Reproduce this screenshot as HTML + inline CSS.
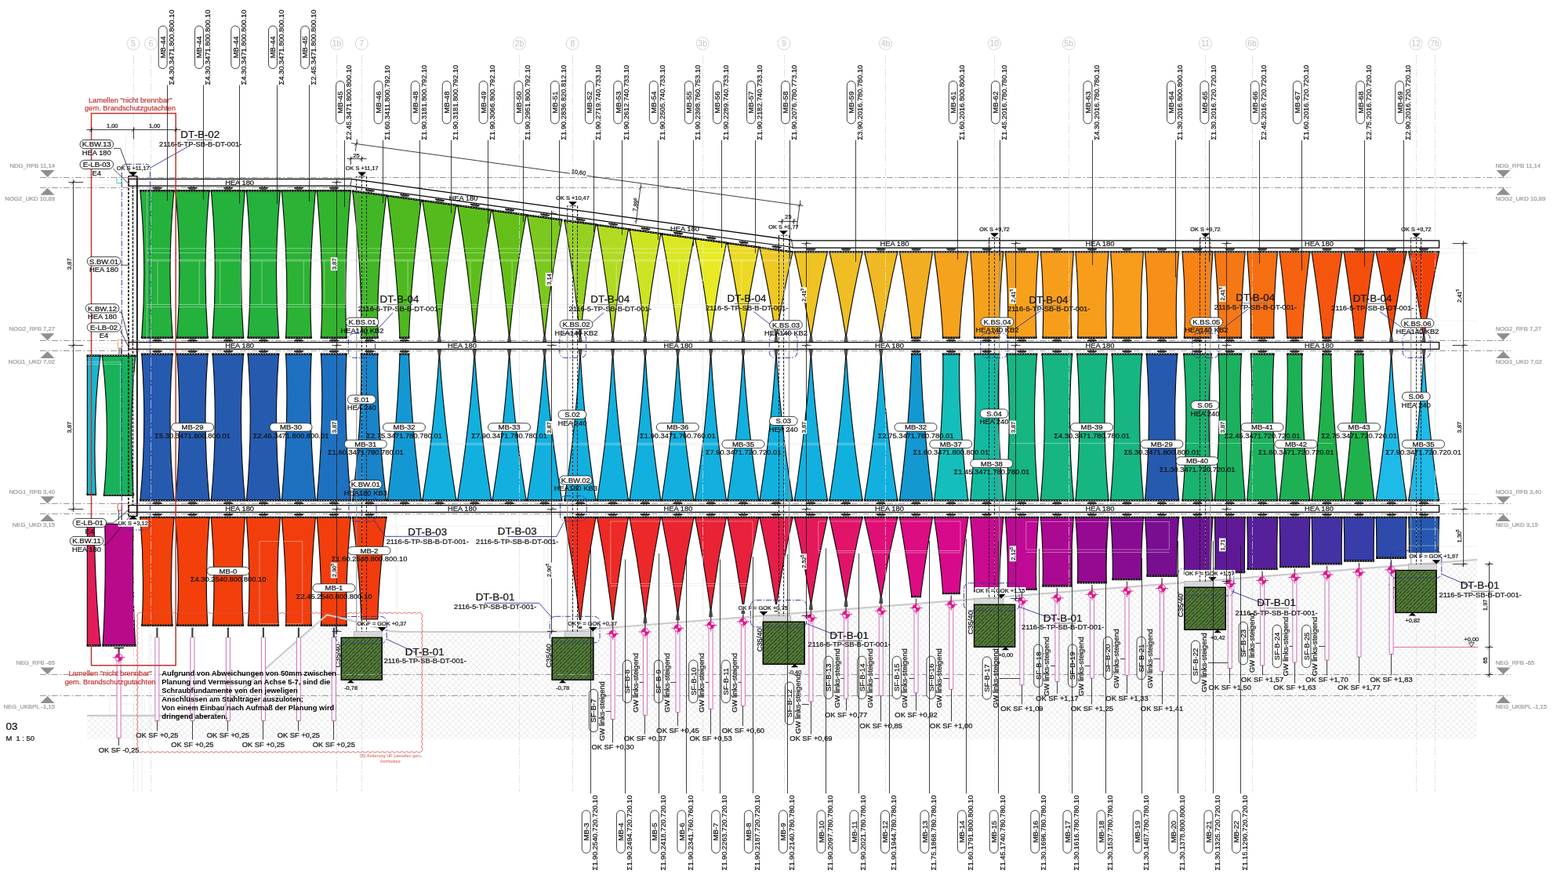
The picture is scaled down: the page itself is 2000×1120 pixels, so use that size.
<!DOCTYPE html><html lang="de"><head><meta charset="utf-8"><title>Ansicht 03 - Lamellen</title><style>
html,body{margin:0;padding:0;background:#fff}
svg{display:block}
text{font-family:"Liberation Sans",sans-serif;fill:#141414;stroke:#141414;stroke-width:.24px}
.t{font-size:9.35px}
.tp{font-size:9.55px}
.tsg{font-size:9.25px}
.ts{font-size:7.6px}
.tl{font-size:13.4px}
.tb{font-size:9.35px;font-weight:bold;fill:#000;stroke:none}
.tg{font-size:7.7px;fill:#979797;stroke:#979797;stroke-width:.2px}
.ta{font-size:10.5px;fill:#c4c4c4;stroke:none}
.tr{font-size:9.3px;fill:#c53030;stroke:#c53030;stroke-width:.2px}
.trs{font-size:5.5px;fill:#e05050;stroke:none}
.td{font-size:7.4px}
.k{stroke:#111;stroke-width:.8}
.k2{stroke:#000;stroke-width:1.3}
.kb{stroke:#000;stroke-width:1.25}
.kd{stroke:#111;stroke-width:.9;stroke-dasharray:3.2 1.8}
.ld{stroke:#1c1c1c;stroke-width:.85}
.pl{stroke:#111;stroke-width:.8}
.sl{stroke:#0a0a0a;stroke-width:1.15;stroke-linejoin:miter}
.cap{stroke:#000;stroke-width:2.2}
.capd{stroke:#fff;stroke-width:.7;stroke-dasharray:1.6 1.7}
.br{fill:#7d7d7d;stroke:#333;stroke-width:.5}
.tc{fill:#555;stroke:#111;stroke-width:.6}
.axw{stroke:#e8eef0;stroke-opacity:.75;stroke-width:.8;stroke-dasharray:11 2.5 2 2.5}
.ax{stroke:#d3dde1;stroke-width:.75;stroke-dasharray:11 2.5 2 2.5}
.axc{stroke:#cfcfcf;stroke-width:.9;fill:#fff}
.lv{stroke:#7d7d7d;stroke-width:.8;stroke-dasharray:7.8 2.8 1.8 2.6}
.lt{fill:#8f8f8f;stroke:none}
.rd{stroke:#c0352f;stroke-width:1.5}
.rc{stroke:#e24a4a;stroke-width:.8}
.bl{stroke:#33339a;stroke-width:.9}
.bd{stroke:#35359e;stroke-width:.95;stroke-dasharray:7 2 1.5 2}
.gt{stroke:#cbcbcb;stroke-width:2.2;stroke-linejoin:round}
.ar{stroke:#e3e3e3;stroke-width:.8}
.arw{stroke:#fff;stroke-opacity:.55;stroke-width:.7}
.pk{stroke:#c870bb;stroke-width:1;fill:#fff}
.mg{stroke:#e6148c;stroke-width:.9}
.mgf{fill:#e6148c;stroke:none}
.fd{fill:#527838;stroke:#000;stroke-width:1.1}
.fc{fill:#d9d9d9;stroke:#9a9a9a;stroke-width:.6}
.bk{fill:#000;stroke:none}
.wb{fill:#fff;stroke:none}
</style></head><body>
<svg width="2000" height="1120" viewBox="0 0 2000 1120" fill="none">
<defs><pattern id="gh" width="7.6" height="7.6" patternUnits="userSpaceOnUse"><path d="M0 0L7.6 7.6M7.6 0L0 7.6" stroke="#e6e6e6" stroke-width=".95" fill="none"/></pattern><pattern id="fh" width="9.6" height="9.6" patternUnits="userSpaceOnUse"><path d="M-1 10.6L10.6 -1M-1 1L1 -1" stroke="#000" stroke-width=".6" fill="none"/><path d="M-1 5.8L5.8 -1M3.8 10.6L10.6 3.8" stroke="#000" stroke-width=".6" stroke-dasharray="3 2" fill="none"/></pattern></defs>
<rect x="0" y="0" width="2000" height="1120" fill="#fff"/>
<path class="" d="M111 913L272 913L410 790L470 806.3L700 806.3L800 799L1200 767.56L1600 736.12L1884 713.8L1884 942.5L111 942.5Z" fill="url(#gh)" stroke="none"/>
<path class="ax" d="M170.5 70L170.5 1011"/>
<circle class="axc" cx="170" cy="55.5" r="8"/>
<text class="ta" x="170" y="59.2" text-anchor="middle">5</text>
<path class="ax" d="M192.5 70L192.5 1011"/>
<circle class="axc" cx="192.5" cy="55.5" r="8"/>
<text class="ta" x="192.5" y="59.2" text-anchor="middle">6</text>
<path class="ax" d="M429.5 70L429.5 1011"/>
<circle class="axc" cx="429.5" cy="55.5" r="8"/>
<text class="ta" x="429.5" y="59.2" text-anchor="middle">1b</text>
<path class="ax" d="M461.5 70L461.5 1011"/>
<circle class="axc" cx="461.25" cy="55.5" r="8"/>
<text class="ta" x="461.25" y="59.2" text-anchor="middle">7</text>
<path class="ax" d="M662.5 70L662.5 1011"/>
<circle class="axc" cx="662.5" cy="55.5" r="8"/>
<text class="ta" x="662.5" y="59.2" text-anchor="middle">2b</text>
<path class="ax" d="M730.5 70L730.5 1011"/>
<circle class="axc" cx="730.3" cy="55.5" r="8"/>
<text class="ta" x="730.3" y="59.2" text-anchor="middle">8</text>
<path class="ax" d="M896.5 70L896.5 1011"/>
<circle class="axc" cx="896.2" cy="55.5" r="8"/>
<text class="ta" x="896.2" y="59.2" text-anchor="middle">3b</text>
<path class="ax" d="M1000.5 70L1000.5 1011"/>
<circle class="axc" cx="1000" cy="55.5" r="8"/>
<text class="ta" x="1000" y="59.2" text-anchor="middle">9</text>
<path class="ax" d="M1129.5 70L1129.5 1011"/>
<circle class="axc" cx="1129.5" cy="55.5" r="8"/>
<text class="ta" x="1129.5" y="59.2" text-anchor="middle">4b</text>
<path class="ax" d="M1268.5 70L1268.5 1011"/>
<circle class="axc" cx="1268.3" cy="55.5" r="8"/>
<text class="ta" x="1268.3" y="59.2" text-anchor="middle">10</text>
<path class="ax" d="M1363.5 70L1363.5 1011"/>
<circle class="axc" cx="1363.2" cy="55.5" r="8"/>
<text class="ta" x="1363.2" y="59.2" text-anchor="middle">5b</text>
<path class="ax" d="M1537.5 70L1537.5 1011"/>
<circle class="axc" cx="1537.4" cy="55.5" r="8"/>
<text class="ta" x="1537.4" y="59.2" text-anchor="middle">11</text>
<path class="ax" d="M1597.5 70L1597.5 1011"/>
<circle class="axc" cx="1597" cy="55.5" r="8"/>
<text class="ta" x="1597" y="59.2" text-anchor="middle">6b</text>
<path class="ax" d="M1806.5 70L1806.5 1011"/>
<circle class="axc" cx="1806.2" cy="55.5" r="8"/>
<text class="ta" x="1806.2" y="59.2" text-anchor="middle">12</text>
<path class="ax" d="M1830.5 70L1830.5 1011"/>
<circle class="axc" cx="1830" cy="55.5" r="8"/>
<text class="ta" x="1830" y="59.2" text-anchor="middle">7b</text>
<path class="lv" d="M51 226.5L1927 226.5"/>
<path class="lt" d="M51.5 217.1L69.5 217.1L60.5 226Z"/>
<path class="lt" d="M1908.5 217.1L1926.5 217.1L1917.5 226Z"/>
<text class="tg" x="70" y="214.1" text-anchor="end">NDG_RFB 11,14</text>
<text class="tg" x="1907.5" y="214.1">NDG_RFB 11,14</text>
<path class="lv" d="M51 239.5L1927 239.5"/>
<path class="lt" d="M51.5 248.8L69.5 248.8L60.5 239.7Z"/>
<path class="lt" d="M1908.5 248.8L1926.5 248.8L1917.5 239.7Z"/>
<text class="tg" x="70" y="255.9" text-anchor="end">NOG2_UKD 10,89</text>
<text class="tg" x="1907.5" y="255.9">NOG2_UKD 10,89</text>
<path class="lv" d="M51 434.5L1927 434.5"/>
<path class="lt" d="M51.5 425.3L69.5 425.3L60.5 434.2Z"/>
<path class="lt" d="M1908.5 425.3L1926.5 425.3L1917.5 434.2Z"/>
<text class="tg" x="70" y="422.3" text-anchor="end">NOG2_RFB 7,27</text>
<text class="tg" x="1907.5" y="422.3">NOG2_RFB 7,27</text>
<path class="lv" d="M51 447.5L1927 447.5"/>
<path class="lt" d="M51.5 457L69.5 457L60.5 447.9Z"/>
<path class="lt" d="M1908.5 457L1926.5 457L1917.5 447.9Z"/>
<text class="tg" x="70" y="464.1" text-anchor="end">NOG1_UKD 7,02</text>
<text class="tg" x="1907.5" y="464.1">NOG1_UKD 7,02</text>
<path class="lv" d="M51 642.5L1927 642.5"/>
<path class="lt" d="M51.5 633.3L69.5 633.3L60.5 642.2Z"/>
<path class="lt" d="M1908.5 633.3L1926.5 633.3L1917.5 642.2Z"/>
<text class="tg" x="70" y="630.3" text-anchor="end">NOG1_RFB 3,40</text>
<text class="tg" x="1907.5" y="630.3">NOG1_RFB 3,40</text>
<path class="lv" d="M51 655.5L1927 655.5"/>
<path class="lt" d="M51.5 665L69.5 665L60.5 655.9Z"/>
<path class="lt" d="M1908.5 665L1926.5 665L1917.5 655.9Z"/>
<text class="tg" x="70" y="672.1" text-anchor="end">NEG_UKD 3,15</text>
<text class="tg" x="1907.5" y="672.1">NEG_UKD 3,15</text>
<path class="lv" d="M51 860.5L1927 860.5"/>
<path class="lt" d="M51.5 851.4L69.5 851.4L60.5 860.3Z"/>
<path class="lt" d="M1908.5 851.4L1926.5 851.4L1917.5 860.3Z"/>
<text class="tg" x="70" y="848.4" text-anchor="end">NEG_RFB -65</text>
<text class="tg" x="1907.5" y="848.4">NEG_RFB -65</text>
<path class="lv" d="M51 887.5L1927 887.5"/>
<path class="lt" d="M51.5 897L69.5 897L60.5 887.9Z"/>
<path class="lt" d="M1908.5 897L1926.5 897L1917.5 887.9Z"/>
<text class="tg" x="70" y="904.1" text-anchor="end">NEG_UKBPL -1,15</text>
<text class="tg" x="1907.5" y="904.1">NEG_UKBPL -1,15</text>
<path class="ar" d="M187 317L1885 317M187 322.6L1885 322.6M187 331.4L1010 331.4M187 333L1010 333M187 388.5L1010 388.5M187 391.6L1010 391.6M201 333L201 388.5M227.6 333L227.6 388.5M254.2 333L254.2 388.5M280.8 333L280.8 388.5M307.4 333L307.4 388.5M334 333L334 388.5M360.6 333L360.6 388.5M387.2 333L387.2 388.5M413.8 333L413.8 388.5M440.4 333L440.4 388.5M467 333L467 388.5M493.6 333L493.6 388.5M520.2 333L520.2 388.5M546.8 333L546.8 388.5M573.4 333L573.4 388.5M600 333L600 388.5M626.6 333L626.6 388.5M653.2 333L653.2 388.5M679.8 333L679.8 388.5M706.4 333L706.4 388.5M733 333L733 388.5M759.6 333L759.6 388.5M786.2 333L786.2 388.5M812.8 333L812.8 388.5M839.4 333L839.4 388.5M866 333L866 388.5M892.6 333L892.6 388.5M919.2 333L919.2 388.5M945.8 333L945.8 388.5M972.4 333L972.4 388.5M999 333L999 388.5M187.5 226L187.5 440M160.5 170L160.5 226M531 565.5L1130 565.5M531 567.5L1130 567.5M1290 565.5L1700 565.5M111 461.8L155 461.8M111 464.6L155 464.6M153.6 462L153.6 630M505 657.5L698.8 657.5M505 805.5L698.8 805.5M505 657.5L505 805.5M698.8 657.5L698.8 805.5M507.5 671L693.8 671M507.5 805.5L693.8 805.5M507.5 671L507.5 805.5M693.8 671L693.8 805.5M331 690.6L385.7 690.6M331 795.7L385.7 795.7M331 690.6L331 795.7M385.7 690.6L385.7 795.7M778.8 665L960 665M778.8 744.5L960 744.5M778.8 665L778.8 744.5M960 665L960 744.5M778.8 747.5L960 747.5M1043.8 665L1225 665M1043.8 702.5L1225 702.5M1043.8 665L1043.8 702.5M1225 665L1225 702.5M1043.8 705L1225 705M1308.8 665.5L1491.3 665.5M1308.8 701L1491.3 701M1308.8 665.5L1308.8 701M1491.3 665.5L1491.3 701M1308.8 704.5L1491.3 704.5M1796 675L1834 675M1796 696L1834 696M1796 675L1796 696M1834 675L1834 696M1799 330L1813 330M1799 394L1813 394M1799 330L1799 394M1813 330L1813 394M1835 409.5L1885 409.5M1835 440.8L1885 440.8M1835 630.5L1885 630.5M1835 638.5L1885 638.5M1835 697L1885 697M112 230L156 230M112 236L156 236M112 438.5L156 438.5M112 444L156 444M112 646.5L156 646.5M112 652L156 652M175.5 800L175.5 1010M181 800L181 1010M190 800L190 960M140 880L140 912M184 880L184 912M140 880L184 880M143 898L181 898"/>
<g id="slats">
<path class="sl" fill="#16b8cf" d="M111.3 454L128 454Q117.6 535 122.4 630.5L111.3 630.5Z"/>
<path class="sl" fill="#18b25a" d="M130.4 454L172.8 454Q163.6 540 170.4 631.5L132.6 631.5Q141 540 130.4 454Z"/>
<path class="cap" d="M110.8 453.5L128.4 453.5"/><path class="capd" d="M113.2 453.5L127 453.5"/>
<path class="k" d="M111 452.8L111 455.6M128.2 452.8L128.2 455.6"/>
<path class="cap" d="M110.8 631L122.8 631"/><path class="capd" d="M113.2 631L121.4 631"/>
<path class="k" d="M111 631.7L111 628.9M122.6 631.7L122.6 628.9"/>
<path class="cap" d="M129.8 453.5L173.2 453.5"/><path class="capd" d="M132.2 453.5L171.8 453.5"/>
<path class="k" d="M130 452.8L130 455.6M173 452.8L173 455.6"/>
<path class="cap" d="M132 632L171 632"/><path class="capd" d="M134.4 632L169.6 632"/>
<path class="k" d="M132.2 632.7L132.2 629.9M170.8 632.7L170.8 629.9"/>
<path class="sl" fill="#e6195f" d="M111.3 668.5L120.2 668.5Q121 750 128 823L111.3 823Z"/>
<path class="sl" fill="#b90a8c" d="M133.8 668.5L170.2 668.5Q168.5 750 172.6 823L131.2 823Q135.5 750 133.8 668.5Z"/>
<path class="cap" d="M110.8 823.7L128.4 823.7"/><path class="capd" d="M113.2 823.7L127 823.7"/>
<path class="k" d="M111 824.4L111 821.6M128.2 824.4L128.2 821.6"/>
<path class="cap" d="M130.6 823.7L173.2 823.7"/><path class="capd" d="M133 823.7L171.8 823.7"/>
<path class="k" d="M130.8 824.4L130.8 821.6M173 824.4L173 821.6"/>
<path class="sl" fill="#24b13c" d="M178.9 243.7L221.9 243.7Q213.17 337.05 220.01 430.4L180.79 430.4Q187.63 337.05 178.9 243.7Z"/>
<path class="cap" d="M178.3 243.2L222.5 243.2"/><path class="capd" d="M180.7 243.2L221.1 243.2"/>
<path class="k" d="M178.5 242.5L178.5 245.3M222.3 242.5L222.3 245.3"/>
<path class="br" d="M194.8 239.8L206 239.8L203.8 241.7L197 241.7Z"/>
<path class="k2" d="M194.4 239.5L206.4 239.5"/>
<path class="k" d="M198.8 239.5L198.8 237.5M202 239.5L202 237.5"/>
<path class="cap" d="M180.19 430.9L220.61 430.9"/><path class="capd" d="M182.59 430.9L219.21 430.9"/>
<path class="k" d="M180.39 431.6L180.39 428.8M220.41 431.6L220.41 428.8"/>
<path class="br" d="M194.8 434.3L206 434.3L203.8 432.4L197 432.4Z"/>
<path class="k2" d="M194.4 434.6L206.4 434.6"/>
<path class="k" d="M198.8 434.6L198.8 436.6M202 434.6L202 436.6"/>
<path class="sl" fill="#265aaf" d="M178.9 638L221.9 638Q213.22 545 220.01 452L180.79 452Q187.58 545 178.9 638Z"/>
<path class="cap" d="M178.3 638.5L222.5 638.5"/><path class="capd" d="M180.7 638.5L221.1 638.5"/>
<path class="k" d="M178.5 639.2L178.5 636.4M222.3 639.2L222.3 636.4"/>
<path class="br" d="M194.8 641.9L206 641.9L203.8 640L197 640Z"/>
<path class="k2" d="M194.4 642.2L206.4 642.2"/>
<path class="k" d="M198.8 642.2L198.8 644.2M202 642.2L202 644.2"/>
<path class="cap" d="M180.19 451.5L220.61 451.5"/><path class="capd" d="M182.59 451.5L219.21 451.5"/>
<path class="k" d="M180.39 450.8L180.39 453.6M220.41 450.8L220.41 453.6"/>
<path class="br" d="M194.8 448.1L206 448.1L203.8 450L197 450Z"/>
<path class="k2" d="M194.4 447.8L206.4 447.8"/>
<path class="k" d="M198.8 447.8L198.8 445.8M202 447.8L202 445.8"/>
<path class="sl" fill="#f3410a" d="M178.9 660.3L221.9 660.3Q216.08 728.8 219.75 797.3L181.05 797.3Q184.72 728.8 178.9 660.3Z"/>
<path class="cap" d="M178.3 659.8L222.5 659.8"/><path class="capd" d="M180.7 659.8L221.1 659.8"/>
<path class="k" d="M178.5 659.1L178.5 661.9M222.3 659.1L222.3 661.9"/>
<path class="br" d="M194.8 656.4L206 656.4L203.8 658.3L197 658.3Z"/>
<path class="k2" d="M194.4 656.1L206.4 656.1"/>
<path class="k" d="M198.8 656.1L198.8 654.1M202 656.1L202 654.1"/>
<path class="cap" d="M180.45 797.8L220.35 797.8"/><path class="capd" d="M182.85 797.8L218.95 797.8"/>
<path class="k" d="M180.65 798.5L180.65 795.7M220.15 798.5L220.15 795.7"/>
<path class="sl" fill="#24b13c" d="M223.9 243.7L266.9 243.7Q258.17 337.05 265.01 430.4L225.79 430.4Q232.63 337.05 223.9 243.7Z"/>
<path class="cap" d="M223.3 243.2L267.5 243.2"/><path class="capd" d="M225.7 243.2L266.1 243.2"/>
<path class="k" d="M223.5 242.5L223.5 245.3M267.3 242.5L267.3 245.3"/>
<path class="br" d="M239.8 239.8L251 239.8L248.8 241.7L242 241.7Z"/>
<path class="k2" d="M239.4 239.5L251.4 239.5"/>
<path class="k" d="M243.8 239.5L243.8 237.5M247 239.5L247 237.5"/>
<path class="cap" d="M225.19 430.9L265.61 430.9"/><path class="capd" d="M227.59 430.9L264.21 430.9"/>
<path class="k" d="M225.39 431.6L225.39 428.8M265.41 431.6L265.41 428.8"/>
<path class="br" d="M239.8 434.3L251 434.3L248.8 432.4L242 432.4Z"/>
<path class="k2" d="M239.4 434.6L251.4 434.6"/>
<path class="k" d="M243.8 434.6L243.8 436.6M247 434.6L247 436.6"/>
<path class="sl" fill="#265aaf" d="M223.9 638L266.9 638Q258.22 545 265.01 452L225.79 452Q232.58 545 223.9 638Z"/>
<path class="cap" d="M223.3 638.5L267.5 638.5"/><path class="capd" d="M225.7 638.5L266.1 638.5"/>
<path class="k" d="M223.5 639.2L223.5 636.4M267.3 639.2L267.3 636.4"/>
<path class="br" d="M239.8 641.9L251 641.9L248.8 640L242 640Z"/>
<path class="k2" d="M239.4 642.2L251.4 642.2"/>
<path class="k" d="M243.8 642.2L243.8 644.2M247 642.2L247 644.2"/>
<path class="cap" d="M225.19 451.5L265.61 451.5"/><path class="capd" d="M227.59 451.5L264.21 451.5"/>
<path class="k" d="M225.39 450.8L225.39 453.6M265.41 450.8L265.41 453.6"/>
<path class="br" d="M239.8 448.1L251 448.1L248.8 450L242 450Z"/>
<path class="k2" d="M239.4 447.8L251.4 447.8"/>
<path class="k" d="M243.8 447.8L243.8 445.8M247 447.8L247 445.8"/>
<path class="sl" fill="#f3400b" d="M223.9 660.3L266.9 660.3Q261.08 728.8 264.75 797.3L226.05 797.3Q229.72 728.8 223.9 660.3Z"/>
<path class="cap" d="M223.3 659.8L267.5 659.8"/><path class="capd" d="M225.7 659.8L266.1 659.8"/>
<path class="k" d="M223.5 659.1L223.5 661.9M267.3 659.1L267.3 661.9"/>
<path class="br" d="M239.8 656.4L251 656.4L248.8 658.3L242 658.3Z"/>
<path class="k2" d="M239.4 656.1L251.4 656.1"/>
<path class="k" d="M243.8 656.1L243.8 654.1M247 656.1L247 654.1"/>
<path class="cap" d="M225.45 797.8L265.35 797.8"/><path class="capd" d="M227.85 797.8L263.95 797.8"/>
<path class="k" d="M225.65 798.5L225.65 795.7M265.15 798.5L265.15 795.7"/>
<path class="sl" fill="#24b13c" d="M269.4 243.7L312.4 243.7Q303.67 337.05 310.51 430.4L271.29 430.4Q278.13 337.05 269.4 243.7Z"/>
<path class="cap" d="M268.8 243.2L313 243.2"/><path class="capd" d="M271.2 243.2L311.6 243.2"/>
<path class="k" d="M269 242.5L269 245.3M312.8 242.5L312.8 245.3"/>
<path class="br" d="M285.3 239.8L296.5 239.8L294.3 241.7L287.5 241.7Z"/>
<path class="k2" d="M284.9 239.5L296.9 239.5"/>
<path class="k" d="M289.3 239.5L289.3 237.5M292.5 239.5L292.5 237.5"/>
<path class="cap" d="M270.69 430.9L311.11 430.9"/><path class="capd" d="M273.09 430.9L309.71 430.9"/>
<path class="k" d="M270.89 431.6L270.89 428.8M310.91 431.6L310.91 428.8"/>
<path class="br" d="M285.3 434.3L296.5 434.3L294.3 432.4L287.5 432.4Z"/>
<path class="k2" d="M284.9 434.6L296.9 434.6"/>
<path class="k" d="M289.3 434.6L289.3 436.6M292.5 434.6L292.5 436.6"/>
<path class="sl" fill="#265aaf" d="M269.4 638L312.4 638Q303.72 545 310.51 452L271.29 452Q278.08 545 269.4 638Z"/>
<path class="cap" d="M268.8 638.5L313 638.5"/><path class="capd" d="M271.2 638.5L311.6 638.5"/>
<path class="k" d="M269 639.2L269 636.4M312.8 639.2L312.8 636.4"/>
<path class="br" d="M285.3 641.9L296.5 641.9L294.3 640L287.5 640Z"/>
<path class="k2" d="M284.9 642.2L296.9 642.2"/>
<path class="k" d="M289.3 642.2L289.3 644.2M292.5 642.2L292.5 644.2"/>
<path class="cap" d="M270.69 451.5L311.11 451.5"/><path class="capd" d="M273.09 451.5L309.71 451.5"/>
<path class="k" d="M270.89 450.8L270.89 453.6M310.91 450.8L310.91 453.6"/>
<path class="br" d="M285.3 448.1L296.5 448.1L294.3 450L287.5 450Z"/>
<path class="k2" d="M284.9 447.8L296.9 447.8"/>
<path class="k" d="M289.3 447.8L289.3 445.8M292.5 447.8L292.5 445.8"/>
<path class="sl" fill="#f33f0b" d="M269.4 660.3L312.4 660.3Q306.58 728.8 310.25 797.3L271.55 797.3Q275.22 728.8 269.4 660.3Z"/>
<path class="cap" d="M268.8 659.8L313 659.8"/><path class="capd" d="M271.2 659.8L311.6 659.8"/>
<path class="k" d="M269 659.1L269 661.9M312.8 659.1L312.8 661.9"/>
<path class="br" d="M285.3 656.4L296.5 656.4L294.3 658.3L287.5 658.3Z"/>
<path class="k2" d="M284.9 656.1L296.9 656.1"/>
<path class="k" d="M289.3 656.1L289.3 654.1M292.5 656.1L292.5 654.1"/>
<path class="cap" d="M270.95 797.8L310.85 797.8"/><path class="capd" d="M273.35 797.8L309.45 797.8"/>
<path class="k" d="M271.15 798.5L271.15 795.7M310.65 798.5L310.65 795.7"/>
<path class="sl" fill="#24b13c" d="M314.4 243.7L357.4 243.7Q348.67 337.05 355.51 430.4L316.29 430.4Q323.13 337.05 314.4 243.7Z"/>
<path class="cap" d="M313.8 243.2L358 243.2"/><path class="capd" d="M316.2 243.2L356.6 243.2"/>
<path class="k" d="M314 242.5L314 245.3M357.8 242.5L357.8 245.3"/>
<path class="br" d="M330.3 239.8L341.5 239.8L339.3 241.7L332.5 241.7Z"/>
<path class="k2" d="M329.9 239.5L341.9 239.5"/>
<path class="k" d="M334.3 239.5L334.3 237.5M337.5 239.5L337.5 237.5"/>
<path class="cap" d="M315.69 430.9L356.11 430.9"/><path class="capd" d="M318.09 430.9L354.71 430.9"/>
<path class="k" d="M315.89 431.6L315.89 428.8M355.91 431.6L355.91 428.8"/>
<path class="br" d="M330.3 434.3L341.5 434.3L339.3 432.4L332.5 432.4Z"/>
<path class="k2" d="M329.9 434.6L341.9 434.6"/>
<path class="k" d="M334.3 434.6L334.3 436.6M337.5 434.6L337.5 436.6"/>
<path class="sl" fill="#265aaf" d="M314.4 638L357.4 638Q348.72 545 355.51 452L316.29 452Q323.08 545 314.4 638Z"/>
<path class="cap" d="M313.8 638.5L358 638.5"/><path class="capd" d="M316.2 638.5L356.6 638.5"/>
<path class="k" d="M314 639.2L314 636.4M357.8 639.2L357.8 636.4"/>
<path class="br" d="M330.3 641.9L341.5 641.9L339.3 640L332.5 640Z"/>
<path class="k2" d="M329.9 642.2L341.9 642.2"/>
<path class="k" d="M334.3 642.2L334.3 644.2M337.5 642.2L337.5 644.2"/>
<path class="cap" d="M315.69 451.5L356.11 451.5"/><path class="capd" d="M318.09 451.5L354.71 451.5"/>
<path class="k" d="M315.89 450.8L315.89 453.6M355.91 450.8L355.91 453.6"/>
<path class="br" d="M330.3 448.1L341.5 448.1L339.3 450L332.5 450Z"/>
<path class="k2" d="M329.9 447.8L341.9 447.8"/>
<path class="k" d="M334.3 447.8L334.3 445.8M337.5 447.8L337.5 445.8"/>
<path class="sl" fill="#f23e0c" d="M314.4 660.3L357.4 660.3Q351.58 728.8 355.25 797.3L316.55 797.3Q320.22 728.8 314.4 660.3Z"/>
<path class="cap" d="M313.8 659.8L358 659.8"/><path class="capd" d="M316.2 659.8L356.6 659.8"/>
<path class="k" d="M314 659.1L314 661.9M357.8 659.1L357.8 661.9"/>
<path class="br" d="M330.3 656.4L341.5 656.4L339.3 658.3L332.5 658.3Z"/>
<path class="k2" d="M329.9 656.1L341.9 656.1"/>
<path class="k" d="M334.3 656.1L334.3 654.1M337.5 656.1L337.5 654.1"/>
<path class="cap" d="M315.95 797.8L355.85 797.8"/><path class="capd" d="M318.35 797.8L354.45 797.8"/>
<path class="k" d="M316.15 798.5L316.15 795.7M355.65 798.5L355.65 795.7"/>
<path class="sl" fill="#2cb235" d="M359.4 243.7L402.4 243.7Q392.98 348.25 397.13 430.4L364.67 430.4Q368.82 348.25 359.4 243.7Z"/>
<path class="cap" d="M358.8 243.2L403 243.2"/><path class="capd" d="M361.2 243.2L401.6 243.2"/>
<path class="k" d="M359 242.5L359 245.3M402.8 242.5L402.8 245.3"/>
<path class="br" d="M375.3 239.8L386.5 239.8L384.3 241.7L377.5 241.7Z"/>
<path class="k2" d="M374.9 239.5L386.9 239.5"/>
<path class="k" d="M379.3 239.5L379.3 237.5M382.5 239.5L382.5 237.5"/>
<path class="cap" d="M364.07 430.9L397.73 430.9"/><path class="capd" d="M366.47 430.9L396.33 430.9"/>
<path class="k" d="M364.27 431.6L364.27 428.8M397.53 431.6L397.53 428.8"/>
<path class="br" d="M375.3 434.3L386.5 434.3L384.3 432.4L377.5 432.4Z"/>
<path class="k2" d="M374.9 434.6L386.9 434.6"/>
<path class="k" d="M379.3 434.6L379.3 436.6M382.5 434.6L382.5 436.6"/>
<path class="sl" fill="#1e70c0" d="M359.4 638L402.4 638Q393.02 533.84 397.13 452L364.67 452Q368.78 533.84 359.4 638Z"/>
<path class="cap" d="M358.8 638.5L403 638.5"/><path class="capd" d="M361.2 638.5L401.6 638.5"/>
<path class="k" d="M359 639.2L359 636.4M402.8 639.2L402.8 636.4"/>
<path class="br" d="M375.3 641.9L386.5 641.9L384.3 640L377.5 640Z"/>
<path class="k2" d="M374.9 642.2L386.9 642.2"/>
<path class="k" d="M379.3 642.2L379.3 644.2M382.5 642.2L382.5 644.2"/>
<path class="cap" d="M364.07 451.5L397.73 451.5"/><path class="capd" d="M366.47 451.5L396.33 451.5"/>
<path class="k" d="M364.27 450.8L364.27 453.6M397.53 450.8L397.53 453.6"/>
<path class="br" d="M375.3 448.1L386.5 448.1L384.3 450L377.5 450Z"/>
<path class="k2" d="M374.9 447.8L386.9 447.8"/>
<path class="k" d="M379.3 447.8L379.3 445.8M382.5 447.8L382.5 445.8"/>
<path class="sl" fill="#f23e0d" d="M359.4 660.3L402.4 660.3Q395.63 737.02 397.13 797.3L364.67 797.3Q366.17 737.02 359.4 660.3Z"/>
<path class="cap" d="M358.8 659.8L403 659.8"/><path class="capd" d="M361.2 659.8L401.6 659.8"/>
<path class="k" d="M359 659.1L359 661.9M402.8 659.1L402.8 661.9"/>
<path class="br" d="M375.3 656.4L386.5 656.4L384.3 658.3L377.5 658.3Z"/>
<path class="k2" d="M374.9 656.1L386.9 656.1"/>
<path class="k" d="M379.3 656.1L379.3 654.1M382.5 656.1L382.5 654.1"/>
<path class="cap" d="M364.07 797.8L397.73 797.8"/><path class="capd" d="M366.47 797.8L396.33 797.8"/>
<path class="k" d="M364.27 798.5L364.27 795.7M397.53 798.5L397.53 795.7"/>
<path class="sl" fill="#34b42e" d="M404.3 243.7L447.3 243.7Q437.88 348.25 442.03 430.4L409.57 430.4Q413.72 348.25 404.3 243.7Z"/>
<path class="cap" d="M403.7 243.2L447.9 243.2"/><path class="capd" d="M406.1 243.2L446.5 243.2"/>
<path class="k" d="M403.9 242.5L403.9 245.3M447.7 242.5L447.7 245.3"/>
<path class="br" d="M420.2 239.8L431.4 239.8L429.2 241.7L422.4 241.7Z"/>
<path class="k2" d="M419.8 239.5L431.8 239.5"/>
<path class="k" d="M424.2 239.5L424.2 237.5M427.4 239.5L427.4 237.5"/>
<path class="cap" d="M408.97 430.9L442.63 430.9"/><path class="capd" d="M411.37 430.9L441.23 430.9"/>
<path class="k" d="M409.17 431.6L409.17 428.8M442.43 431.6L442.43 428.8"/>
<path class="br" d="M420.2 434.3L431.4 434.3L429.2 432.4L422.4 432.4Z"/>
<path class="k2" d="M419.8 434.6L431.8 434.6"/>
<path class="k" d="M424.2 434.6L424.2 436.6M427.4 434.6L427.4 436.6"/>
<path class="sl" fill="#1e70c0" d="M404.3 638L447.3 638Q437.92 533.84 442.03 452L409.57 452Q413.68 533.84 404.3 638Z"/>
<path class="cap" d="M403.7 638.5L447.9 638.5"/><path class="capd" d="M406.1 638.5L446.5 638.5"/>
<path class="k" d="M403.9 639.2L403.9 636.4M447.7 639.2L447.7 636.4"/>
<path class="br" d="M420.2 641.9L431.4 641.9L429.2 640L422.4 640Z"/>
<path class="k2" d="M419.8 642.2L431.8 642.2"/>
<path class="k" d="M424.2 642.2L424.2 644.2M427.4 642.2L427.4 644.2"/>
<path class="cap" d="M408.97 451.5L442.63 451.5"/><path class="capd" d="M411.37 451.5L441.23 451.5"/>
<path class="k" d="M409.17 450.8L409.17 453.6M442.43 450.8L442.43 453.6"/>
<path class="br" d="M420.2 448.1L431.4 448.1L429.2 450L422.4 450Z"/>
<path class="k2" d="M419.8 447.8L431.8 447.8"/>
<path class="k" d="M424.2 447.8L424.2 445.8M427.4 447.8L427.4 445.8"/>
<path class="sl" fill="#f23d0d" d="M404.3 660.3L447.3 660.3Q440.53 737.02 442.03 797.3L409.57 797.3Q411.07 737.02 404.3 660.3Z"/>
<path class="cap" d="M403.7 659.8L447.9 659.8"/><path class="capd" d="M406.1 659.8L446.5 659.8"/>
<path class="k" d="M403.9 659.1L403.9 661.9M447.7 659.1L447.7 661.9"/>
<path class="br" d="M420.2 656.4L431.4 656.4L429.2 658.3L422.4 658.3Z"/>
<path class="k2" d="M419.8 656.1L431.8 656.1"/>
<path class="k" d="M424.2 656.1L424.2 654.1M427.4 656.1L427.4 654.1"/>
<path class="cap" d="M408.97 797.8L442.63 797.8"/><path class="capd" d="M411.37 797.8L441.23 797.8"/>
<path class="k" d="M409.17 798.5L409.17 795.7M442.43 798.5L442.43 795.7"/>
<path class="sl" fill="#41b626" d="M449.75 243.8L492.75 249.79Q480.28 350.93 481.79 430.4L460.71 430.4Q462.22 348.3 449.75 243.8Z"/>
<path class="cap" d="M449.15 243.3L493.35 249.29"/><path class="capd" d="M451.55 243.3L491.95 249.29"/>
<path class="k" d="M449.35 242.6L449.35 245.4M493.15 248.59L493.15 251.39"/>
<g transform="rotate(7.92 471.25 246.79)">
<path class="br" d="M465.65 242.89L476.85 242.89L474.65 244.79L467.85 244.79Z"/>
<path class="k2" d="M465.25 242.59L477.25 242.59"/>
<path class="k" d="M469.65 242.59L469.65 240.59M472.85 242.59L472.85 240.59"/>
</g>
<path class="cap" d="M460.11 430.9L482.39 430.9"/><path class="capd" d="M462.51 430.9L480.99 430.9"/>
<path class="k" d="M460.31 431.6L460.31 428.8M482.19 431.6L482.19 428.8"/>
<path class="br" d="M465.65 434.3L476.85 434.3L474.65 432.4L467.85 432.4Z"/>
<path class="k2" d="M465.25 434.6L477.25 434.6"/>
<path class="k" d="M469.65 434.6L469.65 436.6M472.85 434.6L472.85 436.6"/>
<path class="sl" fill="#1984ca" d="M449.75 638L492.75 638Q480.13 533.84 481.79 452L460.71 452Q462.37 533.84 449.75 638Z"/>
<path class="cap" d="M449.15 638.5L493.35 638.5"/><path class="capd" d="M451.55 638.5L491.95 638.5"/>
<path class="k" d="M449.35 639.2L449.35 636.4M493.15 639.2L493.15 636.4"/>
<path class="br" d="M465.65 641.9L476.85 641.9L474.65 640L467.85 640Z"/>
<path class="k2" d="M465.25 642.2L477.25 642.2"/>
<path class="k" d="M469.65 642.2L469.65 644.2M472.85 642.2L472.85 644.2"/>
<path class="cap" d="M460.11 451.5L482.39 451.5"/><path class="capd" d="M462.51 451.5L480.99 451.5"/>
<path class="k" d="M460.31 450.8L460.31 453.6M482.19 450.8L482.19 453.6"/>
<path class="br" d="M465.65 448.1L476.85 448.1L474.65 450L467.85 450Z"/>
<path class="k2" d="M465.25 447.8L477.25 447.8"/>
<path class="k" d="M469.65 447.8L469.65 445.8M472.85 447.8L472.85 445.8"/>
<path class="sl" fill="#f23c0e" d="M449.75 660.3L492.75 660.3Q483.26 732.93 481.79 790L460.71 790Q459.24 732.93 449.75 660.3Z"/>
<path class="cap" d="M449.15 659.8L493.35 659.8"/><path class="capd" d="M451.55 659.8L491.95 659.8"/>
<path class="k" d="M449.35 659.1L449.35 661.9M493.15 659.1L493.15 661.9"/>
<path class="br" d="M465.65 656.4L476.85 656.4L474.65 658.3L467.85 658.3Z"/>
<path class="k2" d="M465.25 656.1L477.25 656.1"/>
<path class="k" d="M469.65 656.1L469.65 654.1M472.85 656.1L472.85 654.1"/>
<path class="sl" fill="#4eb91e" d="M494.25 249.99L537.25 255.98Q524.25 353.65 521.55 430.4L509.94 430.4Q507.25 351.02 494.25 249.99Z"/>
<path class="cap" d="M493.65 249.49L537.85 255.48"/><path class="capd" d="M496.05 249.49L536.45 255.48"/>
<path class="k" d="M493.85 248.79L493.85 251.59M537.65 254.78L537.65 257.58"/>
<g transform="rotate(7.92 515.75 252.98)">
<path class="br" d="M510.15 249.08L521.35 249.08L519.15 250.98L512.35 250.98Z"/>
<path class="k2" d="M509.75 248.78L521.75 248.78"/>
<path class="k" d="M514.15 248.78L514.15 246.78M517.35 248.78L517.35 246.78"/>
</g>
<path class="cap" d="M509.34 430.9L522.15 430.9"/><path class="capd" d="M511.74 430.9L520.75 430.9"/>
<path class="k" d="M509.54 431.6L509.54 428.8M521.95 431.6L521.95 428.8"/>
<path class="br" d="M510.15 434.3L521.35 434.3L519.15 432.4L512.35 432.4Z"/>
<path class="k2" d="M509.75 434.6L521.75 434.6"/>
<path class="k" d="M514.15 434.6L514.15 436.6M517.35 434.6L517.35 436.6"/>
<path class="sl" fill="#1498d4" d="M494.25 638L537.25 638Q523.85 533.84 521.55 452L509.94 452Q507.65 533.84 494.25 638Z"/>
<path class="cap" d="M493.65 638.5L537.85 638.5"/><path class="capd" d="M496.05 638.5L536.45 638.5"/>
<path class="k" d="M493.85 639.2L493.85 636.4M537.65 639.2L537.65 636.4"/>
<path class="br" d="M510.15 641.9L521.35 641.9L519.15 640L512.35 640Z"/>
<path class="k2" d="M509.75 642.2L521.75 642.2"/>
<path class="k" d="M514.15 642.2L514.15 644.2M517.35 642.2L517.35 644.2"/>
<path class="cap" d="M509.34 451.5L522.15 451.5"/><path class="capd" d="M511.74 451.5L520.75 451.5"/>
<path class="k" d="M509.54 450.8L509.54 453.6M521.95 450.8L521.95 453.6"/>
<path class="br" d="M510.15 448.1L521.35 448.1L519.15 450L512.35 450Z"/>
<path class="k2" d="M509.75 447.8L521.75 447.8"/>
<path class="k" d="M514.15 447.8L514.15 445.8M517.35 447.8L517.35 445.8"/>
<path class="sl" fill="#55bb1c" d="M538.9 256.21L581.9 262.19Q567.33 345.54 560.7 428.9L560.1 428.9Q553.47 342.55 538.9 256.21Z"/>
<path class="cap" d="M538.3 255.71L582.5 261.69"/><path class="capd" d="M540.7 255.71L581.1 261.69"/>
<path class="k" d="M538.5 255.01L538.5 257.81M582.3 260.99L582.3 263.79"/>
<g transform="rotate(7.92 560.4 259.2)">
<path class="br" d="M554.8 255.3L566 255.3L563.8 257.2L557 257.2Z"/>
<path class="k2" d="M554.4 255L566.4 255"/>
<path class="k" d="M558.8 255L558.8 253M562 255L562 253"/>
</g>
<path class="tc" d="M558.3 436.6L562.5 436.6L561.5 428.9L559.3 428.9Z"/>
<path class="sl" fill="#12b0de" d="M538.9 638L581.9 638Q566.79 545.75 560.7 453.5L560.1 453.5Q554.01 545.75 538.9 638Z"/>
<path class="cap" d="M538.3 638.5L582.5 638.5"/><path class="capd" d="M540.7 638.5L581.1 638.5"/>
<path class="k" d="M538.5 639.2L538.5 636.4M582.3 639.2L582.3 636.4"/>
<path class="br" d="M554.8 641.9L566 641.9L563.8 640L557 640Z"/>
<path class="k2" d="M554.4 642.2L566.4 642.2"/>
<path class="k" d="M558.8 642.2L558.8 644.2M562 642.2L562 644.2"/>
<path class="tc" d="M558.3 445.8L562.5 445.8L561.5 453.5L559.3 453.5Z"/>
<path class="sl" fill="#5dbe1b" d="M583.75 262.44L626.75 268.43Q612.4 348.66 605.55 428.9L604.95 428.9Q598.1 345.67 583.75 262.44Z"/>
<path class="cap" d="M583.15 261.94L627.35 267.93"/><path class="capd" d="M585.55 261.94L625.95 267.93"/>
<path class="k" d="M583.35 261.24L583.35 264.04M627.15 267.23L627.15 270.03"/>
<g transform="rotate(7.92 605.25 265.43)">
<path class="br" d="M599.65 261.53L610.85 261.53L608.65 263.43L601.85 263.43Z"/>
<path class="k2" d="M599.25 261.23L611.25 261.23"/>
<path class="k" d="M603.65 261.23L603.65 259.23M606.85 261.23L606.85 259.23"/>
</g>
<path class="tc" d="M603.15 436.6L607.35 436.6L606.35 428.9L604.15 428.9Z"/>
<path class="sl" fill="#12b0de" d="M583.75 638L626.75 638Q611.64 545.75 605.55 453.5L604.95 453.5Q598.86 545.75 583.75 638Z"/>
<path class="cap" d="M583.15 638.5L627.35 638.5"/><path class="capd" d="M585.55 638.5L625.95 638.5"/>
<path class="k" d="M583.35 639.2L583.35 636.4M627.15 639.2L627.15 636.4"/>
<path class="br" d="M599.65 641.9L610.85 641.9L608.65 640L601.85 640Z"/>
<path class="k2" d="M599.25 642.2L611.25 642.2"/>
<path class="k" d="M603.65 642.2L603.65 644.2M606.85 642.2L606.85 644.2"/>
<path class="tc" d="M603.15 445.8L607.35 445.8L606.35 453.5L604.15 453.5Z"/>
<path class="sl" fill="#64c019" d="M628.1 268.61L671.1 274.59Q656.96 351.75 649.9 428.9L649.3 428.9Q642.24 348.76 628.1 268.61Z"/>
<path class="cap" d="M627.5 268.11L671.7 274.09"/><path class="capd" d="M629.9 268.11L670.3 274.09"/>
<path class="k" d="M627.7 267.41L627.7 270.21M671.5 273.39L671.5 276.19"/>
<g transform="rotate(7.92 649.6 271.6)">
<path class="br" d="M644 267.7L655.2 267.7L653 269.6L646.2 269.6Z"/>
<path class="k2" d="M643.6 267.4L655.6 267.4"/>
<path class="k" d="M648 267.4L648 265.4M651.2 267.4L651.2 265.4"/>
</g>
<path class="tc" d="M647.5 436.6L651.7 436.6L650.7 428.9L648.5 428.9Z"/>
<path class="sl" fill="#12b0de" d="M628.1 638L671.1 638Q655.99 545.75 649.9 453.5L649.3 453.5Q643.21 545.75 628.1 638Z"/>
<path class="cap" d="M627.5 638.5L671.7 638.5"/><path class="capd" d="M629.9 638.5L670.3 638.5"/>
<path class="k" d="M627.7 639.2L627.7 636.4M671.5 639.2L671.5 636.4"/>
<path class="br" d="M644 641.9L655.2 641.9L653 640L646.2 640Z"/>
<path class="k2" d="M643.6 642.2L655.6 642.2"/>
<path class="k" d="M648 642.2L648 644.2M651.2 642.2L651.2 644.2"/>
<path class="tc" d="M647.5 445.8L651.7 445.8L650.7 453.5L648.5 453.5Z"/>
<path class="sl" fill="#7dc81e" d="M672.56 274.8L716.64 280.93Q702.44 354.91 694.9 428.9L694.3 428.9Q686.76 351.85 672.56 274.8Z"/>
<path class="cap" d="M671.96 274.3L717.24 280.43"/><path class="capd" d="M674.36 274.3L715.84 280.43"/>
<path class="k" d="M672.16 273.6L672.16 276.4M717.04 279.73L717.04 282.53"/>
<g transform="rotate(7.92 694.6 277.86)">
<path class="br" d="M689 273.96L700.2 273.96L698 275.86L691.2 275.86Z"/>
<path class="k2" d="M688.6 273.66L700.6 273.66"/>
<path class="k" d="M693 273.66L693 271.66M696.2 273.66L696.2 271.66"/>
</g>
<path class="tc" d="M692.5 436.6L696.7 436.6L695.7 428.9L693.5 428.9Z"/>
<path class="sl" fill="#12b0de" d="M672.56 638L716.64 638Q701.26 545.75 694.9 453.5L694.3 453.5Q687.94 545.75 672.56 638Z"/>
<path class="cap" d="M671.96 638.5L717.24 638.5"/><path class="capd" d="M674.36 638.5L715.84 638.5"/>
<path class="k" d="M672.16 639.2L672.16 636.4M717.04 639.2L717.04 636.4"/>
<path class="br" d="M689 641.9L700.2 641.9L698 640L691.2 640Z"/>
<path class="k2" d="M688.6 642.2L700.6 642.2"/>
<path class="k" d="M693 642.2L693 644.2M696.2 642.2L696.2 644.2"/>
<path class="tc" d="M692.5 445.8L696.7 445.8L695.7 453.5L693.5 453.5Z"/>
<path class="sl" fill="#96d023" d="M720.11 281.41L759.89 286.94Q746.98 357.92 740.3 428.9L739.7 428.9Q733.02 355.16 720.11 281.41Z"/>
<path class="cap" d="M719.51 280.91L760.49 286.44"/><path class="capd" d="M721.91 280.91L759.09 286.44"/>
<path class="k" d="M719.71 280.21L719.71 283.01M760.29 285.74L760.29 288.54"/>
<g transform="rotate(7.92 740 284.18)">
<path class="br" d="M734.4 280.28L745.6 280.28L743.4 282.18L736.6 282.18Z"/>
<path class="k2" d="M734 279.98L746 279.98"/>
<path class="k" d="M738.4 279.98L738.4 277.98M741.6 279.98L741.6 277.98"/>
</g>
<path class="tc" d="M737.9 436.6L742.1 436.6L741.1 428.9L738.9 428.9Z"/>
<path class="sl" fill="#12b0de" d="M720.11 638L759.89 638Q745.58 545.75 740.3 453.5L739.7 453.5Q734.42 545.75 720.11 638Z"/>
<path class="cap" d="M719.51 638.5L760.49 638.5"/><path class="capd" d="M721.91 638.5L759.09 638.5"/>
<path class="k" d="M719.71 639.2L719.71 636.4M760.29 639.2L760.29 636.4"/>
<path class="br" d="M734.4 641.9L745.6 641.9L743.4 640L736.6 640Z"/>
<path class="k2" d="M734 642.2L746 642.2"/>
<path class="k" d="M738.4 642.2L738.4 644.2M741.6 642.2L741.6 644.2"/>
<path class="tc" d="M737.9 445.8L742.1 445.8L741.1 453.5L738.9 453.5Z"/>
<path class="sl" fill="#ee2d20" d="M720.11 660.3L759.89 660.3Q747.33 727.06 740.3 793.82L739.7 793.82Q732.67 727.06 720.11 660.3Z"/>
<path class="cap" d="M719.51 659.8L760.49 659.8"/><path class="capd" d="M721.91 659.8L759.09 659.8"/>
<path class="k" d="M719.71 659.1L719.71 661.9M760.29 659.1L760.29 661.9"/>
<path class="br" d="M734.4 656.4L745.6 656.4L743.4 658.3L736.6 658.3Z"/>
<path class="k2" d="M734 656.1L746 656.1"/>
<path class="k" d="M738.4 656.1L738.4 654.1M741.6 656.1L741.6 654.1"/>
<path class="tc" d="M737.9 801.52L742.1 801.52L741.1 793.82L738.9 793.82Z"/>
<path class="sl" fill="#b2da23" d="M761.71 287.2L801.49 292.73Q788.76 360.82 781.9 428.9L781.3 428.9Q774.44 358.05 761.71 287.2Z"/>
<path class="cap" d="M761.11 286.7L802.09 292.23"/><path class="capd" d="M763.51 286.7L800.69 292.23"/>
<path class="k" d="M761.31 286L761.31 288.8M801.89 291.53L801.89 294.33"/>
<g transform="rotate(7.92 781.6 289.96)">
<path class="br" d="M776 286.06L787.2 286.06L785 287.96L778.2 287.96Z"/>
<path class="k2" d="M775.6 285.76L787.6 285.76"/>
<path class="k" d="M780 285.76L780 283.76M783.2 285.76L783.2 283.76"/>
</g>
<path class="tc" d="M779.5 436.6L783.7 436.6L782.7 428.9L780.5 428.9Z"/>
<path class="sl" fill="#12b0de" d="M761.71 638L801.49 638Q787.18 545.75 781.9 453.5L781.3 453.5Q776.02 545.75 761.71 638Z"/>
<path class="cap" d="M761.11 638.5L802.09 638.5"/><path class="capd" d="M763.51 638.5L800.69 638.5"/>
<path class="k" d="M761.31 639.2L761.31 636.4M801.89 639.2L801.89 636.4"/>
<path class="br" d="M776 641.9L787.2 641.9L785 640L778.2 640Z"/>
<path class="k2" d="M775.6 642.2L787.6 642.2"/>
<path class="k" d="M780 642.2L780 644.2M783.2 642.2L783.2 644.2"/>
<path class="tc" d="M779.5 445.8L783.7 445.8L782.7 453.5L780.5 453.5Z"/>
<path class="sl" fill="#ed2a26" d="M761.71 660.3L801.49 660.3Q789.01 725.83 781.9 791.35L781.3 791.35Q774.19 725.83 761.71 660.3Z"/>
<path class="cap" d="M761.11 659.8L802.09 659.8"/><path class="capd" d="M763.51 659.8L800.69 659.8"/>
<path class="k" d="M761.31 659.1L761.31 661.9M801.89 659.1L801.89 661.9"/>
<path class="br" d="M776 656.4L787.2 656.4L785 658.3L778.2 658.3Z"/>
<path class="k2" d="M775.6 656.1L787.6 656.1"/>
<path class="k" d="M780 656.1L780 654.1M783.2 656.1L783.2 654.1"/>
<path class="tc" d="M779.5 799.05L783.7 799.05L782.7 791.35L780.5 791.35Z"/>
<path class="sl" fill="#cde423" d="M803.01 292.94L842.79 298.48Q830.24 363.69 823.2 428.9L822.6 428.9Q815.56 360.92 803.01 292.94Z"/>
<path class="cap" d="M802.41 292.44L843.39 297.98"/><path class="capd" d="M804.81 292.44L841.99 297.98"/>
<path class="k" d="M802.61 291.74L802.61 294.54M843.19 297.28L843.19 300.08"/>
<g transform="rotate(7.92 822.9 295.71)">
<path class="br" d="M817.3 291.81L828.5 291.81L826.3 293.71L819.5 293.71Z"/>
<path class="k2" d="M816.9 291.51L828.9 291.51"/>
<path class="k" d="M821.3 291.51L821.3 289.51M824.5 291.51L824.5 289.51"/>
</g>
<path class="tc" d="M820.8 436.6L825 436.6L824 428.9L821.8 428.9Z"/>
<path class="sl" fill="#12b0de" d="M803.01 638L842.79 638Q828.48 545.75 823.2 453.5L822.6 453.5Q817.32 545.75 803.01 638Z"/>
<path class="cap" d="M802.41 638.5L843.39 638.5"/><path class="capd" d="M804.81 638.5L841.99 638.5"/>
<path class="k" d="M802.61 639.2L802.61 636.4M843.19 639.2L843.19 636.4"/>
<path class="br" d="M817.3 641.9L828.5 641.9L826.3 640L819.5 640Z"/>
<path class="k2" d="M816.9 642.2L828.9 642.2"/>
<path class="k" d="M821.3 642.2L821.3 644.2M824.5 642.2L824.5 644.2"/>
<path class="tc" d="M820.8 445.8L825 445.8L824 453.5L821.8 453.5Z"/>
<path class="sl" fill="#ec282b" d="M803.01 660.3L842.79 660.3Q830.43 723.78 823.2 787.27L822.6 787.27Q815.37 723.78 803.01 660.3Z"/>
<path class="cap" d="M802.41 659.8L843.39 659.8"/><path class="capd" d="M804.81 659.8L841.99 659.8"/>
<path class="k" d="M802.61 659.1L802.61 661.9M843.19 659.1L843.19 661.9"/>
<path class="br" d="M817.3 656.4L828.5 656.4L826.3 658.3L819.5 658.3Z"/>
<path class="k2" d="M816.9 656.1L828.9 656.1"/>
<path class="k" d="M821.3 656.1L821.3 654.1M824.5 656.1L824.5 654.1"/>
<path class="tc" d="M820.8 794.97L825 794.97L824 787.27L821.8 787.27Z"/>
<path class="sl" fill="#dae723" d="M844.08 298.65L884.92 304.34Q872.29 366.62 864.8 428.9L864.2 428.9Q856.71 363.78 844.08 298.65Z"/>
<path class="cap" d="M843.48 298.15L885.52 303.84"/><path class="capd" d="M845.88 298.15L884.12 303.84"/>
<path class="k" d="M843.68 297.45L843.68 300.25M885.32 303.14L885.32 305.94"/>
<g transform="rotate(7.92 864.5 301.5)">
<path class="br" d="M858.9 297.6L870.1 297.6L867.9 299.5L861.1 299.5Z"/>
<path class="k2" d="M858.5 297.3L870.5 297.3"/>
<path class="k" d="M862.9 297.3L862.9 295.3M866.1 297.3L866.1 295.3"/>
</g>
<path class="tc" d="M862.4 436.6L866.6 436.6L865.6 428.9L863.4 428.9Z"/>
<path class="sl" fill="#12b0de" d="M844.08 638L884.92 638Q870.35 545.75 864.8 453.5L864.2 453.5Q858.65 545.75 844.08 638Z"/>
<path class="cap" d="M843.48 638.5L885.52 638.5"/><path class="capd" d="M845.88 638.5L884.12 638.5"/>
<path class="k" d="M843.68 639.2L843.68 636.4M885.32 639.2L885.32 636.4"/>
<path class="br" d="M858.9 641.9L870.1 641.9L867.9 640L861.1 640Z"/>
<path class="k2" d="M858.5 642.2L870.5 642.2"/>
<path class="k" d="M862.9 642.2L862.9 644.2M866.1 642.2L866.1 644.2"/>
<path class="tc" d="M862.4 445.8L866.6 445.8L865.6 453.5L863.4 453.5Z"/>
<path class="sl" fill="#ea2531" d="M844.08 660.3L884.92 660.3Q872.42 721.71 864.8 783.13L864.2 783.13Q856.58 721.71 844.08 660.3Z"/>
<path class="cap" d="M843.48 659.8L885.52 659.8"/><path class="capd" d="M845.88 659.8L884.12 659.8"/>
<path class="k" d="M843.68 659.1L843.68 661.9M885.32 659.1L885.32 661.9"/>
<path class="br" d="M858.9 656.4L870.1 656.4L867.9 658.3L861.1 658.3Z"/>
<path class="k2" d="M858.5 656.1L870.5 656.1"/>
<path class="k" d="M862.9 656.1L862.9 654.1M866.1 656.1L866.1 654.1"/>
<path class="tc" d="M862.4 790.83L866.6 790.83L865.6 783.13L863.4 783.13Z"/>
<path class="sl" fill="#e8ea23" d="M886.71 304.59L926.49 310.12Q914.29 369.51 906.9 428.9L906.3 428.9Q898.91 366.74 886.71 304.59Z"/>
<path class="cap" d="M886.11 304.09L927.09 309.62"/><path class="capd" d="M888.51 304.09L925.69 309.62"/>
<path class="k" d="M886.31 303.39L886.31 306.19M926.89 308.92L926.89 311.72"/>
<g transform="rotate(7.92 906.6 307.35)">
<path class="br" d="M901 303.45L912.2 303.45L910 305.35L903.2 305.35Z"/>
<path class="k2" d="M900.6 303.15L912.6 303.15"/>
<path class="k" d="M905 303.15L905 301.15M908.2 303.15L908.2 301.15"/>
</g>
<path class="tc" d="M904.5 436.6L908.7 436.6L907.7 428.9L905.5 428.9Z"/>
<path class="sl" fill="#12b0de" d="M886.71 638L926.49 638Q912.18 545.75 906.9 453.5L906.3 453.5Q901.02 545.75 886.71 638Z"/>
<path class="cap" d="M886.11 638.5L927.09 638.5"/><path class="capd" d="M888.51 638.5L925.69 638.5"/>
<path class="k" d="M886.31 639.2L886.31 636.4M926.89 639.2L926.89 636.4"/>
<path class="br" d="M901 641.9L912.2 641.9L910 640L903.2 640Z"/>
<path class="k2" d="M900.6 642.2L912.6 642.2"/>
<path class="k" d="M905 642.2L905 644.2M908.2 642.2L908.2 644.2"/>
<path class="tc" d="M904.5 445.8L908.7 445.8L907.7 453.5L905.5 453.5Z"/>
<path class="sl" fill="#e92336" d="M886.71 660.3L926.49 660.3Q914.38 719.62 906.9 778.94L906.3 778.94Q898.82 719.62 886.71 660.3Z"/>
<path class="cap" d="M886.11 659.8L927.09 659.8"/><path class="capd" d="M888.51 659.8L925.69 659.8"/>
<path class="k" d="M886.31 659.1L886.31 661.9M926.89 659.1L926.89 661.9"/>
<path class="br" d="M901 656.4L912.2 656.4L910 658.3L903.2 658.3Z"/>
<path class="k2" d="M900.6 656.1L912.6 656.1"/>
<path class="k" d="M905 656.1L905 654.1M908.2 656.1L908.2 654.1"/>
<path class="tc" d="M904.5 786.64L908.7 786.64L907.7 778.94L905.5 778.94Z"/>
<path class="sl" fill="#ebd923" d="M928.01 310.33L967.79 315.86Q955.76 372.38 948.2 428.9L947.6 428.9Q940.04 369.62 928.01 310.33Z"/>
<path class="cap" d="M927.41 309.83L968.39 315.36"/><path class="capd" d="M929.81 309.83L966.99 315.36"/>
<path class="k" d="M927.61 309.13L927.61 311.93M968.19 314.66L968.19 317.46"/>
<g transform="rotate(7.92 947.9 313.1)">
<path class="br" d="M942.3 309.2L953.5 309.2L951.3 311.1L944.5 311.1Z"/>
<path class="k2" d="M941.9 308.9L953.9 308.9"/>
<path class="k" d="M946.3 308.9L946.3 306.9M949.5 308.9L949.5 306.9"/>
</g>
<path class="tc" d="M945.8 436.6L950 436.6L949 428.9L946.8 428.9Z"/>
<path class="sl" fill="#12b0de" d="M928.01 638L967.79 638Q953.48 545.75 948.2 453.5L947.6 453.5Q942.32 545.75 928.01 638Z"/>
<path class="cap" d="M927.41 638.5L968.39 638.5"/><path class="capd" d="M929.81 638.5L966.99 638.5"/>
<path class="k" d="M927.61 639.2L927.61 636.4M968.19 639.2L968.19 636.4"/>
<path class="br" d="M942.3 641.9L953.5 641.9L951.3 640L944.5 640Z"/>
<path class="k2" d="M941.9 642.2L953.9 642.2"/>
<path class="k" d="M946.3 642.2L946.3 644.2M949.5 642.2L949.5 644.2"/>
<path class="tc" d="M945.8 445.8L950 445.8L949 453.5L946.8 453.5Z"/>
<path class="sl" fill="#e8203c" d="M928.01 660.3L967.79 660.3Q955.79 717.58 948.2 774.85L947.6 774.85Q940.01 717.58 928.01 660.3Z"/>
<path class="cap" d="M927.41 659.8L968.39 659.8"/><path class="capd" d="M929.81 659.8L966.99 659.8"/>
<path class="k" d="M927.61 659.1L927.61 661.9M968.19 659.1L968.19 661.9"/>
<path class="br" d="M942.3 656.4L953.5 656.4L951.3 658.3L944.5 658.3Z"/>
<path class="k2" d="M941.9 656.1L953.9 656.1"/>
<path class="k" d="M946.3 656.1L946.3 654.1M949.5 656.1L949.5 654.1"/>
<path class="tc" d="M945.8 782.55L950 782.55L949 774.85L946.8 774.85Z"/>
<path class="sl" fill="#eec823" d="M969.04 316.04L1010.96 321.8Q998.56 375.35 990.3 428.9L989.7 428.9Q981.44 372.47 969.04 316.04Z"/>
<path class="cap" d="M968.44 315.54L1011.56 321.3"/><path class="capd" d="M970.84 315.54L1010.16 321.3"/>
<path class="k" d="M968.64 314.84L968.64 317.64M1011.36 320.6L1011.36 323.4"/>
<g transform="rotate(7.83 990 318.92)">
<path class="br" d="M984.4 315.02L995.6 315.02L993.4 316.92L986.6 316.92Z"/>
<path class="k2" d="M984 314.72L996 314.72"/>
<path class="k" d="M988.4 314.72L988.4 312.72M991.6 314.72L991.6 312.72"/>
</g>
<path class="tc" d="M987.9 436.6L992.1 436.6L991.1 428.9L988.9 428.9Z"/>
<path class="sl" fill="#12b0de" d="M969.04 638L1010.96 638Q996.12 545.75 990.3 453.5L989.7 453.5Q983.88 545.75 969.04 638Z"/>
<path class="cap" d="M968.44 638.5L1011.56 638.5"/><path class="capd" d="M970.84 638.5L1010.16 638.5"/>
<path class="k" d="M968.64 639.2L968.64 636.4M1011.36 639.2L1011.36 636.4"/>
<path class="br" d="M984.4 641.9L995.6 641.9L993.4 640L986.6 640Z"/>
<path class="k2" d="M984 642.2L996 642.2"/>
<path class="k" d="M988.4 642.2L988.4 644.2M991.6 642.2L991.6 644.2"/>
<path class="tc" d="M987.9 445.8L992.1 445.8L991.1 453.5L988.9 453.5Z"/>
<path class="sl" fill="#e61c4b" d="M969.04 660.3L1010.96 660.3Q998.5 716.31 990.3 772.32L989.7 772.32Q981.5 716.31 969.04 660.3Z"/>
<path class="cap" d="M968.44 659.8L1011.56 659.8"/><path class="capd" d="M970.84 659.8L1010.16 659.8"/>
<path class="k" d="M968.64 659.1L968.64 661.9M1011.36 659.1L1011.36 661.9"/>
<path class="br" d="M984.4 656.4L995.6 656.4L993.4 658.3L986.6 658.3Z"/>
<path class="k2" d="M984 656.1L996 656.1"/>
<path class="k" d="M988.4 656.1L988.4 654.1M991.6 656.1L991.6 654.1"/>
<path class="tc" d="M987.9 780.02L992.1 780.02L991.1 772.32L988.9 772.32Z"/>
<path class="sl" fill="#efc323" d="M1013.44 321.8L1055.36 321.8Q1043.04 375.35 1034.7 428.9L1034.1 428.9Q1025.76 375.35 1013.44 321.8Z"/>
<path class="cap" d="M1012.84 321.3L1055.96 321.3"/><path class="capd" d="M1015.24 321.3L1054.56 321.3"/>
<path class="k" d="M1013.04 320.6L1013.04 323.4M1055.76 320.6L1055.76 323.4"/>
<path class="br" d="M1028.8 317.9L1040 317.9L1037.8 319.8L1031 319.8Z"/>
<path class="k2" d="M1028.4 317.6L1040.4 317.6"/>
<path class="k" d="M1032.8 317.6L1032.8 315.6M1036 317.6L1036 315.6"/>
<path class="tc" d="M1032.3 436.6L1036.5 436.6L1035.5 428.9L1033.3 428.9Z"/>
<path class="sl" fill="#12b0de" d="M1013.44 638L1055.36 638Q1040.52 545.75 1034.7 453.5L1034.1 453.5Q1028.28 545.75 1013.44 638Z"/>
<path class="cap" d="M1012.84 638.5L1055.96 638.5"/><path class="capd" d="M1015.24 638.5L1054.56 638.5"/>
<path class="k" d="M1013.04 639.2L1013.04 636.4M1055.76 639.2L1055.76 636.4"/>
<path class="br" d="M1028.8 641.9L1040 641.9L1037.8 640L1031 640Z"/>
<path class="k2" d="M1028.4 642.2L1040.4 642.2"/>
<path class="k" d="M1032.8 642.2L1032.8 644.2M1036 642.2L1036 644.2"/>
<path class="tc" d="M1032.3 445.8L1036.5 445.8L1035.5 453.5L1033.3 453.5Z"/>
<path class="sl" fill="#e4195a" d="M1013.44 660.3L1055.36 660.3Q1042.97 715.16 1034.7 770.01L1034.1 770.01Q1025.83 715.16 1013.44 660.3Z"/>
<path class="cap" d="M1012.84 659.8L1055.96 659.8"/><path class="capd" d="M1015.24 659.8L1054.56 659.8"/>
<path class="k" d="M1013.04 659.1L1013.04 661.9M1055.76 659.1L1055.76 661.9"/>
<path class="br" d="M1028.8 656.4L1040 656.4L1037.8 658.3L1031 658.3Z"/>
<path class="k2" d="M1028.4 656.1L1040.4 656.1"/>
<path class="k" d="M1032.8 656.1L1032.8 654.1M1036 656.1L1036 654.1"/>
<path class="tc" d="M1032.3 777.71L1036.5 777.71L1035.5 770.01L1033.3 770.01Z"/>
<path class="sl" fill="#efbe23" d="M1058.14 321.8L1100.06 321.8Q1087.74 375.35 1079.4 428.9L1078.8 428.9Q1070.46 375.35 1058.14 321.8Z"/>
<path class="cap" d="M1057.54 321.3L1100.66 321.3"/><path class="capd" d="M1059.94 321.3L1099.26 321.3"/>
<path class="k" d="M1057.74 320.6L1057.74 323.4M1100.46 320.6L1100.46 323.4"/>
<path class="br" d="M1073.5 317.9L1084.7 317.9L1082.5 319.8L1075.7 319.8Z"/>
<path class="k2" d="M1073.1 317.6L1085.1 317.6"/>
<path class="k" d="M1077.5 317.6L1077.5 315.6M1080.7 317.6L1080.7 315.6"/>
<path class="tc" d="M1077 436.6L1081.2 436.6L1080.2 428.9L1078 428.9Z"/>
<path class="sl" fill="#12b0de" d="M1058.14 638L1100.06 638Q1085.22 545.75 1079.4 453.5L1078.8 453.5Q1072.98 545.75 1058.14 638Z"/>
<path class="cap" d="M1057.54 638.5L1100.66 638.5"/><path class="capd" d="M1059.94 638.5L1099.26 638.5"/>
<path class="k" d="M1057.74 639.2L1057.74 636.4M1100.46 639.2L1100.46 636.4"/>
<path class="br" d="M1073.5 641.9L1084.7 641.9L1082.5 640L1075.7 640Z"/>
<path class="k2" d="M1073.1 642.2L1085.1 642.2"/>
<path class="k" d="M1077.5 642.2L1077.5 644.2M1080.7 642.2L1080.7 644.2"/>
<path class="tc" d="M1077 445.8L1081.2 445.8L1080.2 453.5L1078 453.5Z"/>
<path class="sl" fill="#e21469" d="M1058.14 660.3L1100.06 660.3Q1087.78 713.11 1079.4 765.93L1078.8 765.93Q1070.42 713.11 1058.14 660.3Z"/>
<path class="cap" d="M1057.54 659.8L1100.66 659.8"/><path class="capd" d="M1059.94 659.8L1099.26 659.8"/>
<path class="k" d="M1057.74 659.1L1057.74 661.9M1100.46 659.1L1100.46 661.9"/>
<path class="br" d="M1073.5 656.4L1084.7 656.4L1082.5 658.3L1075.7 658.3Z"/>
<path class="k2" d="M1073.1 656.1L1085.1 656.1"/>
<path class="k" d="M1077.5 656.1L1077.5 654.1M1080.7 656.1L1080.7 654.1"/>
<path class="tc" d="M1077 773.63L1081.2 773.63L1080.2 765.93L1078 765.93Z"/>
<path class="sl" fill="#f0b923" d="M1102.79 321.8L1144.71 321.8Q1132.39 375.35 1124.05 428.9L1123.45 428.9Q1115.11 375.35 1102.79 321.8Z"/>
<path class="cap" d="M1102.19 321.3L1145.31 321.3"/><path class="capd" d="M1104.59 321.3L1143.91 321.3"/>
<path class="k" d="M1102.39 320.6L1102.39 323.4M1145.11 320.6L1145.11 323.4"/>
<path class="br" d="M1118.15 317.9L1129.35 317.9L1127.15 319.8L1120.35 319.8Z"/>
<path class="k2" d="M1117.75 317.6L1129.75 317.6"/>
<path class="k" d="M1122.15 317.6L1122.15 315.6M1125.35 317.6L1125.35 315.6"/>
<path class="tc" d="M1121.65 436.6L1125.85 436.6L1124.85 428.9L1122.65 428.9Z"/>
<path class="sl" fill="#12b0de" d="M1102.79 638L1144.71 638Q1129.87 545.75 1124.05 453.5L1123.45 453.5Q1117.63 545.75 1102.79 638Z"/>
<path class="cap" d="M1102.19 638.5L1145.31 638.5"/><path class="capd" d="M1104.59 638.5L1143.91 638.5"/>
<path class="k" d="M1102.39 639.2L1102.39 636.4M1145.11 639.2L1145.11 636.4"/>
<path class="br" d="M1118.15 641.9L1129.35 641.9L1127.15 640L1120.35 640Z"/>
<path class="k2" d="M1117.75 642.2L1129.75 642.2"/>
<path class="k" d="M1122.15 642.2L1122.15 644.2M1125.35 642.2L1125.35 644.2"/>
<path class="tc" d="M1121.65 445.8L1125.85 445.8L1124.85 453.5L1122.65 453.5Z"/>
<path class="sl" fill="#e00f78" d="M1102.79 660.3L1144.71 660.3Q1132.54 711.04 1124.05 761.79L1123.45 761.79Q1114.96 711.04 1102.79 660.3Z"/>
<path class="cap" d="M1102.19 659.8L1145.31 659.8"/><path class="capd" d="M1104.59 659.8L1143.91 659.8"/>
<path class="k" d="M1102.39 659.1L1102.39 661.9M1145.11 659.1L1145.11 661.9"/>
<path class="br" d="M1118.15 656.4L1129.35 656.4L1127.15 658.3L1120.35 658.3Z"/>
<path class="k2" d="M1117.75 656.1L1129.75 656.1"/>
<path class="k" d="M1122.15 656.1L1122.15 654.1M1125.35 656.1L1125.35 654.1"/>
<path class="tc" d="M1121.65 769.49L1125.85 769.49L1124.85 761.79L1122.65 761.79Z"/>
<path class="sl" fill="#f2ae20" d="M1147.54 321.8L1189.46 321.8Q1179.46 382.62 1174.16 430.4L1162.84 430.4Q1157.54 382.62 1147.54 321.8Z"/>
<path class="cap" d="M1146.94 321.3L1190.06 321.3"/><path class="capd" d="M1149.34 321.3L1188.66 321.3"/>
<path class="k" d="M1147.14 320.6L1147.14 323.4M1189.86 320.6L1189.86 323.4"/>
<path class="br" d="M1162.9 317.9L1174.1 317.9L1171.9 319.8L1165.1 319.8Z"/>
<path class="k2" d="M1162.5 317.6L1174.5 317.6"/>
<path class="k" d="M1166.9 317.6L1166.9 315.6M1170.1 317.6L1170.1 315.6"/>
<path class="cap" d="M1162.24 430.9L1174.76 430.9"/><path class="capd" d="M1164.64 430.9L1173.36 430.9"/>
<path class="k" d="M1162.44 431.6L1162.44 428.8M1174.56 431.6L1174.56 428.8"/>
<path class="br" d="M1162.9 434.3L1174.1 434.3L1171.9 432.4L1165.1 432.4Z"/>
<path class="k2" d="M1162.5 434.6L1174.5 434.6"/>
<path class="k" d="M1166.9 434.6L1166.9 436.6M1170.1 434.6L1170.1 436.6"/>
<path class="sl" fill="#1498d0" d="M1147.54 638L1189.46 638Q1176.26 533.84 1174.16 452L1162.84 452Q1160.74 533.84 1147.54 638Z"/>
<path class="cap" d="M1146.94 638.5L1190.06 638.5"/><path class="capd" d="M1149.34 638.5L1188.66 638.5"/>
<path class="k" d="M1147.14 639.2L1147.14 636.4M1189.86 639.2L1189.86 636.4"/>
<path class="br" d="M1162.9 641.9L1174.1 641.9L1171.9 640L1165.1 640Z"/>
<path class="k2" d="M1162.5 642.2L1174.5 642.2"/>
<path class="k" d="M1166.9 642.2L1166.9 644.2M1170.1 642.2L1170.1 644.2"/>
<path class="cap" d="M1162.24 451.5L1174.76 451.5"/><path class="capd" d="M1164.64 451.5L1173.36 451.5"/>
<path class="k" d="M1162.44 450.8L1162.44 453.6M1174.56 450.8L1174.56 453.6"/>
<path class="br" d="M1162.9 448.1L1174.1 448.1L1171.9 450L1165.1 450Z"/>
<path class="k2" d="M1162.5 447.8L1174.5 447.8"/>
<path class="k" d="M1166.9 447.8L1166.9 445.8M1170.1 447.8L1170.1 445.8"/>
<path class="sl" fill="#dc0c82" d="M1147.54 660.3L1189.46 660.3Q1179.74 716.53 1174.16 760.7L1162.84 760.7Q1157.26 716.53 1147.54 660.3Z"/>
<path class="cap" d="M1146.94 659.8L1190.06 659.8"/><path class="capd" d="M1149.34 659.8L1188.66 659.8"/>
<path class="k" d="M1147.14 659.1L1147.14 661.9M1189.86 659.1L1189.86 661.9"/>
<path class="br" d="M1162.9 656.4L1174.1 656.4L1171.9 658.3L1165.1 658.3Z"/>
<path class="k2" d="M1162.5 656.1L1174.5 656.1"/>
<path class="k" d="M1166.9 656.1L1166.9 654.1M1170.1 656.1L1170.1 654.1"/>
<path class="cap" d="M1162.24 761.2L1174.76 761.2"/><path class="capd" d="M1164.64 761.2L1173.36 761.2"/>
<path class="k" d="M1162.44 761.9L1162.44 759.1M1174.56 761.9L1174.56 759.1"/>
<path class="sl" fill="#f5a21c" d="M1191.75 321.8L1234.75 321.8Q1226.25 382.62 1223.79 430.4L1202.71 430.4Q1200.25 382.62 1191.75 321.8Z"/>
<path class="cap" d="M1191.15 321.3L1235.35 321.3"/><path class="capd" d="M1193.55 321.3L1233.95 321.3"/>
<path class="k" d="M1191.35 320.6L1191.35 323.4M1235.15 320.6L1235.15 323.4"/>
<path class="br" d="M1207.65 317.9L1218.85 317.9L1216.65 319.8L1209.85 319.8Z"/>
<path class="k2" d="M1207.25 317.6L1219.25 317.6"/>
<path class="k" d="M1211.65 317.6L1211.65 315.6M1214.85 317.6L1214.85 315.6"/>
<path class="cap" d="M1202.12 430.9L1224.38 430.9"/><path class="capd" d="M1204.52 430.9L1222.98 430.9"/>
<path class="k" d="M1202.32 431.6L1202.32 428.8M1224.18 431.6L1224.18 428.8"/>
<path class="br" d="M1207.65 434.3L1218.85 434.3L1216.65 432.4L1209.85 432.4Z"/>
<path class="k2" d="M1207.25 434.6L1219.25 434.6"/>
<path class="k" d="M1211.65 434.6L1211.65 436.6M1214.85 434.6L1214.85 436.6"/>
<path class="sl" fill="#14beba" d="M1191.75 638L1234.75 638Q1222.13 533.84 1223.79 452L1202.71 452Q1204.37 533.84 1191.75 638Z"/>
<path class="cap" d="M1191.15 638.5L1235.35 638.5"/><path class="capd" d="M1193.55 638.5L1233.95 638.5"/>
<path class="k" d="M1191.35 639.2L1191.35 636.4M1235.15 639.2L1235.15 636.4"/>
<path class="br" d="M1207.65 641.9L1218.85 641.9L1216.65 640L1209.85 640Z"/>
<path class="k2" d="M1207.25 642.2L1219.25 642.2"/>
<path class="k" d="M1211.65 642.2L1211.65 644.2M1214.85 642.2L1214.85 644.2"/>
<path class="cap" d="M1202.12 451.5L1224.38 451.5"/><path class="capd" d="M1204.52 451.5L1222.98 451.5"/>
<path class="k" d="M1202.32 450.8L1202.32 453.6M1224.18 450.8L1224.18 453.6"/>
<path class="br" d="M1207.65 448.1L1218.85 448.1L1216.65 450L1209.85 450Z"/>
<path class="k2" d="M1207.25 447.8L1219.25 447.8"/>
<path class="k" d="M1211.65 447.8L1211.65 445.8M1214.85 447.8L1214.85 445.8"/>
<path class="sl" fill="#d70a8c" d="M1191.75 660.3L1234.75 660.3Q1226.78 714.21 1223.79 756.57L1202.71 756.57Q1199.72 714.21 1191.75 660.3Z"/>
<path class="cap" d="M1191.15 659.8L1235.35 659.8"/><path class="capd" d="M1193.55 659.8L1233.95 659.8"/>
<path class="k" d="M1191.35 659.1L1191.35 661.9M1235.15 659.1L1235.15 661.9"/>
<path class="br" d="M1207.65 656.4L1218.85 656.4L1216.65 658.3L1209.85 658.3Z"/>
<path class="k2" d="M1207.25 656.1L1219.25 656.1"/>
<path class="k" d="M1211.65 656.1L1211.65 654.1M1214.85 656.1L1214.85 654.1"/>
<path class="cap" d="M1202.12 757.07L1224.38 757.07"/><path class="capd" d="M1204.52 757.07L1222.98 757.07"/>
<path class="k" d="M1202.32 757.77L1202.32 754.97M1224.18 757.77L1224.18 754.97"/>
<path class="sl" fill="#f5a11c" d="M1237.79 321.8L1279.71 321.8Q1274.29 382.62 1274.58 430.4L1242.92 430.4Q1243.21 382.62 1237.79 321.8Z"/>
<path class="cap" d="M1237.19 321.3L1280.31 321.3"/><path class="capd" d="M1239.59 321.3L1278.91 321.3"/>
<path class="k" d="M1237.39 320.6L1237.39 323.4M1280.11 320.6L1280.11 323.4"/>
<path class="br" d="M1253.15 317.9L1264.35 317.9L1262.15 319.8L1255.35 319.8Z"/>
<path class="k2" d="M1252.75 317.6L1264.75 317.6"/>
<path class="k" d="M1257.15 317.6L1257.15 315.6M1260.35 317.6L1260.35 315.6"/>
<path class="cap" d="M1242.32 430.9L1275.18 430.9"/><path class="capd" d="M1244.72 430.9L1273.78 430.9"/>
<path class="k" d="M1242.52 431.6L1242.52 428.8M1274.98 431.6L1274.98 428.8"/>
<path class="br" d="M1253.15 434.3L1264.35 434.3L1262.15 432.4L1255.35 432.4Z"/>
<path class="k2" d="M1252.75 434.6L1264.75 434.6"/>
<path class="k" d="M1257.15 434.6L1257.15 436.6M1260.35 434.6L1260.35 436.6"/>
<path class="sl" fill="#14baa0" d="M1237.79 638L1279.71 638Q1270.4 533.84 1274.58 452L1242.92 452Q1247.1 533.84 1237.79 638Z"/>
<path class="cap" d="M1237.19 638.5L1280.31 638.5"/><path class="capd" d="M1239.59 638.5L1278.91 638.5"/>
<path class="k" d="M1237.39 639.2L1237.39 636.4M1280.11 639.2L1280.11 636.4"/>
<path class="br" d="M1253.15 641.9L1264.35 641.9L1262.15 640L1255.35 640Z"/>
<path class="k2" d="M1252.75 642.2L1264.75 642.2"/>
<path class="k" d="M1257.15 642.2L1257.15 644.2M1260.35 642.2L1260.35 644.2"/>
<path class="cap" d="M1242.32 451.5L1275.18 451.5"/><path class="capd" d="M1244.72 451.5L1273.78 451.5"/>
<path class="k" d="M1242.52 450.8L1242.52 453.6M1274.98 450.8L1274.98 453.6"/>
<path class="br" d="M1253.15 448.1L1264.35 448.1L1262.15 450L1255.35 450Z"/>
<path class="k2" d="M1252.75 447.8L1264.75 447.8"/>
<path class="k" d="M1257.15 447.8L1257.15 445.8M1260.35 447.8L1260.35 445.8"/>
<path class="sl" fill="#ca0a90" d="M1237.79 660.3L1279.71 660.3Q1274.9 712.67 1274.58 753.82L1242.92 753.82Q1242.6 712.67 1237.79 660.3Z"/>
<path class="cap" d="M1237.19 659.8L1280.31 659.8"/><path class="capd" d="M1239.59 659.8L1278.91 659.8"/>
<path class="k" d="M1237.39 659.1L1237.39 661.9M1280.11 659.1L1280.11 661.9"/>
<path class="br" d="M1253.15 656.4L1264.35 656.4L1262.15 658.3L1255.35 658.3Z"/>
<path class="k2" d="M1252.75 656.1L1264.75 656.1"/>
<path class="k" d="M1257.15 656.1L1257.15 654.1M1260.35 656.1L1260.35 654.1"/>
<path class="cap" d="M1242.32 754.32L1275.18 754.32"/><path class="capd" d="M1244.72 754.32L1273.78 754.32"/>
<path class="k" d="M1242.52 755.02L1242.52 752.22M1274.98 755.02L1274.98 752.22"/>
<path class="sl" fill="#f6a01c" d="M1282.44 321.8L1324.36 321.8Q1319.75 376.1 1321.68 430.4L1285.12 430.4Q1287.05 376.1 1282.44 321.8Z"/>
<path class="cap" d="M1281.84 321.3L1324.96 321.3"/><path class="capd" d="M1284.24 321.3L1323.56 321.3"/>
<path class="k" d="M1282.04 320.6L1282.04 323.4M1324.76 320.6L1324.76 323.4"/>
<path class="br" d="M1297.8 317.9L1309 317.9L1306.8 319.8L1300 319.8Z"/>
<path class="k2" d="M1297.4 317.6L1309.4 317.6"/>
<path class="k" d="M1301.8 317.6L1301.8 315.6M1305 317.6L1305 315.6"/>
<path class="cap" d="M1284.52 430.9L1322.28 430.9"/><path class="capd" d="M1286.92 430.9L1320.88 430.9"/>
<path class="k" d="M1284.72 431.6L1284.72 428.8M1322.08 431.6L1322.08 428.8"/>
<path class="br" d="M1297.8 434.3L1309 434.3L1306.8 432.4L1300 432.4Z"/>
<path class="k2" d="M1297.4 434.6L1309.4 434.6"/>
<path class="k" d="M1301.8 434.6L1301.8 436.6M1305 434.6L1305 436.6"/>
<path class="sl" fill="#16b582" d="M1282.44 638L1324.36 638Q1315.71 545 1322.52 452L1284.28 452Q1291.09 545 1282.44 638Z"/>
<path class="cap" d="M1281.84 638.5L1324.96 638.5"/><path class="capd" d="M1284.24 638.5L1323.56 638.5"/>
<path class="k" d="M1282.04 639.2L1282.04 636.4M1324.76 639.2L1324.76 636.4"/>
<path class="br" d="M1297.8 641.9L1309 641.9L1306.8 640L1300 640Z"/>
<path class="k2" d="M1297.4 642.2L1309.4 642.2"/>
<path class="k" d="M1301.8 642.2L1301.8 644.2M1305 642.2L1305 644.2"/>
<path class="cap" d="M1283.68 451.5L1323.12 451.5"/><path class="capd" d="M1286.08 451.5L1321.72 451.5"/>
<path class="k" d="M1283.88 450.8L1283.88 453.6M1322.92 450.8L1322.92 453.6"/>
<path class="br" d="M1297.8 448.1L1309 448.1L1306.8 450L1300 450Z"/>
<path class="k2" d="M1297.4 447.8L1309.4 447.8"/>
<path class="k" d="M1301.8 447.8L1301.8 445.8M1305 447.8L1305 445.8"/>
<path class="sl" fill="#be0a94" d="M1282.44 660.3L1324.36 660.3Q1320.55 705.88 1321.68 751.46L1285.12 751.46Q1286.25 705.88 1282.44 660.3Z"/>
<path class="cap" d="M1281.84 659.8L1324.96 659.8"/><path class="capd" d="M1284.24 659.8L1323.56 659.8"/>
<path class="k" d="M1282.04 659.1L1282.04 661.9M1324.76 659.1L1324.76 661.9"/>
<path class="br" d="M1297.8 656.4L1309 656.4L1306.8 658.3L1300 658.3Z"/>
<path class="k2" d="M1297.4 656.1L1309.4 656.1"/>
<path class="k" d="M1301.8 656.1L1301.8 654.1M1305 656.1L1305 654.1"/>
<path class="cap" d="M1284.52 751.96L1322.28 751.96"/><path class="capd" d="M1286.92 751.96L1320.88 751.96"/>
<path class="k" d="M1284.72 752.66L1284.72 749.86M1322.08 752.66L1322.08 749.86"/>
<path class="sl" fill="#f69e1b" d="M1327.44 321.8L1369.36 321.8Q1364.75 376.1 1366.68 430.4L1330.12 430.4Q1332.05 376.1 1327.44 321.8Z"/>
<path class="cap" d="M1326.84 321.3L1369.96 321.3"/><path class="capd" d="M1329.24 321.3L1368.56 321.3"/>
<path class="k" d="M1327.04 320.6L1327.04 323.4M1369.76 320.6L1369.76 323.4"/>
<path class="br" d="M1342.8 317.9L1354 317.9L1351.8 319.8L1345 319.8Z"/>
<path class="k2" d="M1342.4 317.6L1354.4 317.6"/>
<path class="k" d="M1346.8 317.6L1346.8 315.6M1350 317.6L1350 315.6"/>
<path class="cap" d="M1329.52 430.9L1367.28 430.9"/><path class="capd" d="M1331.92 430.9L1365.88 430.9"/>
<path class="k" d="M1329.72 431.6L1329.72 428.8M1367.08 431.6L1367.08 428.8"/>
<path class="br" d="M1342.8 434.3L1354 434.3L1351.8 432.4L1345 432.4Z"/>
<path class="k2" d="M1342.4 434.6L1354.4 434.6"/>
<path class="k" d="M1346.8 434.6L1346.8 436.6M1350 434.6L1350 436.6"/>
<path class="sl" fill="#16b582" d="M1327.44 638L1369.36 638Q1360.71 545 1367.52 452L1329.28 452Q1336.09 545 1327.44 638Z"/>
<path class="cap" d="M1326.84 638.5L1369.96 638.5"/><path class="capd" d="M1329.24 638.5L1368.56 638.5"/>
<path class="k" d="M1327.04 639.2L1327.04 636.4M1369.76 639.2L1369.76 636.4"/>
<path class="br" d="M1342.8 641.9L1354 641.9L1351.8 640L1345 640Z"/>
<path class="k2" d="M1342.4 642.2L1354.4 642.2"/>
<path class="k" d="M1346.8 642.2L1346.8 644.2M1350 642.2L1350 644.2"/>
<path class="cap" d="M1328.68 451.5L1368.12 451.5"/><path class="capd" d="M1331.08 451.5L1366.72 451.5"/>
<path class="k" d="M1328.88 450.8L1328.88 453.6M1367.92 450.8L1367.92 453.6"/>
<path class="br" d="M1342.8 448.1L1354 448.1L1351.8 450L1345 450Z"/>
<path class="k2" d="M1342.4 447.8L1354.4 447.8"/>
<path class="k" d="M1346.8 447.8L1346.8 445.8M1350 447.8L1350 445.8"/>
<path class="sl" fill="#aa0a92" d="M1327.44 660.3L1369.36 660.3Q1365.73 703.73 1366.68 747.16L1330.12 747.16Q1331.07 703.73 1327.44 660.3Z"/>
<path class="cap" d="M1326.84 659.8L1369.96 659.8"/><path class="capd" d="M1329.24 659.8L1368.56 659.8"/>
<path class="k" d="M1327.04 659.1L1327.04 661.9M1369.76 659.1L1369.76 661.9"/>
<path class="br" d="M1342.8 656.4L1354 656.4L1351.8 658.3L1345 658.3Z"/>
<path class="k2" d="M1342.4 656.1L1354.4 656.1"/>
<path class="k" d="M1346.8 656.1L1346.8 654.1M1350 656.1L1350 654.1"/>
<path class="cap" d="M1329.52 747.66L1367.28 747.66"/><path class="capd" d="M1331.92 747.66L1365.88 747.66"/>
<path class="k" d="M1329.72 748.36L1329.72 745.56M1367.08 748.36L1367.08 745.56"/>
<path class="sl" fill="#f79d1b" d="M1371.94 321.8L1413.86 321.8Q1409.25 376.1 1411.18 430.4L1374.62 430.4Q1376.55 376.1 1371.94 321.8Z"/>
<path class="cap" d="M1371.34 321.3L1414.46 321.3"/><path class="capd" d="M1373.74 321.3L1413.06 321.3"/>
<path class="k" d="M1371.54 320.6L1371.54 323.4M1414.26 320.6L1414.26 323.4"/>
<path class="br" d="M1387.3 317.9L1398.5 317.9L1396.3 319.8L1389.5 319.8Z"/>
<path class="k2" d="M1386.9 317.6L1398.9 317.6"/>
<path class="k" d="M1391.3 317.6L1391.3 315.6M1394.5 317.6L1394.5 315.6"/>
<path class="cap" d="M1374.02 430.9L1411.78 430.9"/><path class="capd" d="M1376.42 430.9L1410.38 430.9"/>
<path class="k" d="M1374.22 431.6L1374.22 428.8M1411.58 431.6L1411.58 428.8"/>
<path class="br" d="M1387.3 434.3L1398.5 434.3L1396.3 432.4L1389.5 432.4Z"/>
<path class="k2" d="M1386.9 434.6L1398.9 434.6"/>
<path class="k" d="M1391.3 434.6L1391.3 436.6M1394.5 434.6L1394.5 436.6"/>
<path class="sl" fill="#16b582" d="M1371.94 638L1413.86 638Q1405.21 545 1412.02 452L1373.78 452Q1380.59 545 1371.94 638Z"/>
<path class="cap" d="M1371.34 638.5L1414.46 638.5"/><path class="capd" d="M1373.74 638.5L1413.06 638.5"/>
<path class="k" d="M1371.54 639.2L1371.54 636.4M1414.26 639.2L1414.26 636.4"/>
<path class="br" d="M1387.3 641.9L1398.5 641.9L1396.3 640L1389.5 640Z"/>
<path class="k2" d="M1386.9 642.2L1398.9 642.2"/>
<path class="k" d="M1391.3 642.2L1391.3 644.2M1394.5 642.2L1394.5 644.2"/>
<path class="cap" d="M1373.18 451.5L1412.62 451.5"/><path class="capd" d="M1375.58 451.5L1411.22 451.5"/>
<path class="k" d="M1373.38 450.8L1373.38 453.6M1412.42 450.8L1412.42 453.6"/>
<path class="br" d="M1387.3 448.1L1398.5 448.1L1396.3 450L1389.5 450Z"/>
<path class="k2" d="M1386.9 447.8L1398.9 447.8"/>
<path class="k" d="M1391.3 447.8L1391.3 445.8M1394.5 447.8L1394.5 445.8"/>
<path class="sl" fill="#960a91" d="M1371.94 660.3L1413.86 660.3Q1410.41 701.61 1411.18 742.91L1374.62 742.91Q1375.39 701.61 1371.94 660.3Z"/>
<path class="cap" d="M1371.34 659.8L1414.46 659.8"/><path class="capd" d="M1373.74 659.8L1413.06 659.8"/>
<path class="k" d="M1371.54 659.1L1371.54 661.9M1414.26 659.1L1414.26 661.9"/>
<path class="br" d="M1387.3 656.4L1398.5 656.4L1396.3 658.3L1389.5 658.3Z"/>
<path class="k2" d="M1386.9 656.1L1398.9 656.1"/>
<path class="k" d="M1391.3 656.1L1391.3 654.1M1394.5 656.1L1394.5 654.1"/>
<path class="cap" d="M1374.02 743.41L1411.78 743.41"/><path class="capd" d="M1376.42 743.41L1410.38 743.41"/>
<path class="k" d="M1374.22 744.11L1374.22 741.31M1411.58 744.11L1411.58 741.31"/>
<path class="sl" fill="#f79c1b" d="M1416.54 321.8L1458.46 321.8Q1453.85 376.1 1455.78 430.4L1419.22 430.4Q1421.15 376.1 1416.54 321.8Z"/>
<path class="cap" d="M1415.94 321.3L1459.06 321.3"/><path class="capd" d="M1418.34 321.3L1457.66 321.3"/>
<path class="k" d="M1416.14 320.6L1416.14 323.4M1458.86 320.6L1458.86 323.4"/>
<path class="br" d="M1431.9 317.9L1443.1 317.9L1440.9 319.8L1434.1 319.8Z"/>
<path class="k2" d="M1431.5 317.6L1443.5 317.6"/>
<path class="k" d="M1435.9 317.6L1435.9 315.6M1439.1 317.6L1439.1 315.6"/>
<path class="cap" d="M1418.62 430.9L1456.38 430.9"/><path class="capd" d="M1421.02 430.9L1454.98 430.9"/>
<path class="k" d="M1418.82 431.6L1418.82 428.8M1456.18 431.6L1456.18 428.8"/>
<path class="br" d="M1431.9 434.3L1443.1 434.3L1440.9 432.4L1434.1 432.4Z"/>
<path class="k2" d="M1431.5 434.6L1443.5 434.6"/>
<path class="k" d="M1435.9 434.6L1435.9 436.6M1439.1 434.6L1439.1 436.6"/>
<path class="sl" fill="#16b582" d="M1416.54 638L1458.46 638Q1449.81 545 1456.62 452L1418.38 452Q1425.19 545 1416.54 638Z"/>
<path class="cap" d="M1415.94 638.5L1459.06 638.5"/><path class="capd" d="M1418.34 638.5L1457.66 638.5"/>
<path class="k" d="M1416.14 639.2L1416.14 636.4M1458.86 639.2L1458.86 636.4"/>
<path class="br" d="M1431.9 641.9L1443.1 641.9L1440.9 640L1434.1 640Z"/>
<path class="k2" d="M1431.5 642.2L1443.5 642.2"/>
<path class="k" d="M1435.9 642.2L1435.9 644.2M1439.1 642.2L1439.1 644.2"/>
<path class="cap" d="M1417.78 451.5L1457.22 451.5"/><path class="capd" d="M1420.18 451.5L1455.82 451.5"/>
<path class="k" d="M1417.98 450.8L1417.98 453.6M1457.02 450.8L1457.02 453.6"/>
<path class="br" d="M1431.9 448.1L1443.1 448.1L1440.9 450L1434.1 450Z"/>
<path class="k2" d="M1431.5 447.8L1443.5 447.8"/>
<path class="k" d="M1435.9 447.8L1435.9 445.8M1439.1 447.8L1439.1 445.8"/>
<path class="sl" fill="#870c91" d="M1416.54 660.3L1458.46 660.3Q1455.18 699.46 1455.78 738.61L1419.22 738.61Q1419.82 699.46 1416.54 660.3Z"/>
<path class="cap" d="M1415.94 659.8L1459.06 659.8"/><path class="capd" d="M1418.34 659.8L1457.66 659.8"/>
<path class="k" d="M1416.14 659.1L1416.14 661.9M1458.86 659.1L1458.86 661.9"/>
<path class="br" d="M1431.9 656.4L1443.1 656.4L1440.9 658.3L1434.1 658.3Z"/>
<path class="k2" d="M1431.5 656.1L1443.5 656.1"/>
<path class="k" d="M1435.9 656.1L1435.9 654.1M1439.1 656.1L1439.1 654.1"/>
<path class="cap" d="M1418.62 739.11L1456.38 739.11"/><path class="capd" d="M1421.02 739.11L1454.98 739.11"/>
<path class="k" d="M1418.82 739.81L1418.82 737.01M1456.18 739.81L1456.18 737.01"/>
<path class="sl" fill="#f78f18" d="M1460.5 321.8L1503.5 321.8Q1498.85 376.1 1500.75 430.4L1463.25 430.4Q1465.15 376.1 1460.5 321.8Z"/>
<path class="cap" d="M1459.9 321.3L1504.1 321.3"/><path class="capd" d="M1462.3 321.3L1502.7 321.3"/>
<path class="k" d="M1460.1 320.6L1460.1 323.4M1503.9 320.6L1503.9 323.4"/>
<path class="br" d="M1476.4 317.9L1487.6 317.9L1485.4 319.8L1478.6 319.8Z"/>
<path class="k2" d="M1476 317.6L1488 317.6"/>
<path class="k" d="M1480.4 317.6L1480.4 315.6M1483.6 317.6L1483.6 315.6"/>
<path class="cap" d="M1462.65 430.9L1501.35 430.9"/><path class="capd" d="M1465.05 430.9L1499.95 430.9"/>
<path class="k" d="M1462.85 431.6L1462.85 428.8M1501.15 431.6L1501.15 428.8"/>
<path class="br" d="M1476.4 434.3L1487.6 434.3L1485.4 432.4L1478.6 432.4Z"/>
<path class="k2" d="M1476 434.6L1488 434.6"/>
<path class="k" d="M1480.4 434.6L1480.4 436.6M1483.6 434.6L1483.6 436.6"/>
<path class="sl" fill="#265aaf" d="M1460.5 638L1503.5 638Q1494.82 545 1501.61 452L1462.39 452Q1469.18 545 1460.5 638Z"/>
<path class="cap" d="M1459.9 638.5L1504.1 638.5"/><path class="capd" d="M1462.3 638.5L1502.7 638.5"/>
<path class="k" d="M1460.1 639.2L1460.1 636.4M1503.9 639.2L1503.9 636.4"/>
<path class="br" d="M1476.4 641.9L1487.6 641.9L1485.4 640L1478.6 640Z"/>
<path class="k2" d="M1476 642.2L1488 642.2"/>
<path class="k" d="M1480.4 642.2L1480.4 644.2M1483.6 642.2L1483.6 644.2"/>
<path class="cap" d="M1461.79 451.5L1502.21 451.5"/><path class="capd" d="M1464.19 451.5L1500.81 451.5"/>
<path class="k" d="M1461.99 450.8L1461.99 453.6M1502.01 450.8L1502.01 453.6"/>
<path class="br" d="M1476.4 448.1L1487.6 448.1L1485.4 450L1478.6 450Z"/>
<path class="k2" d="M1476 447.8L1488 447.8"/>
<path class="k" d="M1480.4 447.8L1480.4 445.8M1483.6 447.8L1483.6 445.8"/>
<path class="sl" fill="#780f91" d="M1460.5 660.3L1503.5 660.3Q1500.35 697.33 1500.75 734.37L1463.25 734.37Q1463.65 697.33 1460.5 660.3Z"/>
<path class="cap" d="M1459.9 659.8L1504.1 659.8"/><path class="capd" d="M1462.3 659.8L1502.7 659.8"/>
<path class="k" d="M1460.1 659.1L1460.1 661.9M1503.9 659.1L1503.9 661.9"/>
<path class="br" d="M1476.4 656.4L1487.6 656.4L1485.4 658.3L1478.6 658.3Z"/>
<path class="k2" d="M1476 656.1L1488 656.1"/>
<path class="k" d="M1480.4 656.1L1480.4 654.1M1483.6 656.1L1483.6 654.1"/>
<path class="cap" d="M1462.65 734.87L1501.35 734.87"/><path class="capd" d="M1465.05 734.87L1499.95 734.87"/>
<path class="k" d="M1462.85 735.57L1462.85 732.77M1501.15 735.57L1501.15 732.77"/>
<path class="sl" fill="#f78216" d="M1508.15 321.8L1546.85 321.8Q1542.34 376.1 1544.37 430.4L1510.63 430.4Q1512.66 376.1 1508.15 321.8Z"/>
<path class="cap" d="M1507.55 321.3L1547.45 321.3"/><path class="capd" d="M1509.95 321.3L1546.05 321.3"/>
<path class="k" d="M1507.75 320.6L1507.75 323.4M1547.25 320.6L1547.25 323.4"/>
<path class="br" d="M1521.9 317.9L1533.1 317.9L1530.9 319.8L1524.1 319.8Z"/>
<path class="k2" d="M1521.5 317.6L1533.5 317.6"/>
<path class="k" d="M1525.9 317.6L1525.9 315.6M1529.1 317.6L1529.1 315.6"/>
<path class="cap" d="M1510.03 430.9L1544.97 430.9"/><path class="capd" d="M1512.43 430.9L1543.57 430.9"/>
<path class="k" d="M1510.23 431.6L1510.23 428.8M1544.77 431.6L1544.77 428.8"/>
<path class="br" d="M1521.9 434.3L1533.1 434.3L1530.9 432.4L1524.1 432.4Z"/>
<path class="k2" d="M1521.5 434.6L1533.5 434.6"/>
<path class="k" d="M1525.9 434.6L1525.9 436.6M1529.1 434.6L1529.1 436.6"/>
<path class="sl" fill="#19b26e" d="M1508.15 638L1546.85 638Q1538.27 545 1545.15 452L1509.85 452Q1516.73 545 1508.15 638Z"/>
<path class="cap" d="M1507.55 638.5L1547.45 638.5"/><path class="capd" d="M1509.95 638.5L1546.05 638.5"/>
<path class="k" d="M1507.75 639.2L1507.75 636.4M1547.25 639.2L1547.25 636.4"/>
<path class="br" d="M1521.9 641.9L1533.1 641.9L1530.9 640L1524.1 640Z"/>
<path class="k2" d="M1521.5 642.2L1533.5 642.2"/>
<path class="k" d="M1525.9 642.2L1525.9 644.2M1529.1 642.2L1529.1 644.2"/>
<path class="cap" d="M1509.25 451.5L1545.75 451.5"/><path class="capd" d="M1511.65 451.5L1544.35 451.5"/>
<path class="k" d="M1509.45 450.8L1509.45 453.6M1545.55 450.8L1545.55 453.6"/>
<path class="br" d="M1521.9 448.1L1533.1 448.1L1530.9 450L1524.1 450Z"/>
<path class="k2" d="M1521.5 447.8L1533.5 447.8"/>
<path class="k" d="M1525.9 447.8L1525.9 445.8M1529.1 447.8L1529.1 445.8"/>
<path class="sl" fill="#6c1494" d="M1508.15 660.3L1546.85 660.3Q1543.95 695.91 1544.37 731.52L1510.63 731.52Q1511.05 695.91 1508.15 660.3Z"/>
<path class="cap" d="M1507.55 659.8L1547.45 659.8"/><path class="capd" d="M1509.95 659.8L1546.05 659.8"/>
<path class="k" d="M1507.75 659.1L1507.75 661.9M1547.25 659.1L1547.25 661.9"/>
<path class="br" d="M1521.9 656.4L1533.1 656.4L1530.9 658.3L1524.1 658.3Z"/>
<path class="k2" d="M1521.5 656.1L1533.5 656.1"/>
<path class="k" d="M1525.9 656.1L1525.9 654.1M1529.1 656.1L1529.1 654.1"/>
<path class="cap" d="M1510.03 732.02L1544.97 732.02"/><path class="capd" d="M1512.43 732.02L1543.57 732.02"/>
<path class="k" d="M1510.23 732.72L1510.23 729.92M1544.77 732.72L1544.77 729.92"/>
<path class="sl" fill="#f67814" d="M1549.4 321.8L1588.1 321.8Q1582.88 382.62 1583.36 430.4L1554.14 430.4Q1554.62 382.62 1549.4 321.8Z"/>
<path class="cap" d="M1548.8 321.3L1588.7 321.3"/><path class="capd" d="M1551.2 321.3L1587.3 321.3"/>
<path class="k" d="M1549 320.6L1549 323.4M1588.5 320.6L1588.5 323.4"/>
<path class="br" d="M1563.15 317.9L1574.35 317.9L1572.15 319.8L1565.35 319.8Z"/>
<path class="k2" d="M1562.75 317.6L1574.75 317.6"/>
<path class="k" d="M1567.15 317.6L1567.15 315.6M1570.35 317.6L1570.35 315.6"/>
<path class="cap" d="M1553.54 430.9L1583.96 430.9"/><path class="capd" d="M1555.94 430.9L1582.56 430.9"/>
<path class="k" d="M1553.74 431.6L1553.74 428.8M1583.76 431.6L1583.76 428.8"/>
<path class="br" d="M1563.15 434.3L1574.35 434.3L1572.15 432.4L1565.35 432.4Z"/>
<path class="k2" d="M1562.75 434.6L1574.75 434.6"/>
<path class="k" d="M1567.15 434.6L1567.15 436.6M1570.35 434.6L1570.35 436.6"/>
<path class="sl" fill="#1cb15f" d="M1549.4 638L1588.1 638Q1578.99 533.84 1583.36 452L1554.14 452Q1558.51 533.84 1549.4 638Z"/>
<path class="cap" d="M1548.8 638.5L1588.7 638.5"/><path class="capd" d="M1551.2 638.5L1587.3 638.5"/>
<path class="k" d="M1549 639.2L1549 636.4M1588.5 639.2L1588.5 636.4"/>
<path class="br" d="M1563.15 641.9L1574.35 641.9L1572.15 640L1565.35 640Z"/>
<path class="k2" d="M1562.75 642.2L1574.75 642.2"/>
<path class="k" d="M1567.15 642.2L1567.15 644.2M1570.35 642.2L1570.35 644.2"/>
<path class="cap" d="M1553.54 451.5L1583.96 451.5"/><path class="capd" d="M1555.94 451.5L1582.56 451.5"/>
<path class="k" d="M1553.74 450.8L1553.74 453.6M1583.76 450.8L1583.76 453.6"/>
<path class="br" d="M1563.15 448.1L1574.35 448.1L1572.15 450L1565.35 450Z"/>
<path class="k2" d="M1562.75 447.8L1574.75 447.8"/>
<path class="k" d="M1567.15 447.8L1567.15 445.8M1570.35 447.8L1570.35 445.8"/>
<path class="sl" fill="#5f1996" d="M1549.4 660.3L1588.1 660.3Q1587.15 694.97 1587.42 729.64L1550.08 729.64Q1550.35 694.97 1549.4 660.3Z"/>
<path class="cap" d="M1548.8 659.8L1588.7 659.8"/><path class="capd" d="M1551.2 659.8L1587.3 659.8"/>
<path class="k" d="M1549 659.1L1549 661.9M1588.5 659.1L1588.5 661.9"/>
<path class="br" d="M1563.15 656.4L1574.35 656.4L1572.15 658.3L1565.35 658.3Z"/>
<path class="k2" d="M1562.75 656.1L1574.75 656.1"/>
<path class="k" d="M1567.15 656.1L1567.15 654.1M1570.35 656.1L1570.35 654.1"/>
<path class="cap" d="M1549.48 730.14L1588.02 730.14"/><path class="capd" d="M1551.88 730.14L1586.62 730.14"/>
<path class="k" d="M1549.68 730.84L1549.68 728.04M1587.82 730.84L1587.82 728.04"/>
<path class="sl" fill="#f66e12" d="M1590.75 321.8L1629.45 321.8Q1624.23 382.62 1624.71 430.4L1595.49 430.4Q1595.97 382.62 1590.75 321.8Z"/>
<path class="cap" d="M1590.15 321.3L1630.05 321.3"/><path class="capd" d="M1592.55 321.3L1628.65 321.3"/>
<path class="k" d="M1590.35 320.6L1590.35 323.4M1629.85 320.6L1629.85 323.4"/>
<path class="br" d="M1604.5 317.9L1615.7 317.9L1613.5 319.8L1606.7 319.8Z"/>
<path class="k2" d="M1604.1 317.6L1616.1 317.6"/>
<path class="k" d="M1608.5 317.6L1608.5 315.6M1611.7 317.6L1611.7 315.6"/>
<path class="cap" d="M1594.89 430.9L1625.31 430.9"/><path class="capd" d="M1597.29 430.9L1623.91 430.9"/>
<path class="k" d="M1595.09 431.6L1595.09 428.8M1625.11 431.6L1625.11 428.8"/>
<path class="br" d="M1604.5 434.3L1615.7 434.3L1613.5 432.4L1606.7 432.4Z"/>
<path class="k2" d="M1604.1 434.6L1616.1 434.6"/>
<path class="k" d="M1608.5 434.6L1608.5 436.6M1611.7 434.6L1611.7 436.6"/>
<path class="sl" fill="#1cb15f" d="M1590.75 638L1629.45 638Q1620.34 533.84 1624.71 452L1595.49 452Q1599.86 533.84 1590.75 638Z"/>
<path class="cap" d="M1590.15 638.5L1630.05 638.5"/><path class="capd" d="M1592.55 638.5L1628.65 638.5"/>
<path class="k" d="M1590.35 639.2L1590.35 636.4M1629.85 639.2L1629.85 636.4"/>
<path class="br" d="M1604.5 641.9L1615.7 641.9L1613.5 640L1606.7 640Z"/>
<path class="k2" d="M1604.1 642.2L1616.1 642.2"/>
<path class="k" d="M1608.5 642.2L1608.5 644.2M1611.7 642.2L1611.7 644.2"/>
<path class="cap" d="M1594.89 451.5L1625.31 451.5"/><path class="capd" d="M1597.29 451.5L1623.91 451.5"/>
<path class="k" d="M1595.09 450.8L1595.09 453.6M1625.11 450.8L1625.11 453.6"/>
<path class="br" d="M1604.5 448.1L1615.7 448.1L1613.5 450L1606.7 450Z"/>
<path class="k2" d="M1604.1 447.8L1616.1 447.8"/>
<path class="k" d="M1608.5 447.8L1608.5 445.8M1611.7 447.8L1611.7 445.8"/>
<path class="sl" fill="#56209a" d="M1590.75 660.3L1629.45 660.3Q1628.56 692.9 1628.77 725.5L1591.43 725.5Q1591.64 692.9 1590.75 660.3Z"/>
<path class="cap" d="M1590.15 659.8L1630.05 659.8"/><path class="capd" d="M1592.55 659.8L1628.65 659.8"/>
<path class="k" d="M1590.35 659.1L1590.35 661.9M1629.85 659.1L1629.85 661.9"/>
<path class="br" d="M1604.5 656.4L1615.7 656.4L1613.5 658.3L1606.7 658.3Z"/>
<path class="k2" d="M1604.1 656.1L1616.1 656.1"/>
<path class="k" d="M1608.5 656.1L1608.5 654.1M1611.7 656.1L1611.7 654.1"/>
<path class="cap" d="M1590.83 726L1629.37 726"/><path class="capd" d="M1593.23 726L1627.97 726"/>
<path class="k" d="M1591.03 726.7L1591.03 723.9M1629.17 726.7L1629.17 723.9"/>
<path class="sl" fill="#f66210" d="M1632.05 321.8L1670.75 321.8Q1662.8 382.62 1660.88 430.4L1641.92 430.4Q1640 382.62 1632.05 321.8Z"/>
<path class="cap" d="M1631.45 321.3L1671.35 321.3"/><path class="capd" d="M1633.85 321.3L1669.95 321.3"/>
<path class="k" d="M1631.65 320.6L1631.65 323.4M1671.15 320.6L1671.15 323.4"/>
<path class="br" d="M1645.8 317.9L1657 317.9L1654.8 319.8L1648 319.8Z"/>
<path class="k2" d="M1645.4 317.6L1657.4 317.6"/>
<path class="k" d="M1649.8 317.6L1649.8 315.6M1653 317.6L1653 315.6"/>
<path class="cap" d="M1641.32 430.9L1661.48 430.9"/><path class="capd" d="M1643.72 430.9L1660.08 430.9"/>
<path class="k" d="M1641.52 431.6L1641.52 428.8M1661.28 431.6L1661.28 428.8"/>
<path class="br" d="M1645.8 434.3L1657 434.3L1654.8 432.4L1648 432.4Z"/>
<path class="k2" d="M1645.4 434.6L1657.4 434.6"/>
<path class="k" d="M1649.8 434.6L1649.8 436.6M1653 434.6L1653 436.6"/>
<path class="sl" fill="#1eb055" d="M1632.05 638L1670.75 638Q1658.68 533.84 1660.88 452L1641.92 452Q1644.12 533.84 1632.05 638Z"/>
<path class="cap" d="M1631.45 638.5L1671.35 638.5"/><path class="capd" d="M1633.85 638.5L1669.95 638.5"/>
<path class="k" d="M1631.65 639.2L1631.65 636.4M1671.15 639.2L1671.15 636.4"/>
<path class="br" d="M1645.8 641.9L1657 641.9L1654.8 640L1648 640Z"/>
<path class="k2" d="M1645.4 642.2L1657.4 642.2"/>
<path class="k" d="M1649.8 642.2L1649.8 644.2M1653 642.2L1653 644.2"/>
<path class="cap" d="M1641.32 451.5L1661.48 451.5"/><path class="capd" d="M1643.72 451.5L1660.08 451.5"/>
<path class="k" d="M1641.52 450.8L1641.52 453.6M1661.28 450.8L1661.28 453.6"/>
<path class="br" d="M1645.8 448.1L1657 448.1L1654.8 450L1648 450Z"/>
<path class="k2" d="M1645.4 447.8L1657.4 447.8"/>
<path class="k" d="M1649.8 447.8L1649.8 445.8M1653 447.8L1653 445.8"/>
<path class="sl" fill="#4e269e" d="M1632.05 660.3L1670.75 660.3Q1669.89 691.47 1670.07 722.65L1632.73 722.65Q1632.91 691.47 1632.05 660.3Z"/>
<path class="cap" d="M1631.45 659.8L1671.35 659.8"/><path class="capd" d="M1633.85 659.8L1669.95 659.8"/>
<path class="k" d="M1631.65 659.1L1631.65 661.9M1671.15 659.1L1671.15 661.9"/>
<path class="br" d="M1645.8 656.4L1657 656.4L1654.8 658.3L1648 658.3Z"/>
<path class="k2" d="M1645.4 656.1L1657.4 656.1"/>
<path class="k" d="M1649.8 656.1L1649.8 654.1M1653 656.1L1653 654.1"/>
<path class="cap" d="M1632.13 723.15L1670.67 723.15"/><path class="capd" d="M1634.53 723.15L1669.27 723.15"/>
<path class="k" d="M1632.33 723.85L1632.33 721.05M1670.47 723.85L1670.47 721.05"/>
<path class="sl" fill="#f5550d" d="M1673.15 321.8L1711.85 321.8Q1702.44 382.62 1697.72 430.4L1687.28 430.4Q1682.56 382.62 1673.15 321.8Z"/>
<path class="cap" d="M1672.55 321.3L1712.45 321.3"/><path class="capd" d="M1674.95 321.3L1711.05 321.3"/>
<path class="k" d="M1672.75 320.6L1672.75 323.4M1712.25 320.6L1712.25 323.4"/>
<path class="br" d="M1686.9 317.9L1698.1 317.9L1695.9 319.8L1689.1 319.8Z"/>
<path class="k2" d="M1686.5 317.6L1698.5 317.6"/>
<path class="k" d="M1690.9 317.6L1690.9 315.6M1694.1 317.6L1694.1 315.6"/>
<path class="cap" d="M1686.68 430.9L1698.32 430.9"/><path class="capd" d="M1689.08 430.9L1696.92 430.9"/>
<path class="k" d="M1686.88 431.6L1686.88 428.8M1698.12 431.6L1698.12 428.8"/>
<path class="br" d="M1686.9 434.3L1698.1 434.3L1695.9 432.4L1689.1 432.4Z"/>
<path class="k2" d="M1686.5 434.6L1698.5 434.6"/>
<path class="k" d="M1690.9 434.6L1690.9 436.6M1694.1 434.6L1694.1 436.6"/>
<path class="sl" fill="#20b04c" d="M1673.15 638L1711.85 638Q1699.24 533.84 1697.72 452L1687.28 452Q1685.76 533.84 1673.15 638Z"/>
<path class="cap" d="M1672.55 638.5L1712.45 638.5"/><path class="capd" d="M1674.95 638.5L1711.05 638.5"/>
<path class="k" d="M1672.75 639.2L1672.75 636.4M1712.25 639.2L1712.25 636.4"/>
<path class="br" d="M1686.9 641.9L1698.1 641.9L1695.9 640L1689.1 640Z"/>
<path class="k2" d="M1686.5 642.2L1698.5 642.2"/>
<path class="k" d="M1690.9 642.2L1690.9 644.2M1694.1 642.2L1694.1 644.2"/>
<path class="cap" d="M1686.68 451.5L1698.32 451.5"/><path class="capd" d="M1689.08 451.5L1696.92 451.5"/>
<path class="k" d="M1686.88 450.8L1686.88 453.6M1698.12 450.8L1698.12 453.6"/>
<path class="br" d="M1686.9 448.1L1698.1 448.1L1695.9 450L1689.1 450Z"/>
<path class="k2" d="M1686.5 447.8L1698.5 447.8"/>
<path class="k" d="M1690.9 447.8L1690.9 445.8M1694.1 447.8L1694.1 445.8"/>
<path class="sl" fill="#4232a4" d="M1673.15 660.3L1711.85 660.3Q1711.04 689.59 1711.17 718.89L1673.83 718.89Q1673.96 689.59 1673.15 660.3Z"/>
<path class="cap" d="M1672.55 659.8L1712.45 659.8"/><path class="capd" d="M1674.95 659.8L1711.05 659.8"/>
<path class="k" d="M1672.75 659.1L1672.75 661.9M1712.25 659.1L1712.25 661.9"/>
<path class="br" d="M1686.9 656.4L1698.1 656.4L1695.9 658.3L1689.1 658.3Z"/>
<path class="k2" d="M1686.5 656.1L1698.5 656.1"/>
<path class="k" d="M1690.9 656.1L1690.9 654.1M1694.1 656.1L1694.1 654.1"/>
<path class="cap" d="M1673.23 719.39L1711.77 719.39"/><path class="capd" d="M1675.63 719.39L1710.37 719.39"/>
<path class="k" d="M1673.43 720.09L1673.43 717.29M1711.57 720.09L1711.57 717.29"/>
<path class="sl" fill="#f44e0c" d="M1714.15 321.8L1752.85 321.8Q1743.44 382.62 1738.72 430.4L1728.28 430.4Q1723.56 382.62 1714.15 321.8Z"/>
<path class="cap" d="M1713.55 321.3L1753.45 321.3"/><path class="capd" d="M1715.95 321.3L1752.05 321.3"/>
<path class="k" d="M1713.75 320.6L1713.75 323.4M1753.25 320.6L1753.25 323.4"/>
<path class="br" d="M1727.9 317.9L1739.1 317.9L1736.9 319.8L1730.1 319.8Z"/>
<path class="k2" d="M1727.5 317.6L1739.5 317.6"/>
<path class="k" d="M1731.9 317.6L1731.9 315.6M1735.1 317.6L1735.1 315.6"/>
<path class="cap" d="M1727.68 430.9L1739.32 430.9"/><path class="capd" d="M1730.08 430.9L1737.92 430.9"/>
<path class="k" d="M1727.88 431.6L1727.88 428.8M1739.12 431.6L1739.12 428.8"/>
<path class="br" d="M1727.9 434.3L1739.1 434.3L1736.9 432.4L1730.1 432.4Z"/>
<path class="k2" d="M1727.5 434.6L1739.5 434.6"/>
<path class="k" d="M1731.9 434.6L1731.9 436.6M1735.1 434.6L1735.1 436.6"/>
<path class="sl" fill="#20b04c" d="M1714.15 638L1752.85 638Q1740.24 533.84 1738.72 452L1728.28 452Q1726.76 533.84 1714.15 638Z"/>
<path class="cap" d="M1713.55 638.5L1753.45 638.5"/><path class="capd" d="M1715.95 638.5L1752.05 638.5"/>
<path class="k" d="M1713.75 639.2L1713.75 636.4M1753.25 639.2L1753.25 636.4"/>
<path class="br" d="M1727.9 641.9L1739.1 641.9L1736.9 640L1730.1 640Z"/>
<path class="k2" d="M1727.5 642.2L1739.5 642.2"/>
<path class="k" d="M1731.9 642.2L1731.9 644.2M1735.1 642.2L1735.1 644.2"/>
<path class="cap" d="M1727.68 451.5L1739.32 451.5"/><path class="capd" d="M1730.08 451.5L1737.92 451.5"/>
<path class="k" d="M1727.88 450.8L1727.88 453.6M1739.12 450.8L1739.12 453.6"/>
<path class="br" d="M1727.9 448.1L1739.1 448.1L1736.9 450L1730.1 450Z"/>
<path class="k2" d="M1727.5 447.8L1739.5 447.8"/>
<path class="k" d="M1731.9 447.8L1731.9 445.8M1735.1 447.8L1735.1 445.8"/>
<path class="sl" fill="#373eaa" d="M1714.15 660.3L1752.85 660.3Q1752.09 687.71 1752.17 715.12L1714.83 715.12Q1714.91 687.71 1714.15 660.3Z"/>
<path class="cap" d="M1713.55 659.8L1753.45 659.8"/><path class="capd" d="M1715.95 659.8L1752.05 659.8"/>
<path class="k" d="M1713.75 659.1L1713.75 661.9M1753.25 659.1L1753.25 661.9"/>
<path class="br" d="M1727.9 656.4L1739.1 656.4L1736.9 658.3L1730.1 658.3Z"/>
<path class="k2" d="M1727.5 656.1L1739.5 656.1"/>
<path class="k" d="M1731.9 656.1L1731.9 654.1M1735.1 656.1L1735.1 654.1"/>
<path class="cap" d="M1714.23 715.62L1752.77 715.62"/><path class="capd" d="M1716.63 715.62L1751.37 715.62"/>
<path class="k" d="M1714.43 716.33L1714.43 713.52M1752.57 716.33L1752.57 713.52"/>
<path class="sl" fill="#f4480b" d="M1755.25 321.8L1793.95 321.8Q1782.43 375.35 1774.9 428.9L1774.3 428.9Q1766.77 375.35 1755.25 321.8Z"/>
<path class="cap" d="M1754.65 321.3L1794.55 321.3"/><path class="capd" d="M1757.05 321.3L1793.15 321.3"/>
<path class="k" d="M1754.85 320.6L1754.85 323.4M1794.35 320.6L1794.35 323.4"/>
<path class="br" d="M1769 317.9L1780.2 317.9L1778 319.8L1771.2 319.8Z"/>
<path class="k2" d="M1768.6 317.6L1780.6 317.6"/>
<path class="k" d="M1773 317.6L1773 315.6M1776.2 317.6L1776.2 315.6"/>
<path class="tc" d="M1772.5 436.6L1776.7 436.6L1775.7 428.9L1773.5 428.9Z"/>
<path class="sl" fill="#1ebae8" d="M1755.25 638L1793.95 638Q1779.91 545.75 1774.9 453.5L1774.3 453.5Q1769.29 545.75 1755.25 638Z"/>
<path class="cap" d="M1754.65 638.5L1794.55 638.5"/><path class="capd" d="M1757.05 638.5L1793.15 638.5"/>
<path class="k" d="M1754.85 639.2L1754.85 636.4M1794.35 639.2L1794.35 636.4"/>
<path class="br" d="M1769 641.9L1780.2 641.9L1778 640L1771.2 640Z"/>
<path class="k2" d="M1768.6 642.2L1780.6 642.2"/>
<path class="k" d="M1773 642.2L1773 644.2M1776.2 642.2L1776.2 644.2"/>
<path class="tc" d="M1772.5 445.8L1776.7 445.8L1775.7 453.5L1773.5 453.5Z"/>
<path class="sl" fill="#2e4bac" d="M1755.25 660.3L1793.95 660.3Q1793.24 685.83 1793.27 711.36L1755.93 711.36Q1755.96 685.83 1755.25 660.3Z"/>
<path class="cap" d="M1754.65 659.8L1794.55 659.8"/><path class="capd" d="M1757.05 659.8L1793.15 659.8"/>
<path class="k" d="M1754.85 659.1L1754.85 661.9M1794.35 659.1L1794.35 661.9"/>
<path class="br" d="M1769 656.4L1780.2 656.4L1778 658.3L1771.2 658.3Z"/>
<path class="k2" d="M1768.6 656.1L1780.6 656.1"/>
<path class="k" d="M1773 656.1L1773 654.1M1776.2 656.1L1776.2 654.1"/>
<path class="cap" d="M1755.33 711.86L1793.87 711.86"/><path class="capd" d="M1757.73 711.86L1792.47 711.86"/>
<path class="k" d="M1755.53 712.56L1755.53 709.76M1793.67 712.56L1793.67 709.76"/>
<path class="sl" fill="#f3410a" d="M1796.75 321.8L1835.45 321.8Q1823.93 375.35 1816.4 428.9L1815.8 428.9Q1808.27 375.35 1796.75 321.8Z"/>
<path class="cap" d="M1796.15 321.3L1836.05 321.3"/><path class="capd" d="M1798.55 321.3L1834.65 321.3"/>
<path class="k" d="M1796.35 320.6L1796.35 323.4M1835.85 320.6L1835.85 323.4"/>
<path class="br" d="M1810.5 317.9L1821.7 317.9L1819.5 319.8L1812.7 319.8Z"/>
<path class="k2" d="M1810.1 317.6L1822.1 317.6"/>
<path class="k" d="M1814.5 317.6L1814.5 315.6M1817.7 317.6L1817.7 315.6"/>
<path class="tc" d="M1814 436.6L1818.2 436.6L1817.2 428.9L1815 428.9Z"/>
<path class="sl" fill="#1ebae8" d="M1796.75 638L1835.45 638Q1821.41 545.75 1816.4 453.5L1815.8 453.5Q1810.79 545.75 1796.75 638Z"/>
<path class="cap" d="M1796.15 638.5L1836.05 638.5"/><path class="capd" d="M1798.55 638.5L1834.65 638.5"/>
<path class="k" d="M1796.35 639.2L1796.35 636.4M1835.85 639.2L1835.85 636.4"/>
<path class="br" d="M1810.5 641.9L1821.7 641.9L1819.5 640L1812.7 640Z"/>
<path class="k2" d="M1810.1 642.2L1822.1 642.2"/>
<path class="k" d="M1814.5 642.2L1814.5 644.2M1817.7 642.2L1817.7 644.2"/>
<path class="tc" d="M1814 445.8L1818.2 445.8L1817.2 453.5L1815 453.5Z"/>
<path class="sl" fill="#2658af" d="M1796.75 660.3L1835.45 660.3Q1834.78 683.95 1834.77 707.6L1797.43 707.6Q1797.42 683.95 1796.75 660.3Z"/>
<path class="cap" d="M1796.15 659.8L1836.05 659.8"/><path class="capd" d="M1798.55 659.8L1834.65 659.8"/>
<path class="k" d="M1796.35 659.1L1796.35 661.9M1835.85 659.1L1835.85 661.9"/>
<path class="br" d="M1810.5 656.4L1821.7 656.4L1819.5 658.3L1812.7 658.3Z"/>
<path class="k2" d="M1810.1 656.1L1822.1 656.1"/>
<path class="k" d="M1814.5 656.1L1814.5 654.1M1817.7 656.1L1817.7 654.1"/>
<path class="cap" d="M1796.83 708.1L1835.37 708.1"/><path class="capd" d="M1799.23 708.1L1833.97 708.1"/>
<path class="k" d="M1797.03 708.8L1797.03 706M1835.17 708.8L1835.17 706"/>
</g>
<path class="arw" d="M187 317L1885 317M187 322.6L1885 322.6M187 331.4L1010 331.4M187 333L1010 333M187 388.5L1010 388.5M187 391.6L1010 391.6M201 333L201 388.5M227.6 333L227.6 388.5M254.2 333L254.2 388.5M280.8 333L280.8 388.5M307.4 333L307.4 388.5M334 333L334 388.5M360.6 333L360.6 388.5M387.2 333L387.2 388.5M413.8 333L413.8 388.5M440.4 333L440.4 388.5M467 333L467 388.5M493.6 333L493.6 388.5M520.2 333L520.2 388.5M546.8 333L546.8 388.5M573.4 333L573.4 388.5M600 333L600 388.5M626.6 333L626.6 388.5M653.2 333L653.2 388.5M679.8 333L679.8 388.5M706.4 333L706.4 388.5M733 333L733 388.5M759.6 333L759.6 388.5M786.2 333L786.2 388.5M812.8 333L812.8 388.5M839.4 333L839.4 388.5M866 333L866 388.5M892.6 333L892.6 388.5M919.2 333L919.2 388.5M945.8 333L945.8 388.5M972.4 333L972.4 388.5M999 333L999 388.5M187.5 226L187.5 440M160.5 170L160.5 226M531 565.5L1130 565.5M531 567.5L1130 567.5M1290 565.5L1700 565.5M111 461.8L155 461.8M111 464.6L155 464.6M153.6 462L153.6 630M505 657.5L698.8 657.5M505 805.5L698.8 805.5M505 657.5L505 805.5M698.8 657.5L698.8 805.5M507.5 671L693.8 671M507.5 805.5L693.8 805.5M507.5 671L507.5 805.5M693.8 671L693.8 805.5M331 690.6L385.7 690.6M331 795.7L385.7 795.7M331 690.6L331 795.7M385.7 690.6L385.7 795.7M778.8 665L960 665M778.8 744.5L960 744.5M778.8 665L778.8 744.5M960 665L960 744.5M778.8 747.5L960 747.5M1043.8 665L1225 665M1043.8 702.5L1225 702.5M1043.8 665L1043.8 702.5M1225 665L1225 702.5M1043.8 705L1225 705M1308.8 665.5L1491.3 665.5M1308.8 701L1491.3 701M1308.8 665.5L1308.8 701M1491.3 665.5L1491.3 701M1308.8 704.5L1491.3 704.5M1796 675L1834 675M1796 696L1834 696M1796 675L1796 696M1834 675L1834 696M1799 330L1813 330M1799 394L1813 394M1799 330L1799 394M1813 330L1813 394M1835 409.5L1885 409.5M1835 440.8L1885 440.8M1835 630.5L1885 630.5M1835 638.5L1885 638.5M1835 697L1885 697M112 230L156 230M112 236L156 236M112 438.5L156 438.5M112 444L156 444M112 646.5L156 646.5M112 652L156 652M175.5 800L175.5 1010M181 800L181 1010M190 800L190 960M140 880L140 912M184 880L184 912M140 880L184 880M143 898L181 898"/>
<path class="axw" d="M170.5 240L170.5 800"/>
<path class="axw" d="M192.5 240L192.5 800"/>
<path class="axw" d="M429.5 240L429.5 800"/>
<path class="axw" d="M461.5 240L461.5 800"/>
<path class="axw" d="M662.5 240L662.5 800"/>
<path class="axw" d="M730.5 240L730.5 800"/>
<path class="axw" d="M896.5 240L896.5 800"/>
<path class="axw" d="M1000.5 240L1000.5 800"/>
<path class="axw" d="M1129.5 240L1129.5 800"/>
<path class="axw" d="M1268.5 240L1268.5 800"/>
<path class="axw" d="M1363.5 240L1363.5 800"/>
<path class="axw" d="M1537.5 240L1537.5 800"/>
<path class="axw" d="M1597.5 240L1597.5 800"/>
<path class="axw" d="M1806.5 240L1806.5 800"/>
<path class="axw" d="M1830.5 240L1830.5 800"/>
<g id="beams">
<path class="kb" d="M164 228.4L448.5 228.4L1009.5 306.15L1009.5 306.8L1835.6 306.8L1835.6 316L1011.5 316L1009.5 315.25L447 237.2L164 237.2Z" fill="#fff"/>
<path class="k" d="M448.5 228.4L447 237.2"/>
<path class="k" d="M1009.5 306.8L1011.5 316"/>
<rect class="kb" x="164" y="436.6" width="1671.6" height="8.8" fill="#fff"/>
<rect class="kb" x="164" y="644.6" width="1671.6" height="8.8" fill="#fff"/>
<text class="t" x="305.6" y="235.8" text-anchor="middle">HEA 180</text>
<text class="t" x="591" y="256" text-anchor="middle">HEA 180</text>
<text class="t" x="873.5" y="295" text-anchor="middle">HEA 180</text>
<text class="t" x="1141" y="314.2" text-anchor="middle">HEA 180</text>
<text class="t" x="1403" y="314.2" text-anchor="middle">HEA 180</text>
<text class="t" x="1682.5" y="314.2" text-anchor="middle">HEA 180</text>
<text class="t" x="305.6" y="443.9" text-anchor="middle">HEA 180</text>
<text class="t" x="589.5" y="443.9" text-anchor="middle">HEA 180</text>
<text class="t" x="865" y="443.9" text-anchor="middle">HEA 180</text>
<text class="t" x="1134.5" y="443.9" text-anchor="middle">HEA 180</text>
<text class="t" x="1403" y="443.9" text-anchor="middle">HEA 180</text>
<text class="t" x="1682.5" y="443.9" text-anchor="middle">HEA 180</text>
<text class="t" x="305.6" y="652" text-anchor="middle">HEA 180</text>
<text class="t" x="589.5" y="652" text-anchor="middle">HEA 180</text>
<text class="t" x="865" y="652" text-anchor="middle">HEA 180</text>
<text class="t" x="1134.5" y="652" text-anchor="middle">HEA 180</text>
<text class="t" x="1403" y="652" text-anchor="middle">HEA 180</text>
<text class="t" x="1682.5" y="652" text-anchor="middle">HEA 180</text>
</g>
<g id="terrain">
<path class="gt" d="M272 912.5L333 858L404 795.5L417 784.3L441 789.6L478 800L497 805L510 805.8L700 806.2L740 804L800 799L1000 783.28L1300 759.7L1600 736.12L1884 713.8"/>
<path class="gt" d="M111 912.8L272 912.8"/>
</g>
<g id="found">
<rect class="fc" x="451.4" y="805.4" width="35.8" height="8"/>
<rect class="fd" x="435.3" y="813.4" width="51.9" height="54"/>
<path d="M435.3 815.4L437.3 813.4M435.3 824.7L446.6 813.4M435.3 834L455.9 813.4M435.3 843.3L465.2 813.4M435.3 852.6L474.5 813.4M435.3 861.9L483.8 813.4M439.1 867.4L487.2 819.3M448.4 867.4L487.2 828.6M457.7 867.4L487.2 837.9M467 867.4L487.2 847.2M476.3 867.4L487.2 856.5M485.6 867.4L487.2 865.8" stroke="#0b1706" stroke-width=".75"/>
<path d="M435.3 820.05L441.95 813.4M435.3 829.35L451.25 813.4M435.3 838.65L460.55 813.4M435.3 847.95L469.85 813.4M435.3 857.25L479.15 813.4M435.3 866.55L487.2 814.65M443.75 867.4L487.2 823.95M453.05 867.4L487.2 833.25M462.35 867.4L487.2 842.55M471.65 867.4L487.2 851.85M480.95 867.4L487.2 861.15" stroke="#0b1706" stroke-width=".75" stroke-dasharray="4.2 2.6"/>
<rect x="435.3" y="813.4" width="51.9" height="54" stroke="#000" stroke-width="1.2"/>
<path class="lv" d="M435.3 860.5L487.2 860.5" stroke-dashoffset="9.3" style="stroke:#b9c4b0"/>
<text class="t" text-anchor="middle" transform="translate(433.7 836.4) rotate(-90)">C35/40</text>
<path class="k" d="M431.8 835.5L435.3 835.5"/>
<path class="bk" d="M442.7 871.3L451.9 871.3L447.3 867.2Z"/>
<text class="td" x="447.6" y="879.6" text-anchor="middle">-0,78</text>
<rect class="wb" x="454.6" y="791.1" width="64.93" height="8"/>
<text class="td" x="455.6" y="797.6">OK F = GOK +0,37</text>
<path class="bk" d="M481.9 800.1L492.7 800.1L487.3 805.4Z"/>
<rect class="fc" x="720.6" y="805.4" width="36.2" height="8"/>
<rect class="fd" x="704.2" y="813.4" width="52.6" height="54"/>
<path d="M704.2 815.4L706.2 813.4M704.2 824.7L715.5 813.4M704.2 834L724.8 813.4M704.2 843.3L734.1 813.4M704.2 852.6L743.4 813.4M704.2 861.9L752.7 813.4M708 867.4L756.8 818.6M717.3 867.4L756.8 827.9M726.6 867.4L756.8 837.2M735.9 867.4L756.8 846.5M745.2 867.4L756.8 855.8M754.5 867.4L756.8 865.1" stroke="#0b1706" stroke-width=".75"/>
<path d="M704.2 820.05L710.85 813.4M704.2 829.35L720.15 813.4M704.2 838.65L729.45 813.4M704.2 847.95L738.75 813.4M704.2 857.25L748.05 813.4M704.2 866.55L756.8 813.95M712.65 867.4L756.8 823.25M721.95 867.4L756.8 832.55M731.25 867.4L756.8 841.85M740.55 867.4L756.8 851.15M749.85 867.4L756.8 860.45" stroke="#0b1706" stroke-width=".75" stroke-dasharray="4.2 2.6"/>
<rect x="704.2" y="813.4" width="52.6" height="54" stroke="#000" stroke-width="1.2"/>
<path class="lv" d="M704.2 860.5L756.8 860.5" stroke-dashoffset="8.2" style="stroke:#b9c4b0"/>
<text class="t" text-anchor="middle" transform="translate(702.6 836.4) rotate(-90)">C35/40</text>
<path class="k" d="M700.7 835.5L704.2 835.5"/>
<path class="bk" d="M712.9 871.3L722.1 871.3L717.5 867.2Z"/>
<text class="td" x="717.8" y="879.6" text-anchor="middle">-0,78</text>
<rect class="wb" x="723.2" y="791.1" width="64.93" height="8"/>
<text class="td" x="724.2" y="797.6">OK F = GOK +0,37</text>
<path class="bk" d="M750.9 800.1L761.7 800.1L756.3 805.4Z"/>
<rect class="fc" x="973.3" y="785.3" width="35.5" height="8"/>
<rect class="fd" x="973.3" y="793.3" width="52.9" height="54"/>
<path d="M973.3 795.3L975.3 793.3M973.3 804.6L984.6 793.3M973.3 813.9L993.9 793.3M973.3 823.2L1003.2 793.3M973.3 832.5L1012.5 793.3M973.3 841.8L1021.8 793.3M977.1 847.3L1026.2 798.2M986.4 847.3L1026.2 807.5M995.7 847.3L1026.2 816.8M1005 847.3L1026.2 826.1M1014.3 847.3L1026.2 835.4M1023.6 847.3L1026.2 844.7" stroke="#0b1706" stroke-width=".75"/>
<path d="M973.3 799.95L979.95 793.3M973.3 809.25L989.25 793.3M973.3 818.55L998.55 793.3M973.3 827.85L1007.85 793.3M973.3 837.15L1017.15 793.3M973.3 846.45L1026.2 793.55M981.75 847.3L1026.2 802.85M991.05 847.3L1026.2 812.15M1000.35 847.3L1026.2 821.45M1009.65 847.3L1026.2 830.75M1018.95 847.3L1026.2 840.05" stroke="#0b1706" stroke-width=".75" stroke-dasharray="4.2 2.6"/>
<rect x="973.3" y="793.3" width="52.9" height="54" stroke="#000" stroke-width="1.2"/>
<text class="t" text-anchor="middle" transform="translate(971.7 816.3) rotate(-90)">C35/40</text>
<path class="k" d="M969.8 815.5L973.3 815.5"/>
<path class="bk" d="M1009 851.2L1018.2 851.2L1013.6 847.1Z"/>
<text class="td" x="1013.9" y="859.5" text-anchor="middle">-0,40</text>
<rect class="wb" x="940.8" y="771" width="64.93" height="8"/>
<text class="td" x="941.8" y="777.5">OK F = GOK +0,75</text>
<path class="bk" d="M968.6 780L979.4 780L974 785.3Z"/>
<rect class="fc" x="1242.5" y="763.3" width="37.5" height="8"/>
<rect class="fd" x="1242.5" y="771.3" width="52.1" height="54"/>
<path d="M1242.5 773.3L1244.5 771.3M1242.5 782.6L1253.8 771.3M1242.5 791.9L1263.1 771.3M1242.5 801.2L1272.4 771.3M1242.5 810.5L1281.7 771.3M1242.5 819.8L1291 771.3M1246.3 825.3L1294.6 777M1255.6 825.3L1294.6 786.3M1264.9 825.3L1294.6 795.6M1274.2 825.3L1294.6 804.9M1283.5 825.3L1294.6 814.2M1292.8 825.3L1294.6 823.5" stroke="#0b1706" stroke-width=".75"/>
<path d="M1242.5 777.95L1249.15 771.3M1242.5 787.25L1258.45 771.3M1242.5 796.55L1267.75 771.3M1242.5 805.85L1277.05 771.3M1242.5 815.15L1286.35 771.3M1242.5 824.45L1294.6 772.35M1250.95 825.3L1294.6 781.65M1260.25 825.3L1294.6 790.95M1269.55 825.3L1294.6 800.25M1278.85 825.3L1294.6 809.55M1288.15 825.3L1294.6 818.85" stroke="#0b1706" stroke-width=".75" stroke-dasharray="4.2 2.6"/>
<rect x="1242.5" y="771.3" width="52.1" height="54" stroke="#000" stroke-width="1.2"/>
<text class="t" text-anchor="middle" transform="translate(1240.9 794.3) rotate(-90)">C35/40</text>
<path class="k" d="M1239 793.5L1242.5 793.5"/>
<path class="bk" d="M1277.9 829.2L1287.1 829.2L1282.5 825.1Z"/>
<text class="td" x="1282.8" y="837.5" text-anchor="middle">+0,00</text>
<rect class="wb" x="1243.5" y="749" width="64.93" height="8"/>
<text class="td" x="1244.5" y="755.5">OK F = GOK +1,15</text>
<path class="bk" d="M1271.6 758L1282.4 758L1277 763.3Z"/>
<rect class="fc" x="1510.8" y="741.3" width="36.7" height="8"/>
<rect class="fd" x="1510.8" y="749.3" width="52.5" height="54"/>
<path d="M1510.8 751.3L1512.8 749.3M1510.8 760.6L1522.1 749.3M1510.8 769.9L1531.4 749.3M1510.8 779.2L1540.7 749.3M1510.8 788.5L1550 749.3M1510.8 797.8L1559.3 749.3M1514.6 803.3L1563.3 754.6M1523.9 803.3L1563.3 763.9M1533.2 803.3L1563.3 773.2M1542.5 803.3L1563.3 782.5M1551.8 803.3L1563.3 791.8M1561.1 803.3L1563.3 801.1" stroke="#0b1706" stroke-width=".75"/>
<path d="M1510.8 755.95L1517.45 749.3M1510.8 765.25L1526.75 749.3M1510.8 774.55L1536.05 749.3M1510.8 783.85L1545.35 749.3M1510.8 793.15L1554.65 749.3M1510.8 802.45L1563.3 749.95M1519.25 803.3L1563.3 759.25M1528.55 803.3L1563.3 768.55M1537.85 803.3L1563.3 777.85M1547.15 803.3L1563.3 787.15M1556.45 803.3L1563.3 796.45" stroke="#0b1706" stroke-width=".75" stroke-dasharray="4.2 2.6"/>
<rect x="1510.8" y="749.3" width="52.5" height="54" stroke="#000" stroke-width="1.2"/>
<text class="t" text-anchor="middle" transform="translate(1509.2 772.3) rotate(-90)">C35/40</text>
<path class="k" d="M1507.3 771.5L1510.8 771.5"/>
<path class="bk" d="M1548.4 807.2L1557.6 807.2L1553 803.1Z"/>
<text class="td" x="1553.3" y="815.5" text-anchor="middle">+0,42</text>
<rect class="wb" x="1510.5" y="727" width="64.93" height="8"/>
<text class="td" x="1511.5" y="733.5">OK F = GOK +1,57</text>
<path class="bk" d="M1541.1 736L1551.9 736L1546.5 741.3Z"/>
<rect class="fc" x="1796.5" y="719.5" width="35.8" height="8"/>
<rect class="fd" x="1780" y="727.5" width="52" height="54"/>
<path d="M1780 729.5L1782 727.5M1780 738.8L1791.3 727.5M1780 748.1L1800.6 727.5M1780 757.4L1809.9 727.5M1780 766.7L1819.2 727.5M1780 776L1828.5 727.5M1783.8 781.5L1832 733.3M1793.1 781.5L1832 742.6M1802.4 781.5L1832 751.9M1811.7 781.5L1832 761.2M1821 781.5L1832 770.5M1830.3 781.5L1832 779.8" stroke="#0b1706" stroke-width=".75"/>
<path d="M1780 734.15L1786.65 727.5M1780 743.45L1795.95 727.5M1780 752.75L1805.25 727.5M1780 762.05L1814.55 727.5M1780 771.35L1823.85 727.5M1780 780.65L1832 728.65M1788.45 781.5L1832 737.95M1797.75 781.5L1832 747.25M1807.05 781.5L1832 756.55M1816.35 781.5L1832 765.85M1825.65 781.5L1832 775.15" stroke="#0b1706" stroke-width=".75" stroke-dasharray="4.2 2.6"/>
<rect x="1780" y="727.5" width="52" height="54" stroke="#000" stroke-width="1.2"/>
<text class="t" text-anchor="middle" transform="translate(1778.4 750.5) rotate(-90)">C35/40</text>
<path class="k" d="M1776.5 749.5L1780 749.5"/>
<path class="bk" d="M1796.9 785.4L1806.1 785.4L1801.5 781.3Z"/>
<text class="td" x="1801.8" y="793.7" text-anchor="middle">+0,82</text>
<rect class="wb" x="1796.2" y="705.2" width="64.93" height="8"/>
<text class="td" x="1797.2" y="711.7">OK F = GOK +1,97</text>
<path class="bk" d="M1826.6 714.2L1837.4 714.2L1832 719.5Z"/>
</g>
<g id="rods">
<path class="pk" d="M149.1 842L149.1 941.3L154.1 941.3L154.1 842"/>
<path class="ld" d="M151.5 941.3L151.5 951.2"/>
<text class="t" x="151.6" y="960.1" text-anchor="middle">OK SF -0,25</text>
<path d="M151.6 826.5L151.6 839.7" stroke="#444" stroke-width="2.2"/>
<path class="mgf" d="M147 838.7A4.6 4.6 0 0 1 151.6 834.1L151.6 838.7ZM156.2 838.7A4.6 4.6 0 0 1 151.6 843.3L151.6 838.7Z"/>
<circle class="mg" cx="151.6" cy="838.7" r="4.6"/>
<path class="mg" d="M143.6 838.7L159.6 838.7M151.6 830.7L151.6 846.7"/>
<path class="k2" d="M145.5 826.5L158 826.5"/>
<path class="pk" d="M197.9 812.5L197.9 919.5L202.9 919.5L202.9 812.5"/>
<path class="ld" d="M200.5 919.5L200.5 932.5"/>
<text class="t" x="200.4" y="941.4" text-anchor="middle">OK SF +0,25</text>
<path d="M200.4 800.5L200.4 813.5" stroke="#444" stroke-width="2.2"/>
<path class="pk" d="M242.9 812.5L242.9 919.5L247.9 919.5L247.9 812.5"/>
<path class="ld" d="M245.5 919.5L245.5 943.6"/>
<text class="t" x="245.4" y="952.5" text-anchor="middle">OK SF +0,25</text>
<path d="M245.4 800.5L245.4 813.5" stroke="#444" stroke-width="2.2"/>
<path class="pk" d="M288.4 812.5L288.4 919.5L293.4 919.5L293.4 812.5"/>
<path class="ld" d="M290.5 919.5L290.5 932.5"/>
<text class="t" x="290.9" y="941.4" text-anchor="middle">OK SF +0,25</text>
<path d="M290.9 800.5L290.9 813.5" stroke="#444" stroke-width="2.2"/>
<path class="pk" d="M333.4 812.5L333.4 919.5L338.4 919.5L338.4 812.5"/>
<path class="ld" d="M335.5 919.5L335.5 943.6"/>
<text class="t" x="335.9" y="952.5" text-anchor="middle">OK SF +0,25</text>
<path d="M335.9 800.5L335.9 813.5" stroke="#444" stroke-width="2.2"/>
<path class="pk" d="M378.4 812.5L378.4 919.5L383.4 919.5L383.4 812.5"/>
<path class="ld" d="M380.5 919.5L380.5 932.5"/>
<text class="t" x="380.9" y="941.4" text-anchor="middle">OK SF +0,25</text>
<path d="M380.9 800.5L380.9 813.5" stroke="#444" stroke-width="2.2"/>
<path class="pk" d="M423.3 812.5L423.3 919.5L428.3 919.5L428.3 812.5"/>
<path class="ld" d="M425.5 919.5L425.5 943.6"/>
<text class="t" x="425.8" y="952.5" text-anchor="middle">OK SF +0,25</text>
<path d="M425.8 800.5L425.8 813.5" stroke="#444" stroke-width="2.2"/>
<path class="pk" d="M779.1 811.5L779.1 917.5L784.1 917.5L784.1 811.5"/>
<path class="ld" d="M781.5 917.5L781.5 947.5"/>
<text class="t" x="781.6" y="956.4" text-anchor="middle">OK SF +0,30</text>
<path d="M781.6 793.35L781.6 809.5" stroke="#444" stroke-width="1.3"/>
<path class="mgf" d="M777 808.5A4.6 4.6 0 0 1 781.6 803.9L781.6 808.5ZM786.2 808.5A4.6 4.6 0 0 1 781.6 813.1L781.6 808.5Z"/>
<circle class="mg" cx="781.6" cy="808.5" r="4.6"/>
<path class="mg" d="M773.6 808.5L789.6 808.5M781.6 800.5L781.6 816.5"/>
<path class="pk" d="M820.4 809L820.4 912.5L825.4 912.5L825.4 809"/>
<path class="ld" d="M822.5 912.5L822.5 936.5"/>
<text class="t" x="822.9" y="945.4" text-anchor="middle">OK SF +0,37</text>
<path d="M822.9 789.27L822.9 807" stroke="#444" stroke-width="1.3"/>
<path class="mgf" d="M818.3 806A4.6 4.6 0 0 1 822.9 801.4L822.9 806ZM827.5 806A4.6 4.6 0 0 1 822.9 810.6L822.9 806Z"/>
<circle class="mg" cx="822.9" cy="806" r="4.6"/>
<path class="mg" d="M814.9 806L830.9 806M822.9 798L822.9 814"/>
<path class="pk" d="M862 804.3L862 908.8L867 908.8L867 804.3"/>
<path class="ld" d="M864.5 908.8L864.5 926"/>
<text class="t" x="864.5" y="934.9" text-anchor="middle">OK SF +0,45</text>
<path d="M864.5 785.13L864.5 802.3" stroke="#444" stroke-width="1.3"/>
<path class="mgf" d="M859.9 801.3A4.6 4.6 0 0 1 864.5 796.7L864.5 801.3ZM869.1 801.3A4.6 4.6 0 0 1 864.5 805.9L864.5 801.3Z"/>
<circle class="mg" cx="864.5" cy="801.3" r="4.6"/>
<path class="mg" d="M856.5 801.3L872.5 801.3M864.5 793.3L864.5 809.3"/>
<path class="pk" d="M904.1 800.5L904.1 904.5L909.1 904.5L909.1 800.5"/>
<path class="ld" d="M906.5 904.5L906.5 936.5"/>
<text class="t" x="906.6" y="945.4" text-anchor="middle">OK SF +0,53</text>
<path d="M906.6 780.94L906.6 798.5" stroke="#444" stroke-width="1.3"/>
<path class="mgf" d="M902 797.5A4.6 4.6 0 0 1 906.6 792.9L906.6 797.5ZM911.2 797.5A4.6 4.6 0 0 1 906.6 802.1L906.6 797.5Z"/>
<circle class="mg" cx="906.6" cy="797.5" r="4.6"/>
<path class="mg" d="M898.6 797.5L914.6 797.5M906.6 789.5L906.6 805.5"/>
<path class="pk" d="M945.4 796L945.4 900.5L950.4 900.5L950.4 796"/>
<path class="ld" d="M947.5 900.5L947.5 926"/>
<text class="t" x="947.9" y="934.9" text-anchor="middle">OK SF +0,60</text>
<path d="M947.9 776.85L947.9 794" stroke="#444" stroke-width="1.3"/>
<path class="mgf" d="M943.3 793A4.6 4.6 0 0 1 947.9 788.4L947.9 793ZM952.5 793A4.6 4.6 0 0 1 947.9 797.6L947.9 793Z"/>
<circle class="mg" cx="947.9" cy="793" r="4.6"/>
<path class="mg" d="M939.9 793L955.9 793M947.9 785L947.9 801"/>
<path class="pk" d="M1031.9 791L1031.9 895L1036.9 895L1036.9 791"/>
<path class="ld" d="M1034.5 895L1034.5 936.5"/>
<text class="t" x="1034.4" y="945.4" text-anchor="middle">OK SF +0,69</text>
<path d="M1034.4 772.01L1034.4 789" stroke="#444" stroke-width="1.3"/>
<path class="mgf" d="M1029.8 788A4.6 4.6 0 0 1 1034.4 783.4L1034.4 788ZM1039 788A4.6 4.6 0 0 1 1034.4 792.6L1034.4 788Z"/>
<circle class="mg" cx="1034.4" cy="788" r="4.6"/>
<path class="mg" d="M1026.4 788L1042.4 788M1034.4 780L1034.4 796"/>
<path class="pk" d="M1076.6 786.8L1076.6 891.3L1081.6 891.3L1081.6 786.8"/>
<path class="ld" d="M1079.5 891.3L1079.5 906.5"/>
<text class="t" x="1079.1" y="915.4" text-anchor="middle">OK SF +0,77</text>
<path d="M1079.1 767.93L1079.1 784.8" stroke="#444" stroke-width="1.3"/>
<path class="mgf" d="M1074.5 783.8A4.6 4.6 0 0 1 1079.1 779.2L1079.1 783.8ZM1083.7 783.8A4.6 4.6 0 0 1 1079.1 788.4L1079.1 783.8Z"/>
<circle class="mg" cx="1079.1" cy="783.8" r="4.6"/>
<path class="mg" d="M1071.1 783.8L1087.1 783.8M1079.1 775.8L1079.1 791.8"/>
<path class="pk" d="M1121.25 782.3L1121.25 887.5L1126.25 887.5L1126.25 782.3"/>
<path class="ld" d="M1123.5 887.5L1123.5 920.3"/>
<text class="t" x="1123.75" y="929.2" text-anchor="middle">OK SF +0,85</text>
<path d="M1123.75 763.79L1123.75 780.3" stroke="#444" stroke-width="1.3"/>
<path class="mgf" d="M1119.15 779.3A4.6 4.6 0 0 1 1123.75 774.7L1123.75 779.3ZM1128.35 779.3A4.6 4.6 0 0 1 1123.75 783.9L1123.75 779.3Z"/>
<circle class="mg" cx="1123.75" cy="779.3" r="4.6"/>
<path class="mg" d="M1115.75 779.3L1131.75 779.3M1123.75 771.3L1123.75 787.3"/>
<path class="pk" d="M1166 778.5L1166 883.8L1171 883.8L1171 778.5"/>
<path class="ld" d="M1168.5 883.8L1168.5 906.5"/>
<text class="t" x="1168.5" y="915.4" text-anchor="middle">OK SF +0,92</text>
<path d="M1168.5 763.7L1168.5 776.5" stroke="#444" stroke-width="1.3"/>
<path class="mgf" d="M1163.9 775.5A4.6 4.6 0 0 1 1168.5 770.9L1168.5 775.5ZM1173.1 775.5A4.6 4.6 0 0 1 1168.5 780.1L1168.5 775.5Z"/>
<circle class="mg" cx="1168.5" cy="775.5" r="4.6"/>
<path class="mg" d="M1160.5 775.5L1176.5 775.5M1168.5 767.5L1168.5 783.5"/>
<path class="pk" d="M1210.75 774.2L1210.75 879.3L1215.75 879.3L1215.75 774.2"/>
<path class="ld" d="M1213.5 879.3L1213.5 920.3"/>
<text class="t" x="1213.25" y="929.2" text-anchor="middle">OK SF +1,00</text>
<path d="M1213.25 759.57L1213.25 772.2" stroke="#444" stroke-width="1.3"/>
<path class="mgf" d="M1208.65 771.2A4.6 4.6 0 0 1 1213.25 766.6L1213.25 771.2ZM1217.85 771.2A4.6 4.6 0 0 1 1213.25 775.8L1213.25 771.2Z"/>
<circle class="mg" cx="1213.25" cy="771.2" r="4.6"/>
<path class="mg" d="M1205.25 771.2L1221.25 771.2M1213.25 763.2L1213.25 779.2"/>
<path class="pk" d="M1300.9 769.5L1300.9 873.8L1305.9 873.8L1305.9 769.5"/>
<path class="ld" d="M1303.5 873.8L1303.5 898.3"/>
<text class="t" x="1303.4" y="907.2" text-anchor="middle">OK SF +1,09</text>
<path d="M1303.4 754.46L1303.4 767.5" stroke="#444" stroke-width="1.3"/>
<path class="mgf" d="M1298.8 766.5A4.6 4.6 0 0 1 1303.4 761.9L1303.4 766.5ZM1308 766.5A4.6 4.6 0 0 1 1303.4 771.1L1303.4 766.5Z"/>
<circle class="mg" cx="1303.4" cy="766.5" r="4.6"/>
<path class="mg" d="M1295.4 766.5L1311.4 766.5M1303.4 758.5L1303.4 774.5"/>
<path class="pk" d="M1345.9 765.8L1345.9 869.5L1350.9 869.5L1350.9 765.8"/>
<path class="ld" d="M1348.5 869.5L1348.5 884.8"/>
<text class="t" x="1348.4" y="893.7" text-anchor="middle">OK SF +1,17</text>
<path d="M1348.4 750.16L1348.4 763.8" stroke="#444" stroke-width="1.3"/>
<path class="mgf" d="M1343.8 762.8A4.6 4.6 0 0 1 1348.4 758.2L1348.4 762.8ZM1353 762.8A4.6 4.6 0 0 1 1348.4 767.4L1348.4 762.8Z"/>
<circle class="mg" cx="1348.4" cy="762.8" r="4.6"/>
<path class="mg" d="M1340.4 762.8L1356.4 762.8M1348.4 754.8L1348.4 770.8"/>
<path class="pk" d="M1390.4 761.3L1390.4 865L1395.4 865L1395.4 761.3"/>
<path class="ld" d="M1392.5 865L1392.5 898.3"/>
<text class="t" x="1392.9" y="907.2" text-anchor="middle">OK SF +1,25</text>
<path d="M1392.9 745.91L1392.9 759.3" stroke="#444" stroke-width="1.3"/>
<path class="mgf" d="M1388.3 758.3A4.6 4.6 0 0 1 1392.9 753.7L1392.9 758.3ZM1397.5 758.3A4.6 4.6 0 0 1 1392.9 762.9L1392.9 758.3Z"/>
<circle class="mg" cx="1392.9" cy="758.3" r="4.6"/>
<path class="mg" d="M1384.9 758.3L1400.9 758.3M1392.9 750.3L1392.9 766.3"/>
<path class="pk" d="M1435 757L1435 861.3L1440 861.3L1440 757"/>
<path class="ld" d="M1437.5 861.3L1437.5 884.8"/>
<text class="t" x="1437.5" y="893.7" text-anchor="middle">OK SF +1,33</text>
<path d="M1437.5 741.61L1437.5 755" stroke="#444" stroke-width="1.3"/>
<path class="mgf" d="M1432.9 754A4.6 4.6 0 0 1 1437.5 749.4L1437.5 754ZM1442.1 754A4.6 4.6 0 0 1 1437.5 758.6L1437.5 754Z"/>
<circle class="mg" cx="1437.5" cy="754" r="4.6"/>
<path class="mg" d="M1429.5 754L1445.5 754M1437.5 746L1437.5 762"/>
<path class="pk" d="M1479.5 753.5L1479.5 856.3L1484.5 856.3L1484.5 753.5"/>
<path class="ld" d="M1482.5 856.3L1482.5 898.3"/>
<text class="t" x="1482" y="907.2" text-anchor="middle">OK SF +1,41</text>
<path d="M1482 737.37L1482 751.5" stroke="#444" stroke-width="1.3"/>
<path class="mgf" d="M1477.4 750.5A4.6 4.6 0 0 1 1482 745.9L1482 750.5ZM1486.6 750.5A4.6 4.6 0 0 1 1482 755.1L1482 750.5Z"/>
<circle class="mg" cx="1482" cy="750.5" r="4.6"/>
<path class="mg" d="M1474 750.5L1490 750.5M1482 742.5L1482 758.5"/>
<path class="pk" d="M1566.25 747.5L1566.25 852.5L1571.25 852.5L1571.25 747.5"/>
<path class="ld" d="M1568.5 852.5L1568.5 871.5"/>
<text class="t" x="1568.75" y="880.4" text-anchor="middle">OK SF +1,50</text>
<path d="M1568.75 732.64L1568.75 745.5" stroke="#444" stroke-width="1.3"/>
<path class="mgf" d="M1564.15 744.5A4.6 4.6 0 0 1 1568.75 739.9L1568.75 744.5ZM1573.35 744.5A4.6 4.6 0 0 1 1568.75 749.1L1568.75 744.5Z"/>
<circle class="mg" cx="1568.75" cy="744.5" r="4.6"/>
<path class="mg" d="M1560.75 744.5L1576.75 744.5M1568.75 736.5L1568.75 752.5"/>
<path class="pk" d="M1607.6 743.5L1607.6 848.8L1612.6 848.8L1612.6 743.5"/>
<path class="ld" d="M1610.5 848.8L1610.5 861.5"/>
<text class="t" x="1610.1" y="870.4" text-anchor="middle">OK SF +1,57</text>
<path d="M1610.1 728.5L1610.1 741.5" stroke="#444" stroke-width="1.3"/>
<path class="mgf" d="M1605.5 740.5A4.6 4.6 0 0 1 1610.1 735.9L1610.1 740.5ZM1614.7 740.5A4.6 4.6 0 0 1 1610.1 745.1L1610.1 740.5Z"/>
<circle class="mg" cx="1610.1" cy="740.5" r="4.6"/>
<path class="mg" d="M1602.1 740.5L1618.1 740.5M1610.1 732.5L1610.1 748.5"/>
<path class="pk" d="M1648.9 739.5L1648.9 845L1653.9 845L1653.9 739.5"/>
<path class="ld" d="M1651.5 845L1651.5 871.5"/>
<text class="t" x="1651.4" y="880.4" text-anchor="middle">OK SF +1,63</text>
<path d="M1651.4 725.65L1651.4 737.5" stroke="#444" stroke-width="1.3"/>
<path class="mgf" d="M1646.8 736.5A4.6 4.6 0 0 1 1651.4 731.9L1651.4 736.5ZM1656 736.5A4.6 4.6 0 0 1 1651.4 741.1L1651.4 736.5Z"/>
<circle class="mg" cx="1651.4" cy="736.5" r="4.6"/>
<path class="mg" d="M1643.4 736.5L1659.4 736.5M1651.4 728.5L1651.4 744.5"/>
<path class="pk" d="M1690 736L1690 842L1695 842L1695 736"/>
<path class="ld" d="M1692.5 842L1692.5 861.5"/>
<text class="t" x="1692.5" y="870.4" text-anchor="middle">OK SF +1,70</text>
<path d="M1692.5 721.89L1692.5 734" stroke="#444" stroke-width="1.3"/>
<path class="mgf" d="M1687.9 733A4.6 4.6 0 0 1 1692.5 728.4L1692.5 733ZM1697.1 733A4.6 4.6 0 0 1 1692.5 737.6L1692.5 733Z"/>
<circle class="mg" cx="1692.5" cy="733" r="4.6"/>
<path class="mg" d="M1684.5 733L1700.5 733M1692.5 725L1692.5 741"/>
<path class="pk" d="M1731 733L1731 838L1736 838L1736 733"/>
<path class="ld" d="M1733.5 838L1733.5 871.5"/>
<text class="t" x="1733.5" y="880.4" text-anchor="middle">OK SF +1,77</text>
<path d="M1733.5 718.12L1733.5 731" stroke="#444" stroke-width="1.3"/>
<path class="mgf" d="M1728.9 730A4.6 4.6 0 0 1 1733.5 725.4L1733.5 730ZM1738.1 730A4.6 4.6 0 0 1 1733.5 734.6L1733.5 730Z"/>
<circle class="mg" cx="1733.5" cy="730" r="4.6"/>
<path class="mg" d="M1725.5 730L1741.5 730M1733.5 722L1733.5 738"/>
<path class="pk" d="M1772.1 730L1772.1 834.5L1777.1 834.5L1777.1 730"/>
<path class="ld" d="M1774.5 834.5L1774.5 861.5"/>
<text class="t" x="1774.6" y="870.4" text-anchor="middle">OK SF +1,83</text>
<path d="M1774.6 714.36L1774.6 728" stroke="#444" stroke-width="1.3"/>
<path class="mgf" d="M1770 727A4.6 4.6 0 0 1 1774.6 722.4L1774.6 727ZM1779.2 727A4.6 4.6 0 0 1 1774.6 731.6L1774.6 727Z"/>
<circle class="mg" cx="1774.6" cy="727" r="4.6"/>
<path class="mg" d="M1766.6 727L1782.6 727M1774.6 719L1774.6 735"/>
<rect class="pl" x="751.4" y="879.25" width="11.2" height="54.5" rx="5.6" fill="#fff"/>
<text class="tp" text-anchor="middle" transform="translate(760.3 906.5) rotate(-90)">SF-B-7</text>
<text class="t" transform="translate(770.8 945) rotate(-90)">GW links-steigend</text>
<path class="ld" d="M772.7 907.5L779 907.5"/>
<rect class="pl" x="794.4" y="842.05" width="11.2" height="54.5" rx="5.6" fill="#fff"/>
<text class="tp" text-anchor="middle" transform="translate(803.3 869.3) rotate(-90)">SF-B-8</text>
<text class="t" transform="translate(813.9 908.8) rotate(-90)">GW links-steigend</text>
<path class="ld" d="M815.8 870.5L820.4 870.5"/>
<rect class="pl" x="834.4" y="842.05" width="11.2" height="54.5" rx="5.6" fill="#fff"/>
<text class="tp" text-anchor="middle" transform="translate(843.3 869.3) rotate(-90)">SF-B-9</text>
<text class="t" transform="translate(853.5 908.8) rotate(-90)">GW links-steigend</text>
<path class="ld" d="M855.4 870.5L862 870.5"/>
<rect class="pl" x="878.7" y="842.05" width="11.2" height="54.5" rx="5.6" fill="#fff"/>
<text class="tp" text-anchor="middle" transform="translate(887.6 869.3) rotate(-90)">SF-B-10</text>
<text class="t" transform="translate(897.9 908.8) rotate(-90)">GW links-steigend</text>
<path class="ld" d="M899.8 870.5L904 870.5"/>
<rect class="pl" x="920.2" y="842.05" width="11.2" height="54.5" rx="5.6" fill="#fff"/>
<text class="tp" text-anchor="middle" transform="translate(929.1 869.3) rotate(-90)">SF-B-11</text>
<text class="t" transform="translate(939.6 908.8) rotate(-90)">GW links-steigend</text>
<path class="ld" d="M941.5 870.5L945.4 870.5"/>
<rect class="pl" x="1001.4" y="869.95" width="11.2" height="54.5" rx="5.6" fill="#fff"/>
<text class="tp" text-anchor="middle" transform="translate(1010.3 897.2) rotate(-90)">SF-B-12</text>
<text class="t" transform="translate(1020.8 936) rotate(-90)">GW links-steigend</text>
<path class="ld" d="M1022.7 898.5L1031.8 898.5"/>
<rect class="pl" x="1051.2" y="837.05" width="11.2" height="54.5" rx="5.6" fill="#fff"/>
<text class="tp" text-anchor="middle" transform="translate(1060.1 864.3) rotate(-90)">SF-B-13</text>
<text class="t" transform="translate(1070.5 903) rotate(-90)">GW links-steigend</text>
<path class="ld" d="M1072.4 865.5L1076.6 865.5"/>
<rect class="pl" x="1093.7" y="837.05" width="11.2" height="54.5" rx="5.6" fill="#fff"/>
<text class="tp" text-anchor="middle" transform="translate(1102.6 864.3) rotate(-90)">SF-B-14</text>
<text class="t" transform="translate(1112.9 903) rotate(-90)">GW links-steigend</text>
<path class="ld" d="M1114.8 865.5L1121.2 865.5"/>
<rect class="pl" x="1138.2" y="837.05" width="11.2" height="54.5" rx="5.6" fill="#fff"/>
<text class="tp" text-anchor="middle" transform="translate(1147.1 864.3) rotate(-90)">SF-B-15</text>
<text class="t" transform="translate(1157.3 903) rotate(-90)">GW links-steigend</text>
<path class="ld" d="M1159.2 865.5L1166 865.5"/>
<rect class="pl" x="1181.9" y="837.05" width="11.2" height="54.5" rx="5.6" fill="#fff"/>
<text class="tp" text-anchor="middle" transform="translate(1190.8 864.3) rotate(-90)">SF-B-16</text>
<text class="t" transform="translate(1201.3 903) rotate(-90)">GW links-steigend</text>
<path class="ld" d="M1203.2 865.5L1210.6 865.5"/>
<rect class="pl" x="1253.2" y="837.75" width="11.2" height="54.5" rx="5.6" fill="#fff"/>
<text class="tp" text-anchor="middle" transform="translate(1262.1 865) rotate(-90)">SF-B-17</text>
<text class="t" transform="translate(1272.6 903) rotate(-90)">GW links-steigend</text>
<path class="ld" d="M1274.5 865.5L1300.8 865.5"/>
<rect class="pl" x="1318.7" y="822.05" width="11.2" height="54.5" rx="5.6" fill="#fff"/>
<text class="tp" text-anchor="middle" transform="translate(1327.6 849.3) rotate(-90)">SF-B-18</text>
<text class="t" transform="translate(1338.3 888) rotate(-90)">GW links-steigend</text>
<path class="ld" d="M1340.2 849.5L1345.8 849.5"/>
<rect class="pl" x="1362.4" y="822.05" width="11.2" height="54.5" rx="5.6" fill="#fff"/>
<text class="tp" text-anchor="middle" transform="translate(1371.3 849.3) rotate(-90)">SF-B-19</text>
<text class="t" transform="translate(1381.5 888) rotate(-90)">GW links-steigend</text>
<path class="ld" d="M1383.4 849.5L1390.4 849.5"/>
<rect class="pl" x="1407.4" y="812.25" width="11.2" height="54.5" rx="5.6" fill="#fff"/>
<text class="tp" text-anchor="middle" transform="translate(1416.3 839.5) rotate(-90)">SF-B-20</text>
<text class="t" transform="translate(1427 878) rotate(-90)">GW links-steigend</text>
<path class="ld" d="M1428.9 840.5L1435 840.5"/>
<rect class="pl" x="1450" y="812.25" width="11.2" height="54.5" rx="5.6" fill="#fff"/>
<text class="tp" text-anchor="middle" transform="translate(1458.9 839.5) rotate(-90)">SF-B-21</text>
<text class="t" transform="translate(1469.6 878) rotate(-90)">GW links-steigend</text>
<path class="ld" d="M1471.5 840.5L1479.5 840.5"/>
<rect class="pl" x="1519.4" y="817.15" width="11.2" height="54.5" rx="5.6" fill="#fff"/>
<text class="tp" text-anchor="middle" transform="translate(1528.3 844.4) rotate(-90)">SF-B-22</text>
<text class="t" transform="translate(1539.1 883) rotate(-90)">GW links-steigend</text>
<path class="ld" d="M1541 845.5L1566.2 845.5"/>
<rect class="pl" x="1580.2" y="793.35" width="11.2" height="54.5" rx="5.6" fill="#fff"/>
<text class="tp" text-anchor="middle" transform="translate(1589.1 820.6) rotate(-90)">SF-B-23</text>
<text class="t" transform="translate(1599.6 858) rotate(-90)">GW links-steigend</text>
<path class="ld" d="M1601.5 820.5L1607.6 820.5"/>
<rect class="pl" x="1623.2" y="797.15" width="11.2" height="54.5" rx="5.6" fill="#fff"/>
<text class="tp" text-anchor="middle" transform="translate(1632.1 824.4) rotate(-90)">SF-B-24</text>
<text class="t" transform="translate(1642.6 862.5) rotate(-90)">GW links-steigend</text>
<path class="ld" d="M1644.5 824.5L1649 824.5"/>
<rect class="pl" x="1660.7" y="797.15" width="11.2" height="54.5" rx="5.6" fill="#fff"/>
<text class="tp" text-anchor="middle" transform="translate(1669.6 824.4) rotate(-90)">SF-B-25</text>
<text class="t" transform="translate(1680.3 862.5) rotate(-90)">GW links-steigend</text>
<path class="ld" d="M1682.2 824.5L1690 824.5"/>
</g>
<g id="cols">
<path d="M454.8 239L454.8 806" stroke="#8c8c8c" stroke-width="1"/>
<path class="kd" d="M461.5 225L461.5 806"/>
<path class="kd" d="M467.5 225L467.5 806"/>
<path class="kd" d="M454.6 247L454.6 225L467.6 225L467.6 247"/>
<path d="M723.9 276.7L723.9 806" stroke="#8c8c8c" stroke-width="1"/>
<path class="kd" d="M730.5 262.7L730.5 806"/>
<path class="kd" d="M736.5 262.7L736.5 806"/>
<path class="kd" d="M723.7 284.7L723.7 262.7L736.7 262.7L736.7 284.7"/>
<path d="M1006.4 314.2L1006.4 786" stroke="#8c8c8c" stroke-width="1"/>
<path class="kd" d="M999.5 300.2L999.5 786"/>
<path class="kd" d="M993.5 300.2L993.5 786"/>
<path class="kd" d="M993.4 322.2L993.4 300.2L1006.4 300.2L1006.4 322.2"/>
<path d="M1274.7 317.5L1274.7 764" stroke="#8c8c8c" stroke-width="1"/>
<path class="kd" d="M1268.5 303.5L1268.5 764"/>
<path class="kd" d="M1261.5 303.5L1261.5 764"/>
<path class="kd" d="M1261.7 325.5L1261.7 303.5L1274.7 303.5L1274.7 325.5"/>
<path d="M1543.8 317.5L1543.8 742" stroke="#8c8c8c" stroke-width="1"/>
<path class="kd" d="M1537.5 303.5L1537.5 742"/>
<path class="kd" d="M1530.5 303.5L1530.5 742"/>
<path class="kd" d="M1530.8 325.5L1530.8 303.5L1543.8 303.5L1543.8 325.5"/>
<path d="M1799.8 317.5L1799.8 720" stroke="#8c8c8c" stroke-width="1"/>
<path class="kd" d="M1806.5 303.5L1806.5 720"/>
<path class="kd" d="M1812.5 303.5L1812.5 720"/>
<path class="kd" d="M1799.6 325.5L1799.6 303.5L1812.6 303.5L1812.6 325.5"/>
<path d="M174.9 224.7L174.9 658.5" stroke="#000" stroke-width="1.7"/>
<path d="M163.9 224.7L163.9 658.5" stroke="#000" stroke-width="1.5" stroke-dasharray="3.4 1.6"/>
<path d="M169.4 237.5L169.4 644" stroke="#222" stroke-width="1.5" stroke-dasharray="3.4 1.6"/>
<path class="k2" d="M163.9 224.7L174.8 224.7M163.9 658.5L174.8 658.5"/>
</g>
<g id="leftsyms">
<path d="M148.8 226.5L148.8 233.6L154.8 233.6L154.8 226.5" stroke="#63d8a0" stroke-width="1.1"/>
<rect x="150.3" y="433.2" width="5.4" height="10.8" rx="1.5" stroke="#f0a85a" stroke-width="1.1" fill="#fff"/>
<rect x="150.3" y="642.4" width="5.2" height="8.6" stroke="#e45858" stroke-width="1" fill="#fff"/>
<path class="k" d="M152 444L152 452M154.5 444L154.5 452M151.5 651L151.5 668M155 651L155 668"/>
<rect x="163.2" y="226.5" width="13" height="12.5" stroke="#e08a9a" stroke-width=".8" stroke-dasharray="2 1.5"/>
<rect x="163.2" y="434.8" width="13" height="12.5" stroke="#e08a9a" stroke-width=".8" stroke-dasharray="2 1.5"/>
<rect x="163.2" y="643" width="13" height="12.5" stroke="#e08a9a" stroke-width=".8" stroke-dasharray="2 1.5"/>
</g>
<g id="red">
<rect class="rd" x="116.5" y="144.6" width="107.7" height="704.2"/>
<text class="tr" x="166.3" y="130.6" text-anchor="middle">Lamellen "nicht brennbar"</text>
<text class="tr" x="166" y="141.3" text-anchor="middle">gem. Brandschutzgutachten</text>
<text class="tr" x="140.6" y="862" text-anchor="middle">Lamellen "nicht brennbar"</text>
<text class="tr" x="140.6" y="872.8" text-anchor="middle">gem. Brandschutzgutachten</text>
<path class="rc" d="M176 782.6Q179.12 779.6 182.23 782.6Q185.35 779.6 188.47 782.6Q191.59 779.6 194.7 782.6Q197.82 779.6 200.94 782.6Q204.06 779.6 207.17 782.6Q210.29 779.6 213.41 782.6Q216.52 779.6 219.64 782.6Q222.76 779.6 225.88 782.6Q228.99 779.6 232.11 782.6Q235.23 779.6 238.34 782.6Q241.46 779.6 244.58 782.6Q247.7 779.6 250.81 782.6Q253.93 779.6 257.05 782.6Q260.17 779.6 263.28 782.6Q266.4 779.6 269.52 782.6Q272.63 779.6 275.75 782.6Q278.87 779.6 281.99 782.6Q285.1 779.6 288.22 782.6Q291.34 779.6 294.46 782.6Q297.57 779.6 300.69 782.6Q303.81 779.6 306.92 782.6Q310.04 779.6 313.16 782.6Q316.28 779.6 319.39 782.6Q322.51 779.6 325.63 782.6Q328.74 779.6 331.86 782.6Q334.98 779.6 338.1 782.6Q341.21 779.6 344.33 782.6Q347.45 779.6 350.57 782.6Q353.68 779.6 356.8 782.6Q359.92 779.6 363.03 782.6Q366.15 779.6 369.27 782.6Q372.39 779.6 375.5 782.6Q378.62 779.6 381.74 782.6Q384.86 779.6 387.97 782.6Q391.09 779.6 394.21 782.6Q397.32 779.6 400.44 782.6Q403.56 779.6 406.68 782.6Q409.79 779.6 412.91 782.6Q416.03 779.6 419.14 782.6Q422.26 779.6 425.38 782.6Q428.5 779.6 431.61 782.6Q434.73 779.6 437.85 782.6Q440.97 779.6 444.08 782.6Q447.2 779.6 450.32 782.6Q453.43 779.6 456.55 782.6Q459.67 779.6 462.79 782.6Q465.9 779.6 469.02 782.6Q472.14 779.6 475.26 782.6Q478.37 779.6 481.49 782.6Q484.61 779.6 487.72 782.6Q490.84 779.6 493.96 782.6Q497.08 779.6 500.19 782.6Q503.31 779.6 506.43 782.6Q509.54 779.6 512.66 782.6Q515.78 779.6 518.9 782.6Q522.01 779.6 525.13 782.6Q528.25 779.6 531.37 782.6Q534.48 779.6 537.6 782.6"/>
<path class="rc" d="M537.6 782.6Q540.6 785.74 537.6 788.89Q540.6 792.03 537.6 795.17Q540.6 798.31 537.6 801.46Q540.6 804.6 537.6 807.74Q540.6 810.89 537.6 814.03Q540.6 817.17 537.6 820.31Q540.6 823.46 537.6 826.6Q540.6 829.74 537.6 832.89Q540.6 836.03 537.6 839.17Q540.6 842.31 537.6 845.46Q540.6 848.6 537.6 851.74Q540.6 854.89 537.6 858.03Q540.6 861.17 537.6 864.31Q540.6 867.46 537.6 870.6Q540.6 873.74 537.6 876.89Q540.6 880.03 537.6 883.17Q540.6 886.31 537.6 889.46Q540.6 892.6 537.6 895.74Q540.6 898.89 537.6 902.03Q540.6 905.17 537.6 908.31Q540.6 911.46 537.6 914.6Q540.6 917.74 537.6 920.89Q540.6 924.03 537.6 927.17Q540.6 930.31 537.6 933.46Q540.6 936.6 537.6 939.74Q540.6 942.89 537.6 946.03Q540.6 949.17 537.6 952.31Q540.6 955.46 537.6 958.6"/>
<path class="rc" d="M537.6 958.6Q534.48 961.6 531.37 958.6Q528.25 961.6 525.13 958.6Q522.01 961.6 518.9 958.6Q515.78 961.6 512.66 958.6Q509.54 961.6 506.43 958.6Q503.31 961.6 500.19 958.6Q497.08 961.6 493.96 958.6Q490.84 961.6 487.72 958.6Q484.61 961.6 481.49 958.6Q478.37 961.6 475.26 958.6Q472.14 961.6 469.02 958.6Q465.9 961.6 462.79 958.6Q459.67 961.6 456.55 958.6Q453.43 961.6 450.32 958.6Q447.2 961.6 444.08 958.6Q440.97 961.6 437.85 958.6Q434.73 961.6 431.61 958.6Q428.5 961.6 425.38 958.6Q422.26 961.6 419.14 958.6Q416.03 961.6 412.91 958.6Q409.79 961.6 406.68 958.6Q403.56 961.6 400.44 958.6Q397.32 961.6 394.21 958.6Q391.09 961.6 387.97 958.6Q384.86 961.6 381.74 958.6Q378.62 961.6 375.5 958.6Q372.39 961.6 369.27 958.6Q366.15 961.6 363.03 958.6Q359.92 961.6 356.8 958.6Q353.68 961.6 350.57 958.6Q347.45 961.6 344.33 958.6Q341.21 961.6 338.1 958.6Q334.98 961.6 331.86 958.6Q328.74 961.6 325.63 958.6Q322.51 961.6 319.39 958.6Q316.28 961.6 313.16 958.6Q310.04 961.6 306.92 958.6Q303.81 961.6 300.69 958.6Q297.57 961.6 294.46 958.6Q291.34 961.6 288.22 958.6Q285.1 961.6 281.99 958.6Q278.87 961.6 275.75 958.6Q272.63 961.6 269.52 958.6Q266.4 961.6 263.28 958.6Q260.17 961.6 257.05 958.6Q253.93 961.6 250.81 958.6Q247.7 961.6 244.58 958.6Q241.46 961.6 238.34 958.6Q235.23 961.6 232.11 958.6Q228.99 961.6 225.88 958.6Q222.76 961.6 219.64 958.6Q216.52 961.6 213.41 958.6Q210.29 961.6 207.17 958.6Q204.06 961.6 200.94 958.6Q197.82 961.6 194.7 958.6Q191.59 961.6 188.47 958.6Q185.35 961.6 182.23 958.6Q179.12 961.6 176 958.6"/>
<path class="rc" d="M176 958.6Q173 955.46 176 952.31Q173 949.17 176 946.03Q173 942.89 176 939.74Q173 936.6 176 933.46Q173 930.31 176 927.17Q173 924.03 176 920.89Q173 917.74 176 914.6Q173 911.46 176 908.31Q173 905.17 176 902.03Q173 898.89 176 895.74Q173 892.6 176 889.46Q173 886.31 176 883.17Q173 880.03 176 876.89Q173 873.74 176 870.6Q173 867.46 176 864.31Q173 861.17 176 858.03Q173 854.89 176 851.74Q173 848.6 176 845.46Q173 842.31 176 839.17Q173 836.03 176 832.89Q173 829.74 176 826.6Q173 823.46 176 820.31Q173 817.17 176 814.03Q173 810.89 176 807.74Q173 804.6 176 801.46Q173 798.31 176 795.17Q173 792.03 176 788.89Q173 785.74 176 782.6"/>
<text class="trs" x="538.4" y="966.4" text-anchor="end">05| Änderung UK Lamellen gem.</text>
<text class="trs" x="498" y="973" text-anchor="middle">Architektur</text>
</g>
<g id="note">
<text class="tb" x="206.2" y="862.3">Aufgrund von Abweichungen von 50mm zwischen</text>
<text class="tb" x="206.2" y="873.25">Planung und Vermessung an Achse 5-7, sind die</text>
<text class="tb" x="206.2" y="884.2">Schraubfundamente von den jeweligen</text>
<text class="tb" x="206.2" y="895.15">Anschlüssen am Stahlträger auszuloten;</text>
<text class="tb" x="206.2" y="906.1">Von einem Einbau nach Aufmaß der Planung wird</text>
<text class="tb" x="206.2" y="917.05">dringend aberaten.</text>
</g>
<text class="tl" x="7.6" y="930.6">03</text>
<text class="t" x="7.6" y="945">M  1 : 50</text>
<g id="callouts">
<rect class="bd" x="155.3" y="209.4" width="36.1" height="466.6" rx="5.5"/>
<rect class="bd" x="444.4" y="425.2" width="34.2" height="31.2" rx="7"/>
<rect class="bd" x="713.8" y="425.2" width="33.8" height="31.2" rx="7"/>
<rect class="bd" x="981.3" y="425.2" width="35.7" height="31.2" rx="7"/>
<rect class="bd" x="1250.8" y="425.2" width="34.7" height="31.2" rx="7"/>
<rect class="bd" x="1520.8" y="425.2" width="33.8" height="31.2" rx="7"/>
<rect class="bd" x="1789.3" y="425.2" width="35" height="31.2" rx="7"/>
<rect class="bd" x="445" y="632.5" width="35" height="32.5" rx="7"/>
<rect class="bd" x="714.5" y="632.5" width="33.8" height="32.5" rx="7"/>
<rect class="bd" x="428.4" y="786.5" width="64.8" height="34.1" rx="7"/>
<rect class="bd" x="701.3" y="786.3" width="63.7" height="33.7" rx="7"/>
<rect class="bd" x="957.5" y="765.5" width="71.3" height="34.5" rx="7"/>
<rect class="bd" x="1229.5" y="743.8" width="70.5" height="35" rx="7"/>
<rect class="bd" x="1502.5" y="725" width="71.3" height="35" rx="7"/>
<rect class="bd" x="1773.8" y="702.5" width="65" height="35" rx="7"/>
<path class="bl" d="M191.4 214.2L242.7 185.5"/>
<path d="M238.5 178.6L271 178.6" stroke="#777" stroke-width="1"/>
<text class="tl" x="255.3" y="176.4" text-anchor="middle">DT-B-02</text>
<text class="t" x="255.6" y="187" text-anchor="middle">2116-5-TP-SB-B-DT-001-</text>
<path class="bl" d="M501.3 398.8L481.3 420"/>
<path d="M493.5 388.7L526 388.7" stroke="#777" stroke-width="1"/>
<text class="tl" x="509.4" y="386.3" text-anchor="middle">DT-B-04</text>
<text class="t" x="509.4" y="396.6" text-anchor="middle">2116-5-TP-SB-B-DT-001-</text>
<path class="bl" d="M770 398.8L748.8 417.5"/>
<path d="M762 388.7L794 388.7" stroke="#777" stroke-width="1"/>
<text class="tl" x="778.2" y="386.3" text-anchor="middle">DT-B-04</text>
<text class="t" x="778.2" y="396.6" text-anchor="middle">2116-5-TP-SB-B-DT-001-</text>
<path class="bl" d="M961.3 397.5L983.8 415"/>
<path d="M937 387.5L969 387.5" stroke="#777" stroke-width="1"/>
<text class="tl" x="952.5" y="385" text-anchor="middle">DT-B-04</text>
<text class="t" x="952.8" y="395.7" text-anchor="middle">2116-5-TP-SB-B-DT-001-</text>
<path class="bl" d="M1327.5 396.3L1293.8 420"/>
<path d="M1322 390L1354 390" stroke="#777" stroke-width="1"/>
<text class="tl" x="1337.5" y="386.7" text-anchor="middle">DT-B-04</text>
<text class="t" x="1337.8" y="397.2" text-anchor="middle">2116-5-TP-SB-B-DT-001-</text>
<path class="bl" d="M1592.5 393.8L1560 418.8"/>
<path d="M1585 386.8L1617 386.8" stroke="#777" stroke-width="1"/>
<text class="tl" x="1601.2" y="384.3" text-anchor="middle">DT-B-04</text>
<text class="t" x="1601.4" y="394.8" text-anchor="middle">2116-5-TP-SB-B-DT-001-</text>
<path class="bl" d="M1760 397.5L1787.5 417.5"/>
<path d="M1735 387.5L1767 387.5" stroke="#777" stroke-width="1"/>
<text class="tl" x="1750.6" y="385" text-anchor="middle">DT-B-04</text>
<text class="t" x="1750.6" y="395.7" text-anchor="middle">2116-5-TP-SB-B-DT-001-</text>
<path class="bl" d="M476.3 662.5L491.3 684.3L560 684.3"/>
<text class="tl" x="545.3" y="682.5" text-anchor="middle">DT-B-03</text>
<text class="t" x="545.3" y="694" text-anchor="middle">2116-5-TP-SB-B-DT-001-</text>
<path class="bl" d="M718.8 666.3L710 684.5L647.5 684.5"/>
<text class="tl" x="659.8" y="682" text-anchor="middle">DT-B-03</text>
<text class="t" x="659.6" y="694" text-anchor="middle">2116-5-TP-SB-B-DT-001-</text>
<path class="bl" d="M493.2 815.4L530 832.3"/>
<path d="M530 838L556 838" stroke="#777" stroke-width="1"/>
<text class="tl" x="541.8" y="835.6" text-anchor="middle">DT-B-01</text>
<text class="t" x="542.3" y="845.8" text-anchor="middle">2116-5-TP-SB-B-DT-001-</text>
<path class="bl" d="M703.8 787.5L687.5 769.3L617.5 769.3"/>
<text class="tl" x="631.6" y="766.3" text-anchor="middle">DT-B-01</text>
<text class="t" x="631.6" y="777.2" text-anchor="middle">2116-5-TP-SB-B-DT-001-</text>
<path class="bl" d="M1027.5 795L1068.8 811.3"/>
<path d="M1068.8 817.5L1100 817.5" stroke="#777" stroke-width="1"/>
<text class="tl" x="1083.1" y="815" text-anchor="middle">DT-B-01</text>
<text class="t" x="1083.1" y="825.3" text-anchor="middle">2116-5-TP-SB-B-DT-001-</text>
<path class="bl" d="M1298.8 773.8L1343.8 790"/>
<path d="M1343.8 795L1372 795" stroke="#777" stroke-width="1"/>
<text class="tl" x="1355.6" y="793.3" text-anchor="middle">DT-B-01</text>
<text class="t" x="1355.6" y="803.3" text-anchor="middle">2116-5-TP-SB-B-DT-001-</text>
<path class="bl" d="M1571.3 754.3L1615 771.3"/>
<path d="M1615 775.8L1644 775.8" stroke="#777" stroke-width="1"/>
<text class="tl" x="1628.1" y="773.3" text-anchor="middle">DT-B-01</text>
<text class="t" x="1628.1" y="785.2" text-anchor="middle">2116-5-TP-SB-B-DT-001-</text>
<path class="bl" d="M1838 732L1876.3 748.3"/>
<path d="M1876.3 754.3L1905 754.3" stroke="#777" stroke-width="1"/>
<text class="tl" x="1887.6" y="751.3" text-anchor="middle">DT-B-01</text>
<text class="t" x="1888.1" y="762" text-anchor="middle">2116-5-TP-SB-B-DT-001-</text>
</g>
<g id="plabels">
<path class="k" d="M144.6 189.3L153.5 189.3L165.5 221.4"/>
<rect class="pl" x="102" y="178.5" width="42.6" height="11.2" rx="5.6" fill="#fff"/>
<text class="tp" x="123.3" y="187.4" text-anchor="middle">K.BW.13</text>
<text class="t" x="123.3" y="197.9" text-anchor="middle">HEA 180</text>
<path class="k" d="M144.3 215L163.1 233.5"/>
<rect class="pl" x="102" y="204.3" width="42.6" height="11.2" rx="5.6" fill="#fff"/>
<text class="tp" x="123.3" y="213.2" text-anchor="middle">E-LB-03</text>
<text class="t" x="123.3" y="223.7" text-anchor="middle">E4</text>
<path class="k" d="M153.8 338.2L165 338.2"/>
<rect class="pl" x="111.2" y="327.7" width="42.6" height="11.2" rx="5.6" fill="#fff"/>
<text class="tp" x="132.5" y="336.6" text-anchor="middle">S.BW.01</text>
<text class="t" x="132.5" y="347.1" text-anchor="middle">HEA 180</text>
<path class="k" d="M151.8 398.2L155 398.2L165 437"/>
<rect class="pl" x="109.2" y="387.7" width="42.6" height="11.2" rx="5.6" fill="#fff"/>
<text class="tp" x="130.5" y="396.6" text-anchor="middle">K.BW.12</text>
<text class="t" x="130.5" y="407.1" text-anchor="middle">HEA 180</text>
<path class="k" d="M153.6 422L163.2 441"/>
<rect class="pl" x="111.2" y="411.9" width="42.6" height="11.2" rx="5.6" fill="#fff"/>
<text class="tp" x="132.5" y="420.8" text-anchor="middle">E-LB-02</text>
<text class="t" x="132.5" y="431.3" text-anchor="middle">E4</text>
<path class="k" d="M135.5 667L144.5 667L165 649.5"/>
<rect class="pl" x="93" y="661.4" width="42.6" height="11.2" rx="5.6" fill="#fff"/>
<text class="tp" x="114.3" y="670.3" text-anchor="middle">E-LB-01</text>
<text class="t" x="114.3" y="680.8" text-anchor="middle">E4</text>
<path class="k" d="M131.6 695L135.5 695L166.5 657.5"/>
<rect class="pl" x="89.2" y="684.4" width="42.6" height="11.2" rx="5.6" fill="#fff"/>
<text class="tp" x="110.5" y="693.3" text-anchor="middle">K.BW.11</text>
<text class="t" x="110.5" y="703.8" text-anchor="middle">HEA 180</text>
<rect class="pl" x="441.1" y="405.2" width="41.8" height="11.2" rx="5.6" fill="#fff"/>
<text class="tp" x="462" y="414.1" text-anchor="middle">K.BS.01</text>
<text class="t" x="462" y="424.6" text-anchor="middle">HEA140 KB2</text>
<rect class="pl" x="714.1" y="408.2" width="41.8" height="11.2" rx="5.6" fill="#fff"/>
<text class="tp" x="735" y="417.1" text-anchor="middle">K.BS.02</text>
<text class="t" x="735" y="427.6" text-anchor="middle">HEA140 KB2</text>
<rect class="pl" x="981.6" y="408.7" width="41.8" height="11.2" rx="5.6" fill="#fff"/>
<text class="tp" x="1002.5" y="417.6" text-anchor="middle">K.BS.03</text>
<text class="t" x="1002.5" y="428.1" text-anchor="middle">HEA140 KB2</text>
<rect class="pl" x="1251.1" y="405" width="41.8" height="11.2" rx="5.6" fill="#fff"/>
<text class="tp" x="1272" y="413.9" text-anchor="middle">K.BS.04</text>
<text class="t" x="1272" y="424.4" text-anchor="middle">HEA140 KB2</text>
<rect class="pl" x="1517.9" y="405" width="41.8" height="11.2" rx="5.6" fill="#fff"/>
<text class="tp" x="1538.8" y="413.9" text-anchor="middle">K.BS.05</text>
<text class="t" x="1538.8" y="424.4" text-anchor="middle">HEA140 KB2</text>
<rect class="pl" x="1787.1" y="406.6" width="41.8" height="11.2" rx="5.6" fill="#fff"/>
<text class="tp" x="1808" y="415.5" text-anchor="middle">K.BS.06</text>
<text class="t" x="1808" y="426" text-anchor="middle">HEA140 KB2</text>
<rect class="pl" x="443.4" y="504" width="35.8" height="11.2" rx="5.6" fill="#fff"/>
<text class="tp" x="461.3" y="512.9" text-anchor="middle">S.01</text>
<text class="t" x="461.3" y="523.4" text-anchor="middle">HEA 240</text>
<rect class="pl" x="712.1" y="523.2" width="35.8" height="11.2" rx="5.6" fill="#fff"/>
<text class="tp" x="730" y="532.1" text-anchor="middle">S.02</text>
<text class="t" x="730" y="542.6" text-anchor="middle">HEA 240</text>
<rect class="pl" x="981.4" y="531.4" width="35.8" height="11.2" rx="5.6" fill="#fff"/>
<text class="tp" x="999.3" y="540.3" text-anchor="middle">S.03</text>
<text class="t" x="999.3" y="550.8" text-anchor="middle">HEA 240</text>
<rect class="pl" x="1250.1" y="521.9" width="35.8" height="11.2" rx="5.6" fill="#fff"/>
<text class="tp" x="1268" y="530.8" text-anchor="middle">S.04</text>
<text class="t" x="1268" y="541.3" text-anchor="middle">HEA 240</text>
<rect class="pl" x="1519.1" y="511.2" width="35.8" height="11.2" rx="5.6" fill="#fff"/>
<text class="tp" x="1537" y="520.1" text-anchor="middle">S.05</text>
<text class="t" x="1537" y="530.6" text-anchor="middle">HEA 240</text>
<rect class="pl" x="1788.4" y="500.2" width="35.8" height="11.2" rx="5.6" fill="#fff"/>
<text class="tp" x="1806.3" y="509.1" text-anchor="middle">S.06</text>
<text class="t" x="1806.3" y="519.6" text-anchor="middle">HEA 240</text>
<rect class="pl" x="445.5" y="612.4" width="41.6" height="11.2" rx="5.6" fill="#fff"/>
<text class="tp" x="466.3" y="621.3" text-anchor="middle">K.BW.01</text>
<text class="t" x="466.3" y="631.8" text-anchor="middle">HEA180 KB3</text>
<rect class="pl" x="713.5" y="606.9" width="41.6" height="11.2" rx="5.6" fill="#fff"/>
<text class="tp" x="734.3" y="615.8" text-anchor="middle">K.BW.02</text>
<text class="t" x="734.3" y="626.3" text-anchor="middle">HEA180 KB3</text>
</g>
<g id="oks">
<path class="bk" d="M164.3 219.3L175.1 219.3L169.7 224.7Z"/>
<text class="td" x="169.7" y="216.7" text-anchor="middle">OK S +11,17</text>
<path class="bk" d="M456.3 219.6L467.1 219.6L461.7 225Z"/>
<text class="td" x="461.7" y="217" text-anchor="middle">OK S +11,17</text>
<path class="bk" d="M725.1 257.2L735.9 257.2L730.5 262.6Z"/>
<text class="td" x="730.5" y="254.6" text-anchor="middle">OK S +10,47</text>
<path class="bk" d="M994 294.2L1004.8 294.2L999.4 299.6Z"/>
<text class="td" x="999.4" y="291.6" text-anchor="middle">OK S +9,77</text>
<path class="bk" d="M1263 297.2L1273.8 297.2L1268.4 302.6Z"/>
<text class="td" x="1268.4" y="294.6" text-anchor="middle">OK S +9,72</text>
<path class="bk" d="M1532.1 297.5L1542.9 297.5L1537.5 302.9Z"/>
<text class="td" x="1537.5" y="294.9" text-anchor="middle">OK S +9,72</text>
<path class="bk" d="M1801 297.5L1811.8 297.5L1806.4 302.9Z"/>
<text class="td" x="1806.4" y="294.9" text-anchor="middle">OK S +9,72</text>
<rect class="wb" x="150.7" y="663.2" width="38.3" height="8.6"/>
<path class="bk" d="M164.2 662.4L175.2 662.4L169.7 657.6Z"/>
<text class="td" x="169.8" y="670.3" text-anchor="middle">UK S +3,12</text>
</g>
<g id="dims">
<path class="ld" d="M93.5 229.1L93.5 652.9"/>
<path class="k" d="M91 234.9L95.6 230.3"/>
<path class="ld" d="M87.3 232.5L106.3 232.5"/>
<path class="k" d="M91 443.1L95.6 438.5"/>
<path class="ld" d="M87.3 440.5L106.3 440.5"/>
<path class="k" d="M91 651.7L95.6 647.1"/>
<path class="ld" d="M87.3 649.5L106.3 649.5"/>
<text class="td" text-anchor="middle" transform="translate(91.2 336.7) rotate(-90)">3,87</text>
<text class="td" text-anchor="middle" transform="translate(91.2 545.1) rotate(-90)">3,87</text>
<path class="ld" d="M429.5 229.1L429.5 809"/>
<path class="k" d="M427.2 234.9L431.8 230.3"/>
<path class="ld" d="M423.5 232.5L435.5 232.5"/>
<path class="k" d="M427.2 443.1L431.8 438.5"/>
<path class="ld" d="M423.5 440.5L435.5 440.5"/>
<path class="k" d="M427.2 651.7L431.8 647.1"/>
<path class="ld" d="M423.5 649.5L435.5 649.5"/>
<path class="k" d="M427.2 807.8L431.8 803.2"/>
<path class="ld" d="M423.5 805.5L435.5 805.5"/>
<rect class="wb" x="421.8" y="328.3" width="8.4" height="16.8"/>
<text class="td" text-anchor="middle" transform="translate(428.8 336.7) rotate(-90)">3,87</text>
<rect class="wb" x="421.8" y="536.6" width="8.4" height="16.8"/>
<text class="td" text-anchor="middle" transform="translate(428.8 545) rotate(-90)">3,87</text>
<rect class="wb" x="421.8" y="717.6" width="8.4" height="19.8"/>
<text class="td" text-anchor="middle" transform="translate(428.8 727.5) rotate(-90)">2,90<tspan font-size="4.6" dy="-2.6">5</tspan></text>
<path class="ld" d="M703.5 268.5L703.5 809"/>
<path class="k" d="M701.5 274.3L706.1 269.7"/>
<path class="ld" d="M697.8 272.5L709.8 272.5"/>
<path class="k" d="M701.5 443.1L706.1 438.5"/>
<path class="ld" d="M697.8 440.5L709.8 440.5"/>
<path class="k" d="M701.5 651.7L706.1 647.1"/>
<path class="ld" d="M697.8 649.5L709.8 649.5"/>
<path class="k" d="M701.5 807.8L706.1 803.2"/>
<path class="ld" d="M697.8 805.5L709.8 805.5"/>
<rect class="wb" x="695.8" y="347.9" width="8.4" height="16.8"/>
<text class="td" text-anchor="middle" transform="translate(702.8 356.3) rotate(-90)">3,14</text>
<rect class="wb" x="695.8" y="537.1" width="8.4" height="16.8"/>
<text class="td" text-anchor="middle" transform="translate(702.8 545.5) rotate(-90)">3,87</text>
<rect class="wb" x="695.8" y="717.6" width="8.4" height="19.8"/>
<text class="td" text-anchor="middle" transform="translate(702.8 727.5) rotate(-90)">2,90<tspan font-size="4.6" dy="-2.6">5</tspan></text>
<path class="ld" d="M1028.5 307.3L1028.5 788.5"/>
<path class="k" d="M1026.3 313.1L1030.9 308.5"/>
<path class="ld" d="M1022.6 310.5L1034.6 310.5"/>
<path class="k" d="M1026.3 443.1L1030.9 438.5"/>
<path class="ld" d="M1022.6 440.5L1034.6 440.5"/>
<path class="k" d="M1026.3 651.7L1030.9 647.1"/>
<path class="ld" d="M1022.6 649.5L1034.6 649.5"/>
<path class="k" d="M1026.3 787.3L1030.9 782.7"/>
<path class="ld" d="M1022.6 785.5L1034.6 785.5"/>
<rect class="wb" x="1020.6" y="366.4" width="8.4" height="19.8"/>
<text class="td" text-anchor="middle" transform="translate(1027.6 376.3) rotate(-90)">2,41<tspan font-size="4.6" dy="-2.6">5</tspan></text>
<rect class="wb" x="1020.6" y="536.6" width="8.4" height="16.8"/>
<text class="td" text-anchor="middle" transform="translate(1027.6 545) rotate(-90)">3,87</text>
<rect class="wb" x="1020.6" y="706.4" width="8.4" height="19.8"/>
<text class="td" text-anchor="middle" transform="translate(1027.6 716.3) rotate(-90)">2,52<tspan font-size="4.6" dy="-2.6">5</tspan></text>
<path class="ld" d="M1295.5 307.3L1295.5 767"/>
<path class="k" d="M1293.3 313.1L1297.9 308.5"/>
<path class="ld" d="M1289.6 310.5L1301.6 310.5"/>
<path class="k" d="M1293.3 443.1L1297.9 438.5"/>
<path class="ld" d="M1289.6 440.5L1301.6 440.5"/>
<path class="k" d="M1293.3 651.7L1297.9 647.1"/>
<path class="ld" d="M1289.6 649.5L1301.6 649.5"/>
<path class="k" d="M1293.3 765.8L1297.9 761.2"/>
<path class="ld" d="M1289.6 763.5L1301.6 763.5"/>
<rect class="wb" x="1287.6" y="367.6" width="8.4" height="19.8"/>
<text class="td" text-anchor="middle" transform="translate(1294.6 377.5) rotate(-90)">2,41<tspan font-size="4.6" dy="-2.6">5</tspan></text>
<rect class="wb" x="1287.6" y="536.6" width="8.4" height="16.8"/>
<text class="td" text-anchor="middle" transform="translate(1294.6 545) rotate(-90)">3,87</text>
<rect class="wb" x="1287.6" y="696.4" width="8.4" height="19.8"/>
<text class="td" text-anchor="middle" transform="translate(1294.6 706.3) rotate(-90)">2,12<tspan font-size="4.6" dy="-2.6">5</tspan></text>
<path class="ld" d="M1564.5 307.3L1564.5 745"/>
<path class="k" d="M1562.2 313.1L1566.8 308.5"/>
<path class="ld" d="M1558.5 310.5L1570.5 310.5"/>
<path class="k" d="M1562.2 443.1L1566.8 438.5"/>
<path class="ld" d="M1558.5 440.5L1570.5 440.5"/>
<path class="k" d="M1562.2 651.7L1566.8 647.1"/>
<path class="ld" d="M1558.5 649.5L1570.5 649.5"/>
<path class="k" d="M1562.2 743.8L1566.8 739.2"/>
<path class="ld" d="M1558.5 741.5L1570.5 741.5"/>
<rect class="wb" x="1555" y="365.1" width="8.4" height="19.8"/>
<text class="td" text-anchor="middle" transform="translate(1562 375) rotate(-90)">2,41<tspan font-size="4.6" dy="-2.6">5</tspan></text>
<rect class="wb" x="1555" y="536.6" width="8.4" height="16.8"/>
<text class="td" text-anchor="middle" transform="translate(1562 545) rotate(-90)">3,87</text>
<rect class="wb" x="1555" y="686.6" width="8.4" height="16.8"/>
<text class="td" text-anchor="middle" transform="translate(1562 695) rotate(-90)">1,71</text>
<path class="ld" d="M1866.5 307.3L1866.5 723.3"/>
<path class="k" d="M1864.5 313.1L1869.1 308.5"/>
<path class="ld" d="M1852.8 310.5L1871.8 310.5"/>
<path class="k" d="M1864.5 443.1L1869.1 438.5"/>
<path class="ld" d="M1852.8 440.5L1871.8 440.5"/>
<path class="k" d="M1864.5 651.7L1869.1 647.1"/>
<path class="ld" d="M1852.8 649.5L1871.8 649.5"/>
<path class="k" d="M1864.5 722.1L1869.1 717.5"/>
<path class="ld" d="M1852.8 719.5L1871.8 719.5"/>
<text class="td" text-anchor="middle" transform="translate(1863.8 377.5) rotate(-90)">2,41<tspan font-size="4.6" dy="-2.6">5</tspan></text>
<text class="td" text-anchor="middle" transform="translate(1863.8 545) rotate(-90)">3,87</text>
<text class="td" text-anchor="middle" transform="translate(1863.8 683.8) rotate(-90)">1,30<tspan font-size="4.6" dy="-2.6">5</tspan></text>
<path class="ld" d="M1899.5 716.3L1899.5 864.1"/>
<path class="k" d="M1897 722.1L1901.6 717.5"/>
<path class="ld" d="M1894.3 719.5L1904.3 719.5"/>
<path class="k" d="M1897 827.8L1901.6 823.2"/>
<path class="ld" d="M1894.3 825.5L1904.3 825.5"/>
<path class="k" d="M1897 862.9L1901.6 858.3"/>
<path class="ld" d="M1894.3 860.5L1904.3 860.5"/>
<text class="td" text-anchor="middle" transform="translate(1897 771.8) rotate(-90)">1,97</text>
<text class="td" text-anchor="middle" transform="translate(1897 842.5) rotate(-90)">65</text>
<path class="" d="M1777.5 825.5L1885 825.5" stroke="#e0506e" stroke-width=".8"/>
<text class="td" x="1876.8" y="817.8" text-anchor="middle">+0,00</text>
<path class="k" d="M1873.3 819.8L1880.3 819.8L1876.8 825.2Z"/>
<path class="ld" d="M110.5 165.5L230.5 165.5"/>
<path class="k" d="M114.2 167.9L118.8 163.3"/>
<path class="ld" d="M116.5 162.2L116.5 169"/>
<path class="k" d="M167.7 167.9L172.3 163.3"/>
<path class="ld" d="M170.5 162.2L170.5 169"/>
<path class="k" d="M221.9 167.9L226.5 163.3"/>
<path class="ld" d="M224.5 162.2L224.5 169"/>
<path class="ld" d="M170.5 165.6L170.5 177.5"/>
<text class="td" x="143.3" y="163" text-anchor="middle">1,00</text>
<text class="td" x="197.2" y="163" text-anchor="middle">1,00</text>
<path class="ld" d="M442.5 202.5L467.5 202.5"/>
<path class="k" d="M445.3 204.9L449.9 200.3"/>
<path class="k" d="M459 204.9L463.6 200.3"/>
<path class="ld" d="M447.5 199.5L447.5 210"/>
<path class="ld" d="M461.5 199.5L461.5 206"/>
<text class="td" x="454.5" y="201.2" text-anchor="middle">25</text>
<path class="ld" d="M992.5 282.5L1017.5 282.5"/>
<path class="k" d="M995.5 284.3L1000.1 279.7"/>
<path class="k" d="M1010.2 284.3L1014.8 279.7"/>
<path class="ld" d="M997.5 279L997.5 286"/>
<path class="ld" d="M1012.5 279L1012.5 286"/>
<text class="td" x="1005.4" y="278.8" text-anchor="middle">25</text>
<path class="ld" d="M448 182.6L1024.5 262.5"/>
<path class="k" d="M452.2 185.8L456.8 181.2"/>
<path class="k" d="M1017.7 264.2L1022.3 259.6"/>
<path class="ld" d="M455.5 177.5L453.3 193"/>
<path class="ld" d="M1021 255.5L1016 291"/>
<rect class="wb" x="-11" y="-7" width="22" height="8" transform="translate(737.6 222.4) rotate(7.89)"/>
<text class="td" text-anchor="middle" transform="translate(737.6 222.2) rotate(7.89)">10,60</text>
<path class="ld" d="M817.5 234.5L811 285.5"/>
<path class="k" d="M814.7 241.6L819.3 237"/>
<path class="k" d="M809.3 283.3L813.9 278.7"/>
<text class="td" text-anchor="middle" transform="translate(813.2 261.5) rotate(-82.1)">7,89<tspan font-size="4.6" dy="-2.6">5</tspan></text>
</g>
<g id="toplabels">
<path class="ld" d="M213.5 108.5L213.5 256"/>
<rect class="pl" x="202.25" y="33.05" width="10.9" height="54.5" rx="5.45" fill="#fff"/>
<text class="tp" text-anchor="middle" transform="translate(211 60.3) rotate(-90)">MB-44</text>
<text class="tsg" transform="translate(221.9 108.2) rotate(-90)">Σ4.30.3471.800.800.10</text>
<path class="ld" d="M259.5 108.5L259.5 254.5"/>
<rect class="pl" x="248.55" y="33.05" width="10.9" height="54.5" rx="5.45" fill="#fff"/>
<text class="tp" text-anchor="middle" transform="translate(257.3 60.3) rotate(-90)">MB-44</text>
<text class="tsg" transform="translate(268.2 108.2) rotate(-90)">Σ4.30.3471.800.800.10</text>
<path class="ld" d="M305.5 108.5L305.5 259.5"/>
<rect class="pl" x="294.75" y="33.05" width="10.9" height="54.5" rx="5.45" fill="#fff"/>
<text class="tp" text-anchor="middle" transform="translate(303.5 60.3) rotate(-90)">MB-44</text>
<text class="tsg" transform="translate(314.4 108.2) rotate(-90)">Σ4.30.3471.800.800.10</text>
<path class="ld" d="M353.5 108.5L353.5 260.5"/>
<rect class="pl" x="342.55" y="33.05" width="10.9" height="54.5" rx="5.45" fill="#fff"/>
<text class="tp" text-anchor="middle" transform="translate(351.3 60.3) rotate(-90)">MB-44</text>
<text class="tsg" transform="translate(362.2 108.2) rotate(-90)">Σ4.30.3471.800.800.10</text>
<path class="ld" d="M394.5 108.5L394.5 257"/>
<rect class="pl" x="383.65" y="33.05" width="10.9" height="54.5" rx="5.45" fill="#fff"/>
<text class="tp" text-anchor="middle" transform="translate(392.4 60.3) rotate(-90)">MB-45</text>
<text class="tsg" transform="translate(403.3 108.2) rotate(-90)">Σ2.45.3471.800.800.10</text>
<path class="ld" d="M439.5 178.8L439.5 264"/>
<rect class="pl" x="428.65" y="103.35" width="10.9" height="54.5" rx="5.45" fill="#fff"/>
<text class="tp" text-anchor="middle" transform="translate(437.4 130.6) rotate(-90)">MB-45</text>
<text class="tsg" transform="translate(448.3 178.5) rotate(-90)">Σ2.45.3471.800.800.10</text>
<path class="ld" d="M488.5 178.8L488.5 259"/>
<rect class="pl" x="477.15" y="103.35" width="10.9" height="54.5" rx="5.45" fill="#fff"/>
<text class="tp" text-anchor="middle" transform="translate(485.9 130.6) rotate(-90)">MB-46</text>
<text class="tsg" transform="translate(496.8 178.5) rotate(-90)">Σ1.60.3411.800.792.10</text>
<path class="ld" d="M535.5 178.8L535.5 262"/>
<rect class="pl" x="524.25" y="103.35" width="10.9" height="54.5" rx="5.45" fill="#fff"/>
<text class="tp" text-anchor="middle" transform="translate(533 130.6) rotate(-90)">MB-48</text>
<text class="tsg" transform="translate(543.9 178.5) rotate(-90)">Σ1.90.3181.800.792.10</text>
<path class="ld" d="M575.5 178.8L575.5 272"/>
<rect class="pl" x="564.25" y="103.35" width="10.9" height="54.5" rx="5.45" fill="#fff"/>
<text class="tp" text-anchor="middle" transform="translate(573 130.6) rotate(-90)">MB-48</text>
<text class="tsg" transform="translate(583.9 178.5) rotate(-90)">Σ1.90.3181.800.792.10</text>
<path class="ld" d="M622.5 178.8L622.5 285"/>
<rect class="pl" x="611.15" y="103.35" width="10.9" height="54.5" rx="5.45" fill="#fff"/>
<text class="tp" text-anchor="middle" transform="translate(619.9 130.6) rotate(-90)">MB-49</text>
<text class="tsg" transform="translate(630.8 178.5) rotate(-90)">Σ1.90.3066.800.792.10</text>
<path class="ld" d="M667.5 178.8L667.5 283"/>
<rect class="pl" x="655.95" y="103.35" width="10.9" height="54.5" rx="5.45" fill="#fff"/>
<text class="tp" text-anchor="middle" transform="translate(664.7 130.6) rotate(-90)">MB-50</text>
<text class="tsg" transform="translate(675.6 178.5) rotate(-90)">Σ1.90.2951.800.792.10</text>
<path class="ld" d="M713.5 178.8L713.5 288"/>
<rect class="pl" x="702.35" y="103.35" width="10.9" height="54.5" rx="5.45" fill="#fff"/>
<text class="tp" text-anchor="middle" transform="translate(711.1 130.6) rotate(-90)">MB-51</text>
<text class="tsg" transform="translate(722 178.5) rotate(-90)">Σ1.90.2836.820.812.10</text>
<path class="ld" d="M757.5 178.8L757.5 296"/>
<rect class="pl" x="746.45" y="103.35" width="10.9" height="54.5" rx="5.45" fill="#fff"/>
<text class="tp" text-anchor="middle" transform="translate(755.2 130.6) rotate(-90)">MB-52</text>
<text class="tsg" transform="translate(766.1 178.5) rotate(-90)">Σ1.90.2719.740.733.10</text>
<path class="ld" d="M793.5 178.8L793.5 300"/>
<rect class="pl" x="782.75" y="103.35" width="10.9" height="54.5" rx="5.45" fill="#fff"/>
<text class="tp" text-anchor="middle" transform="translate(791.5 130.6) rotate(-90)">MB-53</text>
<text class="tsg" transform="translate(802.4 178.5) rotate(-90)">Σ1.90.2612.740.733.10</text>
<path class="ld" d="M839.5 178.8L839.5 306"/>
<rect class="pl" x="828.35" y="103.35" width="10.9" height="54.5" rx="5.45" fill="#fff"/>
<text class="tp" text-anchor="middle" transform="translate(837.1 130.6) rotate(-90)">MB-54</text>
<text class="tsg" transform="translate(848 178.5) rotate(-90)">Σ1.90.2505.740.733.10</text>
<path class="ld" d="M884.5 178.8L884.5 314"/>
<rect class="pl" x="873.35" y="103.35" width="10.9" height="54.5" rx="5.45" fill="#fff"/>
<text class="tp" text-anchor="middle" transform="translate(882.1 130.6) rotate(-90)">MB-55</text>
<text class="tsg" transform="translate(893 178.5) rotate(-90)">Σ1.90.2398.760.753.10</text>
<path class="ld" d="M920.5 178.8L920.5 316"/>
<rect class="pl" x="909.55" y="103.35" width="10.9" height="54.5" rx="5.45" fill="#fff"/>
<text class="tp" text-anchor="middle" transform="translate(918.3 130.6) rotate(-90)">MB-56</text>
<text class="tsg" transform="translate(929.2 178.5) rotate(-90)">Σ1.90.2289.740.733.10</text>
<path class="ld" d="M963.5 178.8L963.5 323"/>
<rect class="pl" x="952.55" y="103.35" width="10.9" height="54.5" rx="5.45" fill="#fff"/>
<text class="tp" text-anchor="middle" transform="translate(961.3 130.6) rotate(-90)">MB-57</text>
<text class="tsg" transform="translate(972.2 178.5) rotate(-90)">Σ1.90.2182.740.733.10</text>
<path class="ld" d="M1007.5 178.8L1007.5 330"/>
<rect class="pl" x="996.55" y="103.35" width="10.9" height="54.5" rx="5.45" fill="#fff"/>
<text class="tp" text-anchor="middle" transform="translate(1005.3 130.6) rotate(-90)">MB-58</text>
<text class="tsg" transform="translate(1016.2 178.5) rotate(-90)">Σ1.90.2076.780.773.10</text>
<path class="ld" d="M1091.5 178.8L1091.5 334"/>
<rect class="pl" x="1080.35" y="103.35" width="10.9" height="54.5" rx="5.45" fill="#fff"/>
<text class="tp" text-anchor="middle" transform="translate(1089.1 130.6) rotate(-90)">MB-59</text>
<text class="tsg" transform="translate(1100 178.5) rotate(-90)">Σ3.90.2016.780.780.10</text>
<path class="ld" d="M1221.5 178.8L1221.5 331"/>
<rect class="pl" x="1210.25" y="103.35" width="10.9" height="54.5" rx="5.45" fill="#fff"/>
<text class="tp" text-anchor="middle" transform="translate(1219 130.6) rotate(-90)">MB-61</text>
<text class="tsg" transform="translate(1229.9 178.5) rotate(-90)">Σ1.60.2016.800.800.10</text>
<path class="ld" d="M1275.5 178.8L1275.5 333"/>
<rect class="pl" x="1264.45" y="103.35" width="10.9" height="54.5" rx="5.45" fill="#fff"/>
<text class="tp" text-anchor="middle" transform="translate(1273.2 130.6) rotate(-90)">MB-62</text>
<text class="tsg" transform="translate(1284.1 178.5) rotate(-90)">Σ1.45.2016.780.780.10</text>
<path class="ld" d="M1393.5 178.8L1393.5 338"/>
<rect class="pl" x="1381.95" y="103.35" width="10.9" height="54.5" rx="5.45" fill="#fff"/>
<text class="tp" text-anchor="middle" transform="translate(1390.7 130.6) rotate(-90)">MB-63</text>
<text class="tsg" transform="translate(1401.6 178.5) rotate(-90)">Σ4.30.2016.780.780.10</text>
<path class="ld" d="M1499.5 178.8L1499.5 354"/>
<rect class="pl" x="1488.55" y="103.35" width="10.9" height="54.5" rx="5.45" fill="#fff"/>
<text class="tp" text-anchor="middle" transform="translate(1497.3 130.6) rotate(-90)">MB-64</text>
<text class="tsg" transform="translate(1508.2 178.5) rotate(-90)">Σ1.30.2016.800.800.10</text>
<path class="ld" d="M1542.5 178.8L1542.5 334"/>
<rect class="pl" x="1530.95" y="103.35" width="10.9" height="54.5" rx="5.45" fill="#fff"/>
<text class="tp" text-anchor="middle" transform="translate(1539.7 130.6) rotate(-90)">MB-65</text>
<text class="tsg" transform="translate(1550.6 178.5) rotate(-90)">Σ1.30.2016.720.720.10</text>
<path class="ld" d="M1606.5 178.8L1606.5 336"/>
<rect class="pl" x="1595.25" y="103.35" width="10.9" height="54.5" rx="5.45" fill="#fff"/>
<text class="tp" text-anchor="middle" transform="translate(1604 130.6) rotate(-90)">MB-66</text>
<text class="tsg" transform="translate(1614.9 178.5) rotate(-90)">Σ2.45.2016.720.720.10</text>
<path class="ld" d="M1660.5 178.8L1660.5 345"/>
<rect class="pl" x="1649.35" y="103.35" width="10.9" height="54.5" rx="5.45" fill="#fff"/>
<text class="tp" text-anchor="middle" transform="translate(1658.1 130.6) rotate(-90)">MB-67</text>
<text class="tsg" transform="translate(1669 178.5) rotate(-90)">Σ1.60.2016.720.720.10</text>
<path class="ld" d="M1740.5 178.8L1740.5 340"/>
<rect class="pl" x="1729.75" y="103.35" width="10.9" height="54.5" rx="5.45" fill="#fff"/>
<text class="tp" text-anchor="middle" transform="translate(1738.5 130.6) rotate(-90)">MB-68</text>
<text class="tsg" transform="translate(1749.4 178.5) rotate(-90)">Σ2.75.2016.720.720.10</text>
<path class="ld" d="M1790.5 178.8L1790.5 340"/>
<rect class="pl" x="1779.75" y="103.35" width="10.9" height="54.5" rx="5.45" fill="#fff"/>
<text class="tp" text-anchor="middle" transform="translate(1788.5 130.6) rotate(-90)">MB-69</text>
<text class="tsg" transform="translate(1799.4 178.5) rotate(-90)">Σ2.90.2016.720.720.10</text>
</g>
<g id="botlabels">
<path class="ld" d="M753.5 1012.2L753.5 700"/>
<rect class="pl" x="742.25" y="1033.75" width="10.9" height="54.5" rx="5.45" fill="#fff"/>
<text class="tp" text-anchor="middle" transform="translate(751 1061) rotate(-90)">MB-3</text>
<text class="tsg" transform="translate(761.9 1110.2) rotate(-90)">Σ1.90.2540.720.720.10</text>
<path class="ld" d="M797.5 1012.2L797.5 713.5"/>
<rect class="pl" x="786.45" y="1033.75" width="10.9" height="54.5" rx="5.45" fill="#fff"/>
<text class="tp" text-anchor="middle" transform="translate(795.2 1061) rotate(-90)">MB-4</text>
<text class="tsg" transform="translate(806.1 1110.2) rotate(-90)">Σ1.90.2494.720.720.10</text>
<path class="ld" d="M840.5 1012.2L840.5 706"/>
<rect class="pl" x="829.55" y="1033.75" width="10.9" height="54.5" rx="5.45" fill="#fff"/>
<text class="tp" text-anchor="middle" transform="translate(838.3 1061) rotate(-90)">MB-5</text>
<text class="tsg" transform="translate(849.2 1110.2) rotate(-90)">Σ1.90.2418.720.720.10</text>
<path class="ld" d="M875.5 1012.2L875.5 712"/>
<rect class="pl" x="863.95" y="1033.75" width="10.9" height="54.5" rx="5.45" fill="#fff"/>
<text class="tp" text-anchor="middle" transform="translate(872.7 1061) rotate(-90)">MB-6</text>
<text class="tsg" transform="translate(883.6 1110.2) rotate(-90)">Σ1.90.2341.760.760.10</text>
<path class="ld" d="M918.5 1012.2L918.5 713.5"/>
<rect class="pl" x="907.65" y="1033.75" width="10.9" height="54.5" rx="5.45" fill="#fff"/>
<text class="tp" text-anchor="middle" transform="translate(916.4 1061) rotate(-90)">MB-7</text>
<text class="tsg" transform="translate(927.3 1110.2) rotate(-90)">Σ1.90.2263.720.720.10</text>
<path class="ld" d="M960.5 1012.2L960.5 710"/>
<rect class="pl" x="949.45" y="1033.75" width="10.9" height="54.5" rx="5.45" fill="#fff"/>
<text class="tp" text-anchor="middle" transform="translate(958.2 1061) rotate(-90)">MB-8</text>
<text class="tsg" transform="translate(969.1 1110.2) rotate(-90)">Σ1.90.2187.720.720.10</text>
<path class="ld" d="M1004.5 1012.2L1004.5 707"/>
<rect class="pl" x="993.45" y="1033.75" width="10.9" height="54.5" rx="5.45" fill="#fff"/>
<text class="tp" text-anchor="middle" transform="translate(1002.2 1061) rotate(-90)">MB-9</text>
<text class="tsg" transform="translate(1013.1 1110.2) rotate(-90)">Σ1.90.2140.780.780.10</text>
<path class="ld" d="M1053.5 1012.2L1053.5 699.5"/>
<rect class="pl" x="1041.95" y="1033.75" width="10.9" height="54.5" rx="5.45" fill="#fff"/>
<text class="tp" text-anchor="middle" transform="translate(1050.7 1061) rotate(-90)">MB-10</text>
<text class="tsg" transform="translate(1061.6 1110.2) rotate(-90)">Σ1.90.2097.780.780.10</text>
<path class="ld" d="M1095.5 1012.2L1095.5 706"/>
<rect class="pl" x="1083.95" y="1033.75" width="10.9" height="54.5" rx="5.45" fill="#fff"/>
<text class="tp" text-anchor="middle" transform="translate(1092.7 1061) rotate(-90)">MB-11</text>
<text class="tsg" transform="translate(1103.6 1110.2) rotate(-90)">Σ1.90.2021.780.780.10</text>
<path class="ld" d="M1134.5 1012.2L1134.5 707"/>
<rect class="pl" x="1123.55" y="1033.75" width="10.9" height="54.5" rx="5.45" fill="#fff"/>
<text class="tp" text-anchor="middle" transform="translate(1132.3 1061) rotate(-90)">MB-12</text>
<text class="tsg" transform="translate(1143.2 1110.2) rotate(-90)">Σ1.90.1944.780.780.10</text>
<path class="ld" d="M1185.5 1012.2L1185.5 690"/>
<rect class="pl" x="1173.95" y="1033.75" width="10.9" height="54.5" rx="5.45" fill="#fff"/>
<text class="tp" text-anchor="middle" transform="translate(1182.7 1061) rotate(-90)">MB-13</text>
<text class="tsg" transform="translate(1193.6 1110.2) rotate(-90)">Σ1.75.1868.780.780.10</text>
<path class="ld" d="M1232.5 1012.2L1232.5 687.5"/>
<rect class="pl" x="1221.45" y="1033.75" width="10.9" height="54.5" rx="5.45" fill="#fff"/>
<text class="tp" text-anchor="middle" transform="translate(1230.2 1061) rotate(-90)">MB-14</text>
<text class="tsg" transform="translate(1241.1 1110.2) rotate(-90)">Σ1.60.1791.800.800.10</text>
<path class="ld" d="M1273.5 1012.2L1273.5 690"/>
<rect class="pl" x="1262.25" y="1033.75" width="10.9" height="54.5" rx="5.45" fill="#fff"/>
<text class="tp" text-anchor="middle" transform="translate(1271 1061) rotate(-90)">MB-15</text>
<text class="tsg" transform="translate(1281.9 1110.2) rotate(-90)">Σ1.45.1740.780.780.10</text>
<path class="ld" d="M1325.5 1012.2L1325.5 700"/>
<rect class="pl" x="1314.75" y="1033.75" width="10.9" height="54.5" rx="5.45" fill="#fff"/>
<text class="tp" text-anchor="middle" transform="translate(1323.5 1061) rotate(-90)">MB-16</text>
<text class="tsg" transform="translate(1334.4 1110.2) rotate(-90)">Σ1.30.1696.780.780.10</text>
<path class="ld" d="M1367.5 1012.2L1367.5 700"/>
<rect class="pl" x="1355.95" y="1033.75" width="10.9" height="54.5" rx="5.45" fill="#fff"/>
<text class="tp" text-anchor="middle" transform="translate(1364.7 1061) rotate(-90)">MB-17</text>
<text class="tsg" transform="translate(1375.6 1110.2) rotate(-90)">Σ1.30.1616.780.780.10</text>
<path class="ld" d="M1410.5 1012.2L1410.5 692"/>
<rect class="pl" x="1398.95" y="1033.75" width="10.9" height="54.5" rx="5.45" fill="#fff"/>
<text class="tp" text-anchor="middle" transform="translate(1407.7 1061) rotate(-90)">MB-18</text>
<text class="tsg" transform="translate(1418.6 1110.2) rotate(-90)">Σ1.30.1537.780.780.10</text>
<path class="ld" d="M1456.5 1012.2L1456.5 712"/>
<rect class="pl" x="1445.25" y="1033.75" width="10.9" height="54.5" rx="5.45" fill="#fff"/>
<text class="tp" text-anchor="middle" transform="translate(1454 1061) rotate(-90)">MB-19</text>
<text class="tsg" transform="translate(1464.9 1110.2) rotate(-90)">Σ1.30.1457.780.780.10</text>
<path class="ld" d="M1502.5 1012.2L1502.5 690"/>
<rect class="pl" x="1490.95" y="1033.75" width="10.9" height="54.5" rx="5.45" fill="#fff"/>
<text class="tp" text-anchor="middle" transform="translate(1499.7 1061) rotate(-90)">MB-20</text>
<text class="tsg" transform="translate(1510.6 1110.2) rotate(-90)">Σ1.30.1378.800.800.10</text>
<path class="ld" d="M1547.5 1012.2L1547.5 690"/>
<rect class="pl" x="1535.95" y="1033.75" width="10.9" height="54.5" rx="5.45" fill="#fff"/>
<text class="tp" text-anchor="middle" transform="translate(1544.7 1061) rotate(-90)">MB-21</text>
<text class="tsg" transform="translate(1555.6 1110.2) rotate(-90)">Σ1.30.1325.720.720.10</text>
<path class="ld" d="M1582.5 1012.2L1582.5 696"/>
<rect class="pl" x="1571.45" y="1033.75" width="10.9" height="54.5" rx="5.45" fill="#fff"/>
<text class="tp" text-anchor="middle" transform="translate(1580.2 1061) rotate(-90)">MB-22</text>
<text class="tsg" transform="translate(1591.1 1110.2) rotate(-90)">Σ1.15.1290.720.720.10</text>
</g>
<g id="hlabels">
<rect class="pl" x="218.6" y="539.8" width="54" height="10.4" rx="5.2" fill="#fff"/>
<text class="tp" x="245.6" y="548.3" text-anchor="middle">MB-29</text>
<text class="t" x="245.6" y="558.9" text-anchor="middle">Σ5.30.3471.800.800.01</text>
<rect class="pl" x="344" y="539.8" width="54" height="10.4" rx="5.2" fill="#fff"/>
<text class="tp" x="371" y="548.3" text-anchor="middle">MB-30</text>
<text class="t" x="371" y="558.9" text-anchor="middle">Σ2.45.3471.800.800.01</text>
<rect class="pl" x="439.3" y="561.3" width="54" height="10.4" rx="5.2" fill="#fff"/>
<text class="tp" x="466.3" y="569.8" text-anchor="middle">MB-31</text>
<text class="t" x="466.3" y="580.4" text-anchor="middle">Σ1.60.3471.780.780.01</text>
<rect class="pl" x="488.5" y="539.8" width="54" height="10.4" rx="5.2" fill="#fff"/>
<text class="tp" x="515.5" y="548.3" text-anchor="middle">MB-32</text>
<text class="t" x="515.5" y="558.9" text-anchor="middle">Σ2.75.3471.780.780.01</text>
<rect class="pl" x="622.5" y="539.8" width="54" height="10.4" rx="5.2" fill="#fff"/>
<text class="tp" x="649.5" y="548.3" text-anchor="middle">MB-33</text>
<text class="t" x="649.5" y="558.9" text-anchor="middle">Σ7.90.3471.780.780.01</text>
<rect class="pl" x="837.3" y="539.8" width="54" height="10.4" rx="5.2" fill="#fff"/>
<text class="tp" x="864.3" y="548.3" text-anchor="middle">MB-36</text>
<text class="t" x="864.3" y="558.9" text-anchor="middle">Σ1.90.3471.760.760.01</text>
<rect class="pl" x="921" y="561.3" width="54" height="10.4" rx="5.2" fill="#fff"/>
<text class="tp" x="948" y="569.8" text-anchor="middle">MB-35</text>
<text class="t" x="948" y="580.4" text-anchor="middle">Σ7.90.3471.720.720.01</text>
<rect class="pl" x="1141" y="539.8" width="54" height="10.4" rx="5.2" fill="#fff"/>
<text class="tp" x="1168" y="548.3" text-anchor="middle">MB-32</text>
<text class="t" x="1168" y="558.9" text-anchor="middle">Σ2.75.3471.780.780.01</text>
<rect class="pl" x="1185.8" y="561.3" width="54" height="10.4" rx="5.2" fill="#fff"/>
<text class="tp" x="1212.8" y="569.8" text-anchor="middle">MB-37</text>
<text class="t" x="1212.8" y="580.4" text-anchor="middle">Σ1.60.3471.800.800.01</text>
<rect class="pl" x="1237.8" y="586.1" width="54" height="10.4" rx="5.2" fill="#fff"/>
<text class="tp" x="1264.8" y="594.6" text-anchor="middle">MB-38</text>
<text class="t" x="1264.8" y="605.2" text-anchor="middle">Σ1.45.3471.780.780.01</text>
<rect class="pl" x="1365.5" y="539.8" width="54" height="10.4" rx="5.2" fill="#fff"/>
<text class="tp" x="1392.5" y="548.3" text-anchor="middle">MB-39</text>
<text class="t" x="1392.5" y="558.9" text-anchor="middle">Σ4.30.3471.780.780.01</text>
<rect class="pl" x="1454.8" y="561.3" width="54" height="10.4" rx="5.2" fill="#fff"/>
<text class="tp" x="1481.8" y="569.8" text-anchor="middle">MB-29</text>
<text class="t" x="1481.8" y="580.4" text-anchor="middle">Σ5.30.3471.800.800.01</text>
<rect class="pl" x="1500" y="582.8" width="54" height="10.4" rx="5.2" fill="#fff"/>
<text class="tp" x="1527" y="591.3" text-anchor="middle">MB-40</text>
<text class="t" x="1527" y="601.9" text-anchor="middle">Σ1.30.3471.720.720.01</text>
<rect class="pl" x="1583" y="539.8" width="54" height="10.4" rx="5.2" fill="#fff"/>
<text class="tp" x="1610" y="548.3" text-anchor="middle">MB-41</text>
<text class="t" x="1610" y="558.9" text-anchor="middle">Σ2.45.3471.720.720.01</text>
<rect class="pl" x="1626" y="561.3" width="54" height="10.4" rx="5.2" fill="#fff"/>
<text class="tp" x="1653" y="569.8" text-anchor="middle">MB-42</text>
<text class="t" x="1653" y="580.4" text-anchor="middle">Σ1.60.3471.720.720.01</text>
<rect class="pl" x="1706.5" y="539.8" width="54" height="10.4" rx="5.2" fill="#fff"/>
<text class="tp" x="1733.5" y="548.3" text-anchor="middle">MB-43</text>
<text class="t" x="1733.5" y="558.9" text-anchor="middle">Σ2.75.3471.720.720.01</text>
<rect class="pl" x="1788.5" y="561.3" width="54" height="10.4" rx="5.2" fill="#fff"/>
<text class="tp" x="1815.5" y="569.8" text-anchor="middle">MB-35</text>
<text class="t" x="1815.5" y="580.4" text-anchor="middle">Σ7.90.3471.720.720.01</text>
<rect class="pl" x="264" y="723.3" width="54" height="10.4" rx="5.2" fill="#fff"/>
<text class="tp" x="291" y="731.8" text-anchor="middle">MB-0</text>
<text class="t" x="291" y="742.4" text-anchor="middle">Σ4.30.2540.800.800.10</text>
<rect class="pl" x="399" y="744.8" width="54" height="10.4" rx="5.2" fill="#fff"/>
<text class="tp" x="426" y="753.3" text-anchor="middle">MB-1</text>
<text class="t" x="426" y="763.9" text-anchor="middle">Σ2.45.2540.800.800.10</text>
<rect class="pl" x="444" y="697.3" width="54" height="10.4" rx="5.2" fill="#fff"/>
<text class="tp" x="471" y="705.8" text-anchor="middle">MB-2</text>
<text class="t" x="471" y="716.4" text-anchor="middle">Σ1.60.2540.800.800.10</text>
</g>
</svg></body></html>
